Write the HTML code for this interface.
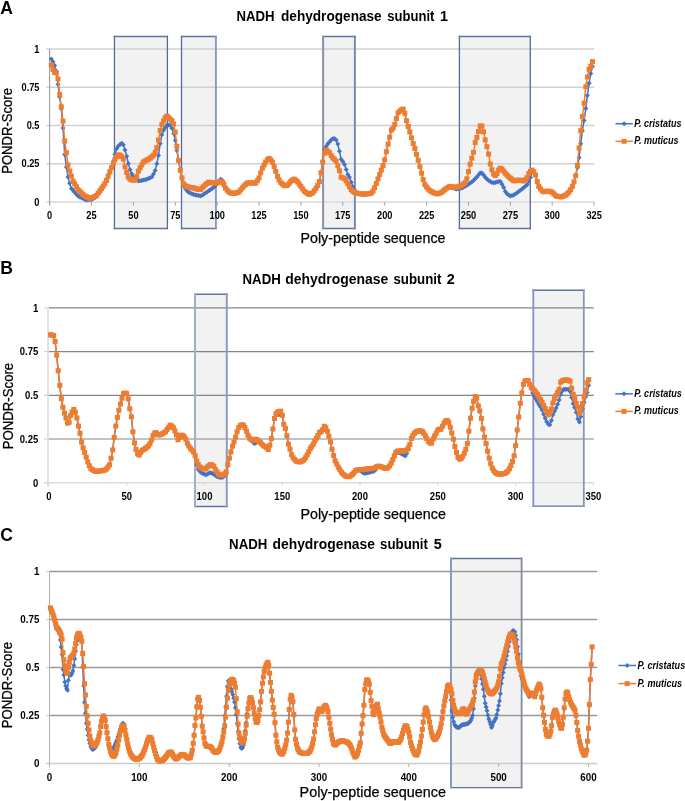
<!DOCTYPE html>
<html><head><meta charset="utf-8"><title>PONDR plots</title>
<style>html,body{margin:0;padding:0;background:#fff;width:685px;height:801px;overflow:hidden}
svg{display:block;font-family:"Liberation Sans", Arial, sans-serif;fill:#000}</style></head>
<body><svg width="685" height="801" viewBox="0 0 685 801">
<defs><path id="dm" d="M0,-2.5L2.5,0L0,2.5L-2.5,0Z" fill="#4472C4"/><rect id="sq" x="-2.5" y="-2.5" width="5" height="5" fill="#ED7D31"/></defs>
<g><text x="0.3" y="14.0" font-size="17.5" font-weight="bold">A</text>
<text x="236.5" y="20.9" font-size="14.4" font-weight="bold" textLength="38.1" lengthAdjust="spacingAndGlyphs">NADH</text>
<text x="281.0" y="20.9" font-size="14.4" font-weight="bold" textLength="100.7" lengthAdjust="spacingAndGlyphs">dehydrogenase</text>
<text x="387.2" y="20.9" font-size="14.4" font-weight="bold" textLength="47.2" lengthAdjust="spacingAndGlyphs">subunit</text>
<text x="444.1" y="20.9" font-size="14.4" font-weight="bold" text-anchor="middle">1</text>
<rect x="114.5" y="36.5" width="52.9" height="192.0" fill="#f2f2f2"/>
<rect x="181.6" y="36.5" width="34.0" height="192.0" fill="#f2f2f2"/>
<rect x="323" y="36.5" width="31.7" height="192.0" fill="#f2f2f2"/>
<rect x="459.5" y="36.5" width="71.0" height="192.0" fill="#f2f2f2"/>
<line x1="46.4" x2="49.6" y1="48.9" y2="48.9" stroke="#d0d0d0" stroke-width="1.5"/>
<line x1="49.6" x2="594.2" y1="48.9" y2="48.9" stroke="#d0d0d0" stroke-width="1.5"/>
<line x1="46.4" x2="49.6" y1="87.2" y2="87.2" stroke="#d0d0d0" stroke-width="1.5"/>
<line x1="49.6" x2="594.2" y1="87.2" y2="87.2" stroke="#d0d0d0" stroke-width="1.5"/>
<line x1="46.4" x2="49.6" y1="125.5" y2="125.5" stroke="#d0d0d0" stroke-width="1.5"/>
<line x1="49.6" x2="594.2" y1="125.5" y2="125.5" stroke="#d0d0d0" stroke-width="1.5"/>
<line x1="46.4" x2="49.6" y1="163.8" y2="163.8" stroke="#d0d0d0" stroke-width="1.5"/>
<line x1="49.6" x2="594.2" y1="163.8" y2="163.8" stroke="#d0d0d0" stroke-width="1.5"/>
<line x1="46.4" x2="594.2" y1="202.1" y2="202.1" stroke="#d9d9d9" stroke-width="1.5"/>
<line x1="49.6" x2="49.6" y1="48.9" y2="205.6" stroke="#a0a0a0" stroke-width="1.1"/>
<line x1="49.6" x2="49.6" y1="202.1" y2="205.6" stroke="#a0a0a0" stroke-width="1"/>
<line x1="91.5" x2="91.5" y1="202.1" y2="205.6" stroke="#a0a0a0" stroke-width="1"/>
<line x1="133.4" x2="133.4" y1="202.1" y2="205.6" stroke="#a0a0a0" stroke-width="1"/>
<line x1="175.3" x2="175.3" y1="202.1" y2="205.6" stroke="#a0a0a0" stroke-width="1"/>
<line x1="217.2" x2="217.2" y1="202.1" y2="205.6" stroke="#a0a0a0" stroke-width="1"/>
<line x1="259.0" x2="259.0" y1="202.1" y2="205.6" stroke="#a0a0a0" stroke-width="1"/>
<line x1="300.9" x2="300.9" y1="202.1" y2="205.6" stroke="#a0a0a0" stroke-width="1"/>
<line x1="342.8" x2="342.8" y1="202.1" y2="205.6" stroke="#a0a0a0" stroke-width="1"/>
<line x1="384.7" x2="384.7" y1="202.1" y2="205.6" stroke="#a0a0a0" stroke-width="1"/>
<line x1="426.6" x2="426.6" y1="202.1" y2="205.6" stroke="#a0a0a0" stroke-width="1"/>
<line x1="468.5" x2="468.5" y1="202.1" y2="205.6" stroke="#a0a0a0" stroke-width="1"/>
<line x1="510.4" x2="510.4" y1="202.1" y2="205.6" stroke="#a0a0a0" stroke-width="1"/>
<line x1="552.2" x2="552.2" y1="202.1" y2="205.6" stroke="#a0a0a0" stroke-width="1"/>
<line x1="594.1" x2="594.1" y1="202.1" y2="205.6" stroke="#a0a0a0" stroke-width="1"/>
<line x1="113.80" x2="168.05" y1="36.5" y2="36.5" stroke="#62729c" stroke-width="1.4"/>
<line x1="113.80" x2="168.05" y1="228.5" y2="228.5" stroke="#62729c" stroke-width="1.4"/>
<line x1="114.45" x2="114.45" y1="35.8" y2="229.2" stroke="#566a9e" stroke-width="1.3"/>
<line x1="167.4" x2="167.4" y1="35.8" y2="229.2" stroke="#566a9e" stroke-width="1.3"/>
<line x1="180.85" x2="216.85" y1="36.5" y2="36.5" stroke="#62729c" stroke-width="1.4"/>
<line x1="180.85" x2="216.85" y1="228.5" y2="228.5" stroke="#62729c" stroke-width="1.4"/>
<line x1="181.5" x2="181.5" y1="35.8" y2="229.2" stroke="#566a9e" stroke-width="1.3"/>
<line x1="215.9" x2="215.9" y1="35.8" y2="229.2" stroke="#8898c0" stroke-width="1.9"/>
<line x1="322.10" x2="355.90" y1="36.5" y2="36.5" stroke="#62729c" stroke-width="1.4"/>
<line x1="322.10" x2="355.90" y1="228.5" y2="228.5" stroke="#62729c" stroke-width="1.4"/>
<line x1="323.1" x2="323.1" y1="35.8" y2="229.2" stroke="#8890b0" stroke-width="2.0"/>
<line x1="354.9" x2="354.9" y1="35.8" y2="229.2" stroke="#7c88b0" stroke-width="2.0"/>
<line x1="458.75" x2="530.95" y1="36.5" y2="36.5" stroke="#62729c" stroke-width="1.4"/>
<line x1="458.75" x2="530.95" y1="228.5" y2="228.5" stroke="#62729c" stroke-width="1.4"/>
<line x1="459.4" x2="459.4" y1="35.8" y2="229.2" stroke="#566a9e" stroke-width="1.3"/>
<line x1="530.3" x2="530.3" y1="35.8" y2="229.2" stroke="#566a9e" stroke-width="1.3"/>
<polyline points="51.3,59.1 53.0,61.7 54.6,65.4 56.3,71.3 58.0,84.3 59.7,97.1 61.3,108.8 63.0,128.1 64.7,154.4 66.4,167.1 68.0,177.1 69.7,183.3 71.4,188.4 73.1,190.4 74.7,192.3 76.4,194.2 78.1,196.0 79.8,196.9 81.4,197.7 83.1,198.6 84.8,199.4 86.5,200.0 88.1,199.8 89.8,199.7 91.5,199.5 93.2,198.8 94.8,197.7 96.5,196.3 98.2,194.1 99.9,191.8 101.5,189.6 103.2,186.3 104.9,182.7 106.6,179.0 108.2,175.1 109.9,170.7 111.6,166.4 113.3,161.2 114.9,154.6 116.6,148.8 118.3,146.0 120.0,144.4 121.6,143.2 123.3,144.7 125.0,149.9 126.7,156.3 128.3,163.4 130.0,169.4 131.7,173.8 133.4,176.8 135.1,178.5 136.7,179.7 138.4,181.0 140.1,180.8 141.8,180.4 143.4,180.0 145.1,179.7 146.8,179.2 148.5,178.5 150.1,177.8 151.8,177.1 153.5,174.0 155.2,170.4 156.8,163.7 158.5,155.5 160.2,143.5 161.9,134.7 163.5,130.2 165.2,127.4 166.9,125.2 168.6,125.0 170.2,125.4 171.9,128.2 173.6,133.6 175.3,140.6 176.9,150.6 178.6,160.7 180.3,170.7 182.0,178.9 183.6,185.6 185.3,188.6 187.0,190.7 188.7,192.3 190.3,193.0 192.0,193.7 193.7,194.5 195.4,194.9 197.0,195.2 198.7,195.5 200.4,195.9 202.1,195.3 203.7,194.2 205.4,193.1 207.1,191.9 208.8,190.8 210.4,189.7 212.1,188.6 213.8,187.2 215.5,185.5 217.2,183.8 218.8,181.5 220.5,179.3 222.2,180.3 223.9,182.8 225.5,187.6 227.2,190.2 228.9,191.9 230.6,193.0 232.2,193.2 233.9,193.3 235.6,193.2 237.3,192.6 238.9,192.0 240.6,190.0 242.3,187.9 244.0,186.0 245.6,184.4 247.3,183.0 249.0,183.0 250.7,183.0 252.3,183.0 254.0,183.0 255.7,183.0 257.4,180.7 259.0,177.9 260.7,172.9 262.4,168.2 264.1,164.9 265.7,162.0 267.4,159.6 269.1,158.4 270.8,159.9 272.4,162.2 274.1,166.6 275.8,171.4 277.5,176.4 279.1,179.9 280.8,182.7 282.5,184.1 284.2,185.4 285.8,185.7 287.5,185.2 289.2,183.4 290.9,181.2 292.5,180.0 294.2,179.1 295.9,180.3 297.6,181.8 299.2,184.0 300.9,186.4 302.6,188.9 304.3,191.2 306.0,192.4 307.6,193.6 309.3,194.4 311.0,193.6 312.7,192.8 314.3,190.7 316.0,188.4 317.7,185.4 319.4,181.6 321.0,172.8 322.7,161.3 324.4,149.4 326.1,146.6 327.7,144.1 329.4,142.0 331.1,139.9 332.8,138.8 334.4,138.4 336.1,140.1 337.8,144.1 339.5,151.3 341.1,159.2 342.8,161.4 344.5,164.5 346.2,169.5 347.8,174.5 349.5,177.3 351.2,182.2 352.9,186.7 354.5,190.1 356.2,193.0 357.9,193.4 359.6,193.7 361.2,194.0 362.9,194.0 364.6,194.0 366.3,194.0 367.9,193.8 369.6,193.5 371.3,193.1 373.0,191.1 374.6,187.7 376.3,183.5 378.0,179.0 379.7,174.5 381.3,170.1 383.0,165.6 384.7,159.8 386.4,151.7 388.1,144.1 389.7,137.2 391.4,130.0 393.1,128.1 394.8,124.4 396.4,118.5 398.1,112.9 399.8,111.2 401.5,109.8 403.1,109.1 404.8,113.4 406.5,120.7 408.2,126.5 409.8,131.9 411.5,137.8 413.2,143.6 414.9,148.6 416.5,154.4 418.2,160.2 419.9,166.5 421.6,173.2 423.2,179.7 424.9,184.7 426.6,187.0 428.3,189.1 429.9,190.6 431.6,191.6 433.3,192.6 435.0,193.2 436.6,193.7 438.3,193.8 440.0,193.0 441.7,192.2 443.3,190.9 445.0,189.4 446.7,188.3 448.4,187.7 450.0,187.0 451.7,187.6 453.4,188.1 455.1,188.7 456.7,188.9 458.4,188.8 460.1,188.6 461.8,187.9 463.4,187.2 465.1,186.3 466.8,185.3 468.5,184.3 470.2,183.1 471.8,181.9 473.5,180.5 475.2,178.8 476.9,177.1 478.5,175.0 480.2,173.0 481.9,173.0 483.6,175.1 485.2,177.2 486.9,178.9 488.6,180.6 490.3,181.6 491.9,182.5 493.6,182.8 495.3,182.4 497.0,182.0 498.6,181.5 500.3,181.5 502.0,184.3 503.7,187.5 505.3,191.5 507.0,193.8 508.7,195.0 510.4,195.9 512.0,195.5 513.7,195.1 515.4,194.0 517.1,192.7 518.7,191.4 520.4,190.2 522.1,188.9 523.8,187.6 525.4,186.2 527.1,184.8 528.8,181.4 530.5,177.4 532.1,172.0 533.8,172.6 535.5,175.0 537.2,181.5 538.8,186.5 540.5,188.9 542.2,191.0 543.9,191.8 545.5,191.5 547.2,191.2 548.9,191.2 550.6,191.6 552.2,192.2 553.9,193.9 555.6,195.6 557.3,196.3 559.0,196.6 560.6,196.9 562.3,196.5 564.0,195.8 565.7,195.1 567.3,193.7 569.0,192.0 570.7,189.6 572.4,186.3 574.0,181.9 575.7,175.7 577.4,167.8 579.1,157.5 580.7,143.7 582.4,130.7 584.1,120.4 585.8,108.6 587.4,95.6 589.1,83.2 590.8,73.6 592.5,66.6" fill="none" stroke="#4472C4" stroke-width="1.5" stroke-linejoin="round"/>
<g><use href="#dm" x="51.3" y="59.1"/><use href="#dm" x="53.0" y="61.7"/><use href="#dm" x="54.6" y="65.4"/><use href="#dm" x="56.3" y="71.3"/><use href="#dm" x="58.0" y="84.3"/><use href="#dm" x="59.7" y="97.1"/><use href="#dm" x="61.3" y="108.8"/><use href="#dm" x="63.0" y="128.1"/><use href="#dm" x="64.7" y="154.4"/><use href="#dm" x="66.4" y="167.1"/><use href="#dm" x="68.0" y="177.1"/><use href="#dm" x="69.7" y="183.3"/><use href="#dm" x="71.4" y="188.4"/><use href="#dm" x="73.1" y="190.4"/><use href="#dm" x="74.7" y="192.3"/><use href="#dm" x="76.4" y="194.2"/><use href="#dm" x="78.1" y="196.0"/><use href="#dm" x="79.8" y="196.9"/><use href="#dm" x="81.4" y="197.7"/><use href="#dm" x="83.1" y="198.6"/><use href="#dm" x="84.8" y="199.4"/><use href="#dm" x="86.5" y="200.0"/><use href="#dm" x="88.1" y="199.8"/><use href="#dm" x="89.8" y="199.7"/><use href="#dm" x="91.5" y="199.5"/><use href="#dm" x="93.2" y="198.8"/><use href="#dm" x="94.8" y="197.7"/><use href="#dm" x="96.5" y="196.3"/><use href="#dm" x="98.2" y="194.1"/><use href="#dm" x="99.9" y="191.8"/><use href="#dm" x="101.5" y="189.6"/><use href="#dm" x="103.2" y="186.3"/><use href="#dm" x="104.9" y="182.7"/><use href="#dm" x="106.6" y="179.0"/><use href="#dm" x="108.2" y="175.1"/><use href="#dm" x="109.9" y="170.7"/><use href="#dm" x="111.6" y="166.4"/><use href="#dm" x="113.3" y="161.2"/><use href="#dm" x="114.9" y="154.6"/><use href="#dm" x="116.6" y="148.8"/><use href="#dm" x="118.3" y="146.0"/><use href="#dm" x="120.0" y="144.4"/><use href="#dm" x="121.6" y="143.2"/><use href="#dm" x="123.3" y="144.7"/><use href="#dm" x="125.0" y="149.9"/><use href="#dm" x="126.7" y="156.3"/><use href="#dm" x="128.3" y="163.4"/><use href="#dm" x="130.0" y="169.4"/><use href="#dm" x="131.7" y="173.8"/><use href="#dm" x="133.4" y="176.8"/><use href="#dm" x="135.1" y="178.5"/><use href="#dm" x="136.7" y="179.7"/><use href="#dm" x="138.4" y="181.0"/><use href="#dm" x="140.1" y="180.8"/><use href="#dm" x="141.8" y="180.4"/><use href="#dm" x="143.4" y="180.0"/><use href="#dm" x="145.1" y="179.7"/><use href="#dm" x="146.8" y="179.2"/><use href="#dm" x="148.5" y="178.5"/><use href="#dm" x="150.1" y="177.8"/><use href="#dm" x="151.8" y="177.1"/><use href="#dm" x="153.5" y="174.0"/><use href="#dm" x="155.2" y="170.4"/><use href="#dm" x="156.8" y="163.7"/><use href="#dm" x="158.5" y="155.5"/><use href="#dm" x="160.2" y="143.5"/><use href="#dm" x="161.9" y="134.7"/><use href="#dm" x="163.5" y="130.2"/><use href="#dm" x="165.2" y="127.4"/><use href="#dm" x="166.9" y="125.2"/><use href="#dm" x="168.6" y="125.0"/><use href="#dm" x="170.2" y="125.4"/><use href="#dm" x="171.9" y="128.2"/><use href="#dm" x="173.6" y="133.6"/><use href="#dm" x="175.3" y="140.6"/><use href="#dm" x="176.9" y="150.6"/><use href="#dm" x="178.6" y="160.7"/><use href="#dm" x="180.3" y="170.7"/><use href="#dm" x="182.0" y="178.9"/><use href="#dm" x="183.6" y="185.6"/><use href="#dm" x="185.3" y="188.6"/><use href="#dm" x="187.0" y="190.7"/><use href="#dm" x="188.7" y="192.3"/><use href="#dm" x="190.3" y="193.0"/><use href="#dm" x="192.0" y="193.7"/><use href="#dm" x="193.7" y="194.5"/><use href="#dm" x="195.4" y="194.9"/><use href="#dm" x="197.0" y="195.2"/><use href="#dm" x="198.7" y="195.5"/><use href="#dm" x="200.4" y="195.9"/><use href="#dm" x="202.1" y="195.3"/><use href="#dm" x="203.7" y="194.2"/><use href="#dm" x="205.4" y="193.1"/><use href="#dm" x="207.1" y="191.9"/><use href="#dm" x="208.8" y="190.8"/><use href="#dm" x="210.4" y="189.7"/><use href="#dm" x="212.1" y="188.6"/><use href="#dm" x="213.8" y="187.2"/><use href="#dm" x="215.5" y="185.5"/><use href="#dm" x="217.2" y="183.8"/><use href="#dm" x="218.8" y="181.5"/><use href="#dm" x="220.5" y="179.3"/><use href="#dm" x="222.2" y="180.3"/><use href="#dm" x="223.9" y="182.8"/><use href="#dm" x="225.5" y="187.6"/><use href="#dm" x="227.2" y="190.2"/><use href="#dm" x="228.9" y="191.9"/><use href="#dm" x="230.6" y="193.0"/><use href="#dm" x="232.2" y="193.2"/><use href="#dm" x="233.9" y="193.3"/><use href="#dm" x="235.6" y="193.2"/><use href="#dm" x="237.3" y="192.6"/><use href="#dm" x="238.9" y="192.0"/><use href="#dm" x="240.6" y="190.0"/><use href="#dm" x="242.3" y="187.9"/><use href="#dm" x="244.0" y="186.0"/><use href="#dm" x="245.6" y="184.4"/><use href="#dm" x="247.3" y="183.0"/><use href="#dm" x="249.0" y="183.0"/><use href="#dm" x="250.7" y="183.0"/><use href="#dm" x="252.3" y="183.0"/><use href="#dm" x="254.0" y="183.0"/><use href="#dm" x="255.7" y="183.0"/><use href="#dm" x="257.4" y="180.7"/><use href="#dm" x="259.0" y="177.9"/><use href="#dm" x="260.7" y="172.9"/><use href="#dm" x="262.4" y="168.2"/><use href="#dm" x="264.1" y="164.9"/><use href="#dm" x="265.7" y="162.0"/><use href="#dm" x="267.4" y="159.6"/><use href="#dm" x="269.1" y="158.4"/><use href="#dm" x="270.8" y="159.9"/><use href="#dm" x="272.4" y="162.2"/><use href="#dm" x="274.1" y="166.6"/><use href="#dm" x="275.8" y="171.4"/><use href="#dm" x="277.5" y="176.4"/><use href="#dm" x="279.1" y="179.9"/><use href="#dm" x="280.8" y="182.7"/><use href="#dm" x="282.5" y="184.1"/><use href="#dm" x="284.2" y="185.4"/><use href="#dm" x="285.8" y="185.7"/><use href="#dm" x="287.5" y="185.2"/><use href="#dm" x="289.2" y="183.4"/><use href="#dm" x="290.9" y="181.2"/><use href="#dm" x="292.5" y="180.0"/><use href="#dm" x="294.2" y="179.1"/><use href="#dm" x="295.9" y="180.3"/><use href="#dm" x="297.6" y="181.8"/><use href="#dm" x="299.2" y="184.0"/><use href="#dm" x="300.9" y="186.4"/><use href="#dm" x="302.6" y="188.9"/><use href="#dm" x="304.3" y="191.2"/><use href="#dm" x="306.0" y="192.4"/><use href="#dm" x="307.6" y="193.6"/><use href="#dm" x="309.3" y="194.4"/><use href="#dm" x="311.0" y="193.6"/><use href="#dm" x="312.7" y="192.8"/><use href="#dm" x="314.3" y="190.7"/><use href="#dm" x="316.0" y="188.4"/><use href="#dm" x="317.7" y="185.4"/><use href="#dm" x="319.4" y="181.6"/><use href="#dm" x="321.0" y="172.8"/><use href="#dm" x="322.7" y="161.3"/><use href="#dm" x="324.4" y="149.4"/><use href="#dm" x="326.1" y="146.6"/><use href="#dm" x="327.7" y="144.1"/><use href="#dm" x="329.4" y="142.0"/><use href="#dm" x="331.1" y="139.9"/><use href="#dm" x="332.8" y="138.8"/><use href="#dm" x="334.4" y="138.4"/><use href="#dm" x="336.1" y="140.1"/><use href="#dm" x="337.8" y="144.1"/><use href="#dm" x="339.5" y="151.3"/><use href="#dm" x="341.1" y="159.2"/><use href="#dm" x="342.8" y="161.4"/><use href="#dm" x="344.5" y="164.5"/><use href="#dm" x="346.2" y="169.5"/><use href="#dm" x="347.8" y="174.5"/><use href="#dm" x="349.5" y="177.3"/><use href="#dm" x="351.2" y="182.2"/><use href="#dm" x="352.9" y="186.7"/><use href="#dm" x="354.5" y="190.1"/><use href="#dm" x="356.2" y="193.0"/><use href="#dm" x="357.9" y="193.4"/><use href="#dm" x="359.6" y="193.7"/><use href="#dm" x="361.2" y="194.0"/><use href="#dm" x="362.9" y="194.0"/><use href="#dm" x="364.6" y="194.0"/><use href="#dm" x="366.3" y="194.0"/><use href="#dm" x="367.9" y="193.8"/><use href="#dm" x="369.6" y="193.5"/><use href="#dm" x="371.3" y="193.1"/><use href="#dm" x="373.0" y="191.1"/><use href="#dm" x="374.6" y="187.7"/><use href="#dm" x="376.3" y="183.5"/><use href="#dm" x="378.0" y="179.0"/><use href="#dm" x="379.7" y="174.5"/><use href="#dm" x="381.3" y="170.1"/><use href="#dm" x="383.0" y="165.6"/><use href="#dm" x="384.7" y="159.8"/><use href="#dm" x="386.4" y="151.7"/><use href="#dm" x="388.1" y="144.1"/><use href="#dm" x="389.7" y="137.2"/><use href="#dm" x="391.4" y="130.0"/><use href="#dm" x="393.1" y="128.1"/><use href="#dm" x="394.8" y="124.4"/><use href="#dm" x="396.4" y="118.5"/><use href="#dm" x="398.1" y="112.9"/><use href="#dm" x="399.8" y="111.2"/><use href="#dm" x="401.5" y="109.8"/><use href="#dm" x="403.1" y="109.1"/><use href="#dm" x="404.8" y="113.4"/><use href="#dm" x="406.5" y="120.7"/><use href="#dm" x="408.2" y="126.5"/><use href="#dm" x="409.8" y="131.9"/><use href="#dm" x="411.5" y="137.8"/><use href="#dm" x="413.2" y="143.6"/><use href="#dm" x="414.9" y="148.6"/><use href="#dm" x="416.5" y="154.4"/><use href="#dm" x="418.2" y="160.2"/><use href="#dm" x="419.9" y="166.5"/><use href="#dm" x="421.6" y="173.2"/><use href="#dm" x="423.2" y="179.7"/><use href="#dm" x="424.9" y="184.7"/><use href="#dm" x="426.6" y="187.0"/><use href="#dm" x="428.3" y="189.1"/><use href="#dm" x="429.9" y="190.6"/><use href="#dm" x="431.6" y="191.6"/><use href="#dm" x="433.3" y="192.6"/><use href="#dm" x="435.0" y="193.2"/><use href="#dm" x="436.6" y="193.7"/><use href="#dm" x="438.3" y="193.8"/><use href="#dm" x="440.0" y="193.0"/><use href="#dm" x="441.7" y="192.2"/><use href="#dm" x="443.3" y="190.9"/><use href="#dm" x="445.0" y="189.4"/><use href="#dm" x="446.7" y="188.3"/><use href="#dm" x="448.4" y="187.7"/><use href="#dm" x="450.0" y="187.0"/><use href="#dm" x="451.7" y="187.6"/><use href="#dm" x="453.4" y="188.1"/><use href="#dm" x="455.1" y="188.7"/><use href="#dm" x="456.7" y="188.9"/><use href="#dm" x="458.4" y="188.8"/><use href="#dm" x="460.1" y="188.6"/><use href="#dm" x="461.8" y="187.9"/><use href="#dm" x="463.4" y="187.2"/><use href="#dm" x="465.1" y="186.3"/><use href="#dm" x="466.8" y="185.3"/><use href="#dm" x="468.5" y="184.3"/><use href="#dm" x="470.2" y="183.1"/><use href="#dm" x="471.8" y="181.9"/><use href="#dm" x="473.5" y="180.5"/><use href="#dm" x="475.2" y="178.8"/><use href="#dm" x="476.9" y="177.1"/><use href="#dm" x="478.5" y="175.0"/><use href="#dm" x="480.2" y="173.0"/><use href="#dm" x="481.9" y="173.0"/><use href="#dm" x="483.6" y="175.1"/><use href="#dm" x="485.2" y="177.2"/><use href="#dm" x="486.9" y="178.9"/><use href="#dm" x="488.6" y="180.6"/><use href="#dm" x="490.3" y="181.6"/><use href="#dm" x="491.9" y="182.5"/><use href="#dm" x="493.6" y="182.8"/><use href="#dm" x="495.3" y="182.4"/><use href="#dm" x="497.0" y="182.0"/><use href="#dm" x="498.6" y="181.5"/><use href="#dm" x="500.3" y="181.5"/><use href="#dm" x="502.0" y="184.3"/><use href="#dm" x="503.7" y="187.5"/><use href="#dm" x="505.3" y="191.5"/><use href="#dm" x="507.0" y="193.8"/><use href="#dm" x="508.7" y="195.0"/><use href="#dm" x="510.4" y="195.9"/><use href="#dm" x="512.0" y="195.5"/><use href="#dm" x="513.7" y="195.1"/><use href="#dm" x="515.4" y="194.0"/><use href="#dm" x="517.1" y="192.7"/><use href="#dm" x="518.7" y="191.4"/><use href="#dm" x="520.4" y="190.2"/><use href="#dm" x="522.1" y="188.9"/><use href="#dm" x="523.8" y="187.6"/><use href="#dm" x="525.4" y="186.2"/><use href="#dm" x="527.1" y="184.8"/><use href="#dm" x="528.8" y="181.4"/><use href="#dm" x="530.5" y="177.4"/><use href="#dm" x="532.1" y="172.0"/><use href="#dm" x="533.8" y="172.6"/><use href="#dm" x="535.5" y="175.0"/><use href="#dm" x="537.2" y="181.5"/><use href="#dm" x="538.8" y="186.5"/><use href="#dm" x="540.5" y="188.9"/><use href="#dm" x="542.2" y="191.0"/><use href="#dm" x="543.9" y="191.8"/><use href="#dm" x="545.5" y="191.5"/><use href="#dm" x="547.2" y="191.2"/><use href="#dm" x="548.9" y="191.2"/><use href="#dm" x="550.6" y="191.6"/><use href="#dm" x="552.2" y="192.2"/><use href="#dm" x="553.9" y="193.9"/><use href="#dm" x="555.6" y="195.6"/><use href="#dm" x="557.3" y="196.3"/><use href="#dm" x="559.0" y="196.6"/><use href="#dm" x="560.6" y="196.9"/><use href="#dm" x="562.3" y="196.5"/><use href="#dm" x="564.0" y="195.8"/><use href="#dm" x="565.7" y="195.1"/><use href="#dm" x="567.3" y="193.7"/><use href="#dm" x="569.0" y="192.0"/><use href="#dm" x="570.7" y="189.6"/><use href="#dm" x="572.4" y="186.3"/><use href="#dm" x="574.0" y="181.9"/><use href="#dm" x="575.7" y="175.7"/><use href="#dm" x="577.4" y="167.8"/><use href="#dm" x="579.1" y="157.5"/><use href="#dm" x="580.7" y="143.7"/><use href="#dm" x="582.4" y="130.7"/><use href="#dm" x="584.1" y="120.4"/><use href="#dm" x="585.8" y="108.6"/><use href="#dm" x="587.4" y="95.6"/><use href="#dm" x="589.1" y="83.2"/><use href="#dm" x="590.8" y="73.6"/><use href="#dm" x="592.5" y="66.6"/></g>
<polyline points="51.3,65.0 53.0,69.4 54.6,72.5 56.3,72.9 58.0,78.9 59.7,94.6 61.3,106.8 63.0,121.1 64.7,141.0 66.4,152.7 68.0,165.1 69.7,171.0 71.4,176.1 73.1,181.1 74.7,183.9 76.4,186.8 78.1,189.6 79.8,191.3 81.4,192.9 83.1,194.6 84.8,195.9 86.5,196.7 88.1,197.6 89.8,198.4 91.5,197.9 93.2,197.2 94.8,196.5 96.5,195.3 98.2,193.1 99.9,190.8 101.5,188.6 103.2,186.2 104.9,183.7 106.6,180.5 108.2,176.2 109.9,171.9 111.6,167.6 113.3,163.4 114.9,159.7 116.6,156.9 118.3,154.8 120.0,155.2 121.6,156.4 123.3,159.1 125.0,166.9 126.7,172.5 128.3,177.1 130.0,179.2 131.7,180.0 133.4,180.2 135.1,180.1 136.7,176.6 138.4,171.2 140.1,167.8 141.8,164.8 143.4,162.1 145.1,161.0 146.8,160.1 148.5,159.3 150.1,158.2 151.8,156.9 153.5,155.2 155.2,152.4 156.8,147.7 158.5,140.0 160.2,130.4 161.9,124.5 163.5,120.9 165.2,117.8 166.9,116.1 168.6,117.6 170.2,119.2 171.9,120.6 173.6,124.0 175.3,132.1 176.9,146.4 178.6,160.3 180.3,170.3 182.0,177.8 183.6,183.7 185.3,185.7 187.0,186.5 188.7,187.1 190.3,187.4 192.0,187.7 193.7,187.9 195.4,188.5 197.0,189.0 198.7,189.6 200.4,189.6 202.1,187.9 203.7,186.3 205.4,184.7 207.1,183.4 208.8,182.2 210.4,182.4 212.1,182.8 213.8,183.0 215.5,183.0 217.2,182.9 218.8,181.8 220.5,181.3 222.2,182.5 223.9,184.7 225.5,188.1 227.2,190.2 228.9,191.9 230.6,193.0 232.2,193.2 233.9,193.3 235.6,193.2 237.3,192.6 238.9,192.0 240.6,190.0 242.3,187.9 244.0,186.0 245.6,184.4 247.3,183.0 249.0,183.0 250.7,183.0 252.3,183.0 254.0,183.0 255.7,183.0 257.4,180.7 259.0,177.9 260.7,172.9 262.4,168.2 264.1,164.9 265.7,162.0 267.4,159.6 269.1,158.4 270.8,159.9 272.4,162.2 274.1,166.6 275.8,171.4 277.5,176.4 279.1,179.9 280.8,182.7 282.5,184.1 284.2,185.4 285.8,185.7 287.5,185.2 289.2,183.4 290.9,181.2 292.5,180.0 294.2,179.1 295.9,180.3 297.6,181.8 299.2,184.0 300.9,186.4 302.6,188.9 304.3,191.2 306.0,192.4 307.6,193.6 309.3,194.4 311.0,193.6 312.7,192.8 314.3,190.7 316.0,188.4 317.7,185.4 319.4,181.6 321.0,172.8 322.7,162.1 324.4,153.2 326.1,150.0 327.7,151.2 329.4,152.7 331.1,155.5 332.8,157.8 334.4,159.4 336.1,161.3 337.8,165.8 339.5,170.8 341.1,177.1 342.8,177.9 344.5,178.7 346.2,180.9 347.8,183.7 349.5,186.7 351.2,189.6 352.9,191.4 354.5,192.3 356.2,193.0 357.9,193.4 359.6,193.7 361.2,194.0 362.9,194.0 364.6,194.0 366.3,194.0 367.9,193.8 369.6,193.5 371.3,193.1 373.0,191.1 374.6,187.7 376.3,183.5 378.0,179.0 379.7,174.5 381.3,170.1 383.0,165.6 384.7,159.8 386.4,151.7 388.1,144.1 389.7,137.2 391.4,130.0 393.1,128.1 394.8,124.4 396.4,118.5 398.1,112.9 399.8,111.2 401.5,109.8 403.1,109.1 404.8,113.4 406.5,120.7 408.2,126.5 409.8,131.9 411.5,137.8 413.2,143.6 414.9,148.6 416.5,154.4 418.2,160.2 419.9,166.5 421.6,173.2 423.2,179.7 424.9,184.7 426.6,187.0 428.3,189.1 429.9,190.6 431.6,191.6 433.3,192.6 435.0,193.2 436.6,193.7 438.3,193.8 440.0,193.0 441.7,192.2 443.3,190.9 445.0,189.4 446.7,188.2 448.4,187.3 450.0,186.4 451.7,186.8 453.4,187.2 455.1,187.3 456.7,187.1 458.4,186.8 460.1,186.0 461.8,185.1 463.4,183.9 465.1,182.7 466.8,178.8 468.5,171.6 470.2,164.1 471.8,158.2 473.5,152.3 475.2,142.5 476.9,137.4 478.5,131.5 480.2,126.0 481.9,126.0 483.6,131.8 485.2,139.9 486.9,146.6 488.6,154.1 490.3,164.1 491.9,169.8 493.6,174.0 495.3,175.6 497.0,173.6 498.6,170.0 500.3,168.2 502.0,169.0 503.7,171.2 505.3,173.3 507.0,175.0 508.7,176.7 510.4,178.1 512.0,179.4 513.7,180.8 515.4,180.7 517.1,180.4 518.7,180.1 520.4,180.3 522.1,180.6 523.8,181.0 525.4,179.6 527.1,177.7 528.8,173.5 530.5,171.5 532.1,170.1 533.8,171.8 535.5,175.0 537.2,181.5 538.8,186.5 540.5,188.9 542.2,191.0 543.9,191.8 545.5,191.5 547.2,191.2 548.9,191.2 550.6,191.6 552.2,192.2 553.9,193.9 555.6,195.6 557.3,196.3 559.0,196.6 560.6,196.9 562.3,196.5 564.0,195.8 565.7,195.1 567.3,193.7 569.0,192.0 570.7,189.6 572.4,186.3 574.0,181.9 575.7,175.7 577.4,165.3 579.1,148.0 580.7,130.7 582.4,116.5 584.1,103.2 585.8,86.7 587.4,77.0 589.1,69.3 590.8,66.5 592.5,61.6" fill="none" stroke="#ED7D31" stroke-width="1.5" stroke-linejoin="round"/>
<g><use href="#sq" x="51.3" y="65.0"/><use href="#sq" x="53.0" y="69.4"/><use href="#sq" x="54.6" y="72.5"/><use href="#sq" x="56.3" y="72.9"/><use href="#sq" x="58.0" y="78.9"/><use href="#sq" x="59.7" y="94.6"/><use href="#sq" x="61.3" y="106.8"/><use href="#sq" x="63.0" y="121.1"/><use href="#sq" x="64.7" y="141.0"/><use href="#sq" x="66.4" y="152.7"/><use href="#sq" x="68.0" y="165.1"/><use href="#sq" x="69.7" y="171.0"/><use href="#sq" x="71.4" y="176.1"/><use href="#sq" x="73.1" y="181.1"/><use href="#sq" x="74.7" y="183.9"/><use href="#sq" x="76.4" y="186.8"/><use href="#sq" x="78.1" y="189.6"/><use href="#sq" x="79.8" y="191.3"/><use href="#sq" x="81.4" y="192.9"/><use href="#sq" x="83.1" y="194.6"/><use href="#sq" x="84.8" y="195.9"/><use href="#sq" x="86.5" y="196.7"/><use href="#sq" x="88.1" y="197.6"/><use href="#sq" x="89.8" y="198.4"/><use href="#sq" x="91.5" y="197.9"/><use href="#sq" x="93.2" y="197.2"/><use href="#sq" x="94.8" y="196.5"/><use href="#sq" x="96.5" y="195.3"/><use href="#sq" x="98.2" y="193.1"/><use href="#sq" x="99.9" y="190.8"/><use href="#sq" x="101.5" y="188.6"/><use href="#sq" x="103.2" y="186.2"/><use href="#sq" x="104.9" y="183.7"/><use href="#sq" x="106.6" y="180.5"/><use href="#sq" x="108.2" y="176.2"/><use href="#sq" x="109.9" y="171.9"/><use href="#sq" x="111.6" y="167.6"/><use href="#sq" x="113.3" y="163.4"/><use href="#sq" x="114.9" y="159.7"/><use href="#sq" x="116.6" y="156.9"/><use href="#sq" x="118.3" y="154.8"/><use href="#sq" x="120.0" y="155.2"/><use href="#sq" x="121.6" y="156.4"/><use href="#sq" x="123.3" y="159.1"/><use href="#sq" x="125.0" y="166.9"/><use href="#sq" x="126.7" y="172.5"/><use href="#sq" x="128.3" y="177.1"/><use href="#sq" x="130.0" y="179.2"/><use href="#sq" x="131.7" y="180.0"/><use href="#sq" x="133.4" y="180.2"/><use href="#sq" x="135.1" y="180.1"/><use href="#sq" x="136.7" y="176.6"/><use href="#sq" x="138.4" y="171.2"/><use href="#sq" x="140.1" y="167.8"/><use href="#sq" x="141.8" y="164.8"/><use href="#sq" x="143.4" y="162.1"/><use href="#sq" x="145.1" y="161.0"/><use href="#sq" x="146.8" y="160.1"/><use href="#sq" x="148.5" y="159.3"/><use href="#sq" x="150.1" y="158.2"/><use href="#sq" x="151.8" y="156.9"/><use href="#sq" x="153.5" y="155.2"/><use href="#sq" x="155.2" y="152.4"/><use href="#sq" x="156.8" y="147.7"/><use href="#sq" x="158.5" y="140.0"/><use href="#sq" x="160.2" y="130.4"/><use href="#sq" x="161.9" y="124.5"/><use href="#sq" x="163.5" y="120.9"/><use href="#sq" x="165.2" y="117.8"/><use href="#sq" x="166.9" y="116.1"/><use href="#sq" x="168.6" y="117.6"/><use href="#sq" x="170.2" y="119.2"/><use href="#sq" x="171.9" y="120.6"/><use href="#sq" x="173.6" y="124.0"/><use href="#sq" x="175.3" y="132.1"/><use href="#sq" x="176.9" y="146.4"/><use href="#sq" x="178.6" y="160.3"/><use href="#sq" x="180.3" y="170.3"/><use href="#sq" x="182.0" y="177.8"/><use href="#sq" x="183.6" y="183.7"/><use href="#sq" x="185.3" y="185.7"/><use href="#sq" x="187.0" y="186.5"/><use href="#sq" x="188.7" y="187.1"/><use href="#sq" x="190.3" y="187.4"/><use href="#sq" x="192.0" y="187.7"/><use href="#sq" x="193.7" y="187.9"/><use href="#sq" x="195.4" y="188.5"/><use href="#sq" x="197.0" y="189.0"/><use href="#sq" x="198.7" y="189.6"/><use href="#sq" x="200.4" y="189.6"/><use href="#sq" x="202.1" y="187.9"/><use href="#sq" x="203.7" y="186.3"/><use href="#sq" x="205.4" y="184.7"/><use href="#sq" x="207.1" y="183.4"/><use href="#sq" x="208.8" y="182.2"/><use href="#sq" x="210.4" y="182.4"/><use href="#sq" x="212.1" y="182.8"/><use href="#sq" x="213.8" y="183.0"/><use href="#sq" x="215.5" y="183.0"/><use href="#sq" x="217.2" y="182.9"/><use href="#sq" x="218.8" y="181.8"/><use href="#sq" x="220.5" y="181.3"/><use href="#sq" x="222.2" y="182.5"/><use href="#sq" x="223.9" y="184.7"/><use href="#sq" x="225.5" y="188.1"/><use href="#sq" x="227.2" y="190.2"/><use href="#sq" x="228.9" y="191.9"/><use href="#sq" x="230.6" y="193.0"/><use href="#sq" x="232.2" y="193.2"/><use href="#sq" x="233.9" y="193.3"/><use href="#sq" x="235.6" y="193.2"/><use href="#sq" x="237.3" y="192.6"/><use href="#sq" x="238.9" y="192.0"/><use href="#sq" x="240.6" y="190.0"/><use href="#sq" x="242.3" y="187.9"/><use href="#sq" x="244.0" y="186.0"/><use href="#sq" x="245.6" y="184.4"/><use href="#sq" x="247.3" y="183.0"/><use href="#sq" x="249.0" y="183.0"/><use href="#sq" x="250.7" y="183.0"/><use href="#sq" x="252.3" y="183.0"/><use href="#sq" x="254.0" y="183.0"/><use href="#sq" x="255.7" y="183.0"/><use href="#sq" x="257.4" y="180.7"/><use href="#sq" x="259.0" y="177.9"/><use href="#sq" x="260.7" y="172.9"/><use href="#sq" x="262.4" y="168.2"/><use href="#sq" x="264.1" y="164.9"/><use href="#sq" x="265.7" y="162.0"/><use href="#sq" x="267.4" y="159.6"/><use href="#sq" x="269.1" y="158.4"/><use href="#sq" x="270.8" y="159.9"/><use href="#sq" x="272.4" y="162.2"/><use href="#sq" x="274.1" y="166.6"/><use href="#sq" x="275.8" y="171.4"/><use href="#sq" x="277.5" y="176.4"/><use href="#sq" x="279.1" y="179.9"/><use href="#sq" x="280.8" y="182.7"/><use href="#sq" x="282.5" y="184.1"/><use href="#sq" x="284.2" y="185.4"/><use href="#sq" x="285.8" y="185.7"/><use href="#sq" x="287.5" y="185.2"/><use href="#sq" x="289.2" y="183.4"/><use href="#sq" x="290.9" y="181.2"/><use href="#sq" x="292.5" y="180.0"/><use href="#sq" x="294.2" y="179.1"/><use href="#sq" x="295.9" y="180.3"/><use href="#sq" x="297.6" y="181.8"/><use href="#sq" x="299.2" y="184.0"/><use href="#sq" x="300.9" y="186.4"/><use href="#sq" x="302.6" y="188.9"/><use href="#sq" x="304.3" y="191.2"/><use href="#sq" x="306.0" y="192.4"/><use href="#sq" x="307.6" y="193.6"/><use href="#sq" x="309.3" y="194.4"/><use href="#sq" x="311.0" y="193.6"/><use href="#sq" x="312.7" y="192.8"/><use href="#sq" x="314.3" y="190.7"/><use href="#sq" x="316.0" y="188.4"/><use href="#sq" x="317.7" y="185.4"/><use href="#sq" x="319.4" y="181.6"/><use href="#sq" x="321.0" y="172.8"/><use href="#sq" x="322.7" y="162.1"/><use href="#sq" x="324.4" y="153.2"/><use href="#sq" x="326.1" y="150.0"/><use href="#sq" x="327.7" y="151.2"/><use href="#sq" x="329.4" y="152.7"/><use href="#sq" x="331.1" y="155.5"/><use href="#sq" x="332.8" y="157.8"/><use href="#sq" x="334.4" y="159.4"/><use href="#sq" x="336.1" y="161.3"/><use href="#sq" x="337.8" y="165.8"/><use href="#sq" x="339.5" y="170.8"/><use href="#sq" x="341.1" y="177.1"/><use href="#sq" x="342.8" y="177.9"/><use href="#sq" x="344.5" y="178.7"/><use href="#sq" x="346.2" y="180.9"/><use href="#sq" x="347.8" y="183.7"/><use href="#sq" x="349.5" y="186.7"/><use href="#sq" x="351.2" y="189.6"/><use href="#sq" x="352.9" y="191.4"/><use href="#sq" x="354.5" y="192.3"/><use href="#sq" x="356.2" y="193.0"/><use href="#sq" x="357.9" y="193.4"/><use href="#sq" x="359.6" y="193.7"/><use href="#sq" x="361.2" y="194.0"/><use href="#sq" x="362.9" y="194.0"/><use href="#sq" x="364.6" y="194.0"/><use href="#sq" x="366.3" y="194.0"/><use href="#sq" x="367.9" y="193.8"/><use href="#sq" x="369.6" y="193.5"/><use href="#sq" x="371.3" y="193.1"/><use href="#sq" x="373.0" y="191.1"/><use href="#sq" x="374.6" y="187.7"/><use href="#sq" x="376.3" y="183.5"/><use href="#sq" x="378.0" y="179.0"/><use href="#sq" x="379.7" y="174.5"/><use href="#sq" x="381.3" y="170.1"/><use href="#sq" x="383.0" y="165.6"/><use href="#sq" x="384.7" y="159.8"/><use href="#sq" x="386.4" y="151.7"/><use href="#sq" x="388.1" y="144.1"/><use href="#sq" x="389.7" y="137.2"/><use href="#sq" x="391.4" y="130.0"/><use href="#sq" x="393.1" y="128.1"/><use href="#sq" x="394.8" y="124.4"/><use href="#sq" x="396.4" y="118.5"/><use href="#sq" x="398.1" y="112.9"/><use href="#sq" x="399.8" y="111.2"/><use href="#sq" x="401.5" y="109.8"/><use href="#sq" x="403.1" y="109.1"/><use href="#sq" x="404.8" y="113.4"/><use href="#sq" x="406.5" y="120.7"/><use href="#sq" x="408.2" y="126.5"/><use href="#sq" x="409.8" y="131.9"/><use href="#sq" x="411.5" y="137.8"/><use href="#sq" x="413.2" y="143.6"/><use href="#sq" x="414.9" y="148.6"/><use href="#sq" x="416.5" y="154.4"/><use href="#sq" x="418.2" y="160.2"/><use href="#sq" x="419.9" y="166.5"/><use href="#sq" x="421.6" y="173.2"/><use href="#sq" x="423.2" y="179.7"/><use href="#sq" x="424.9" y="184.7"/><use href="#sq" x="426.6" y="187.0"/><use href="#sq" x="428.3" y="189.1"/><use href="#sq" x="429.9" y="190.6"/><use href="#sq" x="431.6" y="191.6"/><use href="#sq" x="433.3" y="192.6"/><use href="#sq" x="435.0" y="193.2"/><use href="#sq" x="436.6" y="193.7"/><use href="#sq" x="438.3" y="193.8"/><use href="#sq" x="440.0" y="193.0"/><use href="#sq" x="441.7" y="192.2"/><use href="#sq" x="443.3" y="190.9"/><use href="#sq" x="445.0" y="189.4"/><use href="#sq" x="446.7" y="188.2"/><use href="#sq" x="448.4" y="187.3"/><use href="#sq" x="450.0" y="186.4"/><use href="#sq" x="451.7" y="186.8"/><use href="#sq" x="453.4" y="187.2"/><use href="#sq" x="455.1" y="187.3"/><use href="#sq" x="456.7" y="187.1"/><use href="#sq" x="458.4" y="186.8"/><use href="#sq" x="460.1" y="186.0"/><use href="#sq" x="461.8" y="185.1"/><use href="#sq" x="463.4" y="183.9"/><use href="#sq" x="465.1" y="182.7"/><use href="#sq" x="466.8" y="178.8"/><use href="#sq" x="468.5" y="171.6"/><use href="#sq" x="470.2" y="164.1"/><use href="#sq" x="471.8" y="158.2"/><use href="#sq" x="473.5" y="152.3"/><use href="#sq" x="475.2" y="142.5"/><use href="#sq" x="476.9" y="137.4"/><use href="#sq" x="478.5" y="131.5"/><use href="#sq" x="480.2" y="126.0"/><use href="#sq" x="481.9" y="126.0"/><use href="#sq" x="483.6" y="131.8"/><use href="#sq" x="485.2" y="139.9"/><use href="#sq" x="486.9" y="146.6"/><use href="#sq" x="488.6" y="154.1"/><use href="#sq" x="490.3" y="164.1"/><use href="#sq" x="491.9" y="169.8"/><use href="#sq" x="493.6" y="174.0"/><use href="#sq" x="495.3" y="175.6"/><use href="#sq" x="497.0" y="173.6"/><use href="#sq" x="498.6" y="170.0"/><use href="#sq" x="500.3" y="168.2"/><use href="#sq" x="502.0" y="169.0"/><use href="#sq" x="503.7" y="171.2"/><use href="#sq" x="505.3" y="173.3"/><use href="#sq" x="507.0" y="175.0"/><use href="#sq" x="508.7" y="176.7"/><use href="#sq" x="510.4" y="178.1"/><use href="#sq" x="512.0" y="179.4"/><use href="#sq" x="513.7" y="180.8"/><use href="#sq" x="515.4" y="180.7"/><use href="#sq" x="517.1" y="180.4"/><use href="#sq" x="518.7" y="180.1"/><use href="#sq" x="520.4" y="180.3"/><use href="#sq" x="522.1" y="180.6"/><use href="#sq" x="523.8" y="181.0"/><use href="#sq" x="525.4" y="179.6"/><use href="#sq" x="527.1" y="177.7"/><use href="#sq" x="528.8" y="173.5"/><use href="#sq" x="530.5" y="171.5"/><use href="#sq" x="532.1" y="170.1"/><use href="#sq" x="533.8" y="171.8"/><use href="#sq" x="535.5" y="175.0"/><use href="#sq" x="537.2" y="181.5"/><use href="#sq" x="538.8" y="186.5"/><use href="#sq" x="540.5" y="188.9"/><use href="#sq" x="542.2" y="191.0"/><use href="#sq" x="543.9" y="191.8"/><use href="#sq" x="545.5" y="191.5"/><use href="#sq" x="547.2" y="191.2"/><use href="#sq" x="548.9" y="191.2"/><use href="#sq" x="550.6" y="191.6"/><use href="#sq" x="552.2" y="192.2"/><use href="#sq" x="553.9" y="193.9"/><use href="#sq" x="555.6" y="195.6"/><use href="#sq" x="557.3" y="196.3"/><use href="#sq" x="559.0" y="196.6"/><use href="#sq" x="560.6" y="196.9"/><use href="#sq" x="562.3" y="196.5"/><use href="#sq" x="564.0" y="195.8"/><use href="#sq" x="565.7" y="195.1"/><use href="#sq" x="567.3" y="193.7"/><use href="#sq" x="569.0" y="192.0"/><use href="#sq" x="570.7" y="189.6"/><use href="#sq" x="572.4" y="186.3"/><use href="#sq" x="574.0" y="181.9"/><use href="#sq" x="575.7" y="175.7"/><use href="#sq" x="577.4" y="165.3"/><use href="#sq" x="579.1" y="148.0"/><use href="#sq" x="580.7" y="130.7"/><use href="#sq" x="582.4" y="116.5"/><use href="#sq" x="584.1" y="103.2"/><use href="#sq" x="585.8" y="86.7"/><use href="#sq" x="587.4" y="77.0"/><use href="#sq" x="589.1" y="69.3"/><use href="#sq" x="590.8" y="66.5"/><use href="#sq" x="592.5" y="61.6"/></g>
<text transform="translate(39.5,52.5) scale(0.925,1)" font-size="10.0" font-weight="bold" text-anchor="end">1</text>
<text transform="translate(39.5,90.8) scale(0.925,1)" font-size="10.0" font-weight="bold" text-anchor="end">0.75</text>
<text transform="translate(39.5,129.1) scale(0.925,1)" font-size="10.0" font-weight="bold" text-anchor="end">0.5</text>
<text transform="translate(39.5,167.4) scale(0.925,1)" font-size="10.0" font-weight="bold" text-anchor="end">0.25</text>
<text transform="translate(39.5,205.7) scale(0.925,1)" font-size="10.0" font-weight="bold" text-anchor="end">0</text>
<text transform="translate(49.6,219.1) scale(0.925,1)" font-size="10.0" font-weight="bold" text-anchor="middle">0</text>
<text transform="translate(91.5,219.1) scale(0.925,1)" font-size="10.0" font-weight="bold" text-anchor="middle">25</text>
<text transform="translate(133.4,219.1) scale(0.925,1)" font-size="10.0" font-weight="bold" text-anchor="middle">50</text>
<text transform="translate(175.3,219.1) scale(0.925,1)" font-size="10.0" font-weight="bold" text-anchor="middle">75</text>
<text transform="translate(217.2,219.1) scale(0.925,1)" font-size="10.0" font-weight="bold" text-anchor="middle">100</text>
<text transform="translate(259.0,219.1) scale(0.925,1)" font-size="10.0" font-weight="bold" text-anchor="middle">125</text>
<text transform="translate(300.9,219.1) scale(0.925,1)" font-size="10.0" font-weight="bold" text-anchor="middle">150</text>
<text transform="translate(342.8,219.1) scale(0.925,1)" font-size="10.0" font-weight="bold" text-anchor="middle">175</text>
<text transform="translate(384.7,219.1) scale(0.925,1)" font-size="10.0" font-weight="bold" text-anchor="middle">200</text>
<text transform="translate(426.6,219.1) scale(0.925,1)" font-size="10.0" font-weight="bold" text-anchor="middle">225</text>
<text transform="translate(468.5,219.1) scale(0.925,1)" font-size="10.0" font-weight="bold" text-anchor="middle">250</text>
<text transform="translate(510.4,219.1) scale(0.925,1)" font-size="10.0" font-weight="bold" text-anchor="middle">275</text>
<text transform="translate(552.2,219.1) scale(0.925,1)" font-size="10.0" font-weight="bold" text-anchor="middle">300</text>
<text transform="translate(594.1,219.1) scale(0.925,1)" font-size="10.0" font-weight="bold" text-anchor="middle">325</text>
<text x="300.5" y="243.1" font-size="14.5" stroke="#000" stroke-width="0.25" textLength="145.0" lengthAdjust="spacingAndGlyphs">Poly-peptide sequence</text>
<text transform="translate(12.3,173.8) rotate(-90)" x="0" y="0" font-size="14.5" stroke="#000" stroke-width="0.25" textLength="85.8" lengthAdjust="spacingAndGlyphs">PONDR-Score</text>
<line x1="615.5" x2="632.8" y1="123.7" y2="123.7" stroke="#4472C4" stroke-width="1.5"/>
<use href="#dm" x="624.1" y="123.7"/>
<text x="634.2" y="126.5" font-size="10.2" font-weight="bold" font-style="italic" textLength="47.3" lengthAdjust="spacingAndGlyphs">P. cristatus</text>
<line x1="615.5" x2="632.8" y1="141.3" y2="141.3" stroke="#ED7D31" stroke-width="1.5"/>
<use href="#sq" x="624.1" y="141.3"/>
<text x="634.2" y="144.1" font-size="10.2" font-weight="bold" font-style="italic" textLength="44.4" lengthAdjust="spacingAndGlyphs">P. muticus</text></g>
<g><text x="0.3" y="274.3" font-size="17.5" font-weight="bold">B</text>
<text x="242.5" y="283.6" font-size="14.4" font-weight="bold" textLength="38.3" lengthAdjust="spacingAndGlyphs">NADH</text>
<text x="285.2" y="283.6" font-size="14.4" font-weight="bold" textLength="103.2" lengthAdjust="spacingAndGlyphs">dehydrogenase</text>
<text x="393.4" y="283.6" font-size="14.4" font-weight="bold" textLength="48.0" lengthAdjust="spacingAndGlyphs">subunit</text>
<text x="450.8" y="283.6" font-size="14.4" font-weight="bold" text-anchor="middle">2</text>
<rect x="195.0" y="294.3" width="31.8" height="212.2" fill="#f2f2f2"/>
<rect x="533.2" y="290.2" width="50.5" height="215.9" fill="#f2f2f2"/>
<line x1="44.0" x2="48.9" y1="307.9" y2="307.9" stroke="#d4d4d4" stroke-width="1.2"/>
<line x1="48.9" x2="593.8" y1="307.9" y2="307.9" stroke="#858585" stroke-width="1.2"/>
<line x1="44.0" x2="48.9" y1="351.6" y2="351.6" stroke="#d4d4d4" stroke-width="1.2"/>
<line x1="48.9" x2="593.8" y1="351.6" y2="351.6" stroke="#858585" stroke-width="1.2"/>
<line x1="44.0" x2="48.9" y1="395.3" y2="395.3" stroke="#d4d4d4" stroke-width="1.2"/>
<line x1="48.9" x2="593.8" y1="395.3" y2="395.3" stroke="#858585" stroke-width="1.2"/>
<line x1="44.0" x2="48.9" y1="439.0" y2="439.0" stroke="#d4d4d4" stroke-width="1.2"/>
<line x1="48.9" x2="593.8" y1="439.0" y2="439.0" stroke="#858585" stroke-width="1.2"/>
<line x1="44.0" x2="593.8" y1="482.7" y2="482.7" stroke="#d9d9d9" stroke-width="1.5"/>
<line x1="48.0" x2="48.0" y1="307.9" y2="486.2" stroke="#d9d9d9" stroke-width="1.5"/>
<line x1="48.9" x2="48.9" y1="482.7" y2="486.2" stroke="#d9d9d9" stroke-width="1"/>
<line x1="126.7" x2="126.7" y1="482.7" y2="486.2" stroke="#d9d9d9" stroke-width="1"/>
<line x1="204.5" x2="204.5" y1="482.7" y2="486.2" stroke="#d9d9d9" stroke-width="1"/>
<line x1="282.3" x2="282.3" y1="482.7" y2="486.2" stroke="#d9d9d9" stroke-width="1"/>
<line x1="360.0" x2="360.0" y1="482.7" y2="486.2" stroke="#d9d9d9" stroke-width="1"/>
<line x1="437.8" x2="437.8" y1="482.7" y2="486.2" stroke="#d9d9d9" stroke-width="1"/>
<line x1="515.6" x2="515.6" y1="482.7" y2="486.2" stroke="#d9d9d9" stroke-width="1"/>
<line x1="593.4" x2="593.4" y1="482.7" y2="486.2" stroke="#d9d9d9" stroke-width="1"/>
<line x1="194.00" x2="227.80" y1="294.3" y2="294.3" stroke="#62729c" stroke-width="1.4"/>
<line x1="194.00" x2="227.80" y1="506.5" y2="506.5" stroke="#62729c" stroke-width="1.4"/>
<line x1="195.0" x2="195.0" y1="293.6" y2="507.2" stroke="#a0aec8" stroke-width="2.0"/>
<line x1="226.8" x2="226.8" y1="293.6" y2="507.2" stroke="#9098c4" stroke-width="2.0"/>
<line x1="532.40" x2="584.70" y1="290.2" y2="290.2" stroke="#62729c" stroke-width="1.4"/>
<line x1="532.40" x2="584.70" y1="506.1" y2="506.1" stroke="#62729c" stroke-width="1.4"/>
<line x1="533.3" x2="533.3" y1="289.5" y2="506.8" stroke="#8890c0" stroke-width="1.8"/>
<line x1="583.8" x2="583.8" y1="289.5" y2="506.8" stroke="#8a98ac" stroke-width="1.8"/>
<polyline points="50.5,334.7 52.0,335.1 53.6,335.6 55.1,341.5 56.7,355.2 58.2,370.7 59.8,385.4 61.3,398.7 62.9,407.2 64.5,413.1 66.0,418.1 67.6,423.2 69.1,422.2 70.7,415.4 72.2,412.0 73.8,409.4 75.3,412.2 76.9,417.9 78.5,426.1 80.0,433.3 81.6,442.2 83.1,447.9 84.7,452.5 86.2,457.2 87.8,461.9 89.3,465.7 90.9,468.7 92.5,469.7 94.0,470.7 95.6,471.4 97.1,471.2 98.7,471.1 100.2,471.0 101.8,470.7 103.3,470.4 104.9,470.0 106.5,469.0 108.0,466.9 109.6,464.7 111.1,458.3 112.7,449.9 114.2,437.5 115.8,426.1 117.4,417.4 118.9,410.3 120.5,404.0 122.0,398.3 123.6,393.5 125.1,393.0 126.7,393.7 128.2,398.9 129.8,408.6 131.4,416.8 132.9,431.8 134.5,442.9 136.0,449.4 137.6,453.8 139.1,455.1 140.7,452.4 142.2,450.4 143.8,449.4 145.4,448.4 146.9,447.2 148.5,445.9 150.0,443.6 151.6,440.0 153.1,435.3 154.7,433.0 156.2,432.7 157.8,434.6 159.4,435.0 160.9,434.4 162.5,433.7 164.0,432.7 165.6,431.7 167.1,429.4 168.7,427.2 170.2,425.2 171.8,425.9 173.4,427.7 174.9,430.9 176.5,434.9 178.0,439.7 179.6,437.5 181.1,435.3 182.7,435.3 184.2,436.7 185.8,439.2 187.4,443.2 188.9,446.2 190.5,448.5 192.0,450.2 193.6,452.1 195.1,455.9 196.7,465.0 198.2,469.2 199.8,471.2 201.4,472.8 202.9,473.6 204.5,474.2 206.0,474.7 207.6,473.9 209.1,473.1 210.7,472.8 212.2,473.4 213.8,474.2 215.4,475.4 216.9,476.6 218.5,477.1 220.0,477.6 221.6,477.4 223.1,476.9 224.7,475.8 226.2,473.8 227.8,466.0 229.4,458.5 230.9,451.9 232.5,446.2 234.0,442.1 235.6,437.0 237.1,431.8 238.7,427.5 240.3,425.5 241.8,424.8 243.4,425.2 244.9,427.6 246.5,431.2 248.0,435.2 249.6,438.2 251.1,440.4 252.7,442.1 254.3,443.6 255.8,442.9 257.4,441.5 258.9,441.1 260.5,442.7 262.0,444.2 263.6,445.8 265.1,446.6 266.7,447.9 268.3,449.6 269.8,445.2 271.4,438.6 272.9,429.0 274.5,418.5 276.0,414.1 277.6,414.5 279.1,414.7 280.7,413.7 282.3,415.3 283.8,424.2 285.4,428.4 286.9,435.7 288.5,444.2 290.0,449.2 291.6,454.7 293.1,457.7 294.7,459.6 296.3,461.2 297.8,461.6 299.4,461.9 300.9,461.7 302.5,460.8 304.0,459.9 305.6,457.7 307.1,455.0 308.7,451.8 310.3,448.8 311.8,446.4 313.4,444.0 314.9,440.9 316.5,438.2 318.0,435.5 319.6,432.4 321.1,431.7 322.7,429.6 324.3,426.3 325.8,427.8 327.4,431.3 328.9,436.2 330.5,441.8 332.0,449.2 333.6,455.5 335.1,460.8 336.7,464.0 338.3,467.1 339.8,469.8 341.4,472.2 342.9,474.0 344.5,475.2 346.0,476.4 347.6,476.5 349.2,476.7 350.7,475.8 352.3,474.5 353.8,472.7 355.4,470.8 356.9,470.1 358.5,469.8 360.0,470.3 361.6,471.8 363.2,472.7 364.7,473.4 366.3,473.0 367.8,472.7 369.4,472.4 370.9,472.0 372.5,471.6 374.0,471.2 375.6,469.7 377.2,467.7 378.7,466.1 380.3,466.6 381.8,467.0 383.4,467.7 384.9,468.3 386.5,468.3 388.0,467.7 389.6,465.9 391.2,463.2 392.7,459.6 394.3,456.0 395.8,452.5 397.4,452.1 398.9,452.7 400.5,453.3 402.0,453.9 403.6,455.0 405.2,456.1 406.7,453.5 408.3,449.7 409.8,444.4 411.4,438.5 412.9,435.4 414.5,433.3 416.0,431.8 417.6,431.1 419.2,430.8 420.7,431.0 422.3,431.4 423.8,433.3 425.4,435.7 426.9,438.8 428.5,441.5 430.0,443.0 431.6,443.1 433.2,438.9 434.7,435.8 436.3,433.1 437.8,430.0 439.4,429.2 440.9,429.2 442.5,426.2 444.0,423.2 445.6,421.0 447.2,420.5 448.7,422.4 450.3,427.2 451.8,433.0 453.4,439.1 454.9,446.6 456.5,452.4 458.0,457.4 459.6,459.2 461.2,458.5 462.7,456.4 464.3,453.1 465.8,449.3 467.4,443.5 468.9,431.1 470.5,418.1 472.1,408.3 473.6,401.4 475.2,396.5 476.7,398.0 478.3,405.8 479.8,410.9 481.4,418.5 482.9,428.9 484.5,437.2 486.1,443.6 487.6,451.1 489.2,458.2 490.7,463.7 492.3,468.2 493.8,470.8 495.4,472.5 496.9,473.7 498.5,474.1 500.1,474.1 501.6,474.0 503.2,473.7 504.7,473.5 506.3,472.4 507.8,471.2 509.4,468.8 510.9,465.5 512.5,461.4 514.1,455.8 515.6,445.6 517.2,430.0 518.7,417.1 520.3,403.3 521.8,392.9 523.4,384.3 524.9,381.0 526.5,380.5 528.1,380.5 529.6,384.2 531.2,388.8 532.7,393.0 534.3,396.3 535.8,399.0 537.4,401.7 538.9,404.4 540.5,407.0 542.1,410.0 543.6,414.2 545.2,418.3 546.7,421.8 548.3,424.2 549.8,424.8 551.4,420.4 552.9,414.7 554.5,411.3 556.1,407.9 557.6,404.2 559.2,399.9 560.7,394.3 562.3,391.0 563.8,389.2 565.4,389.2 566.9,389.2 568.5,389.6 570.1,391.5 571.6,397.4 573.2,403.8 574.7,407.6 576.3,412.5 577.8,419.1 579.4,422.0 580.9,416.4 582.5,408.5 584.1,402.6 585.6,397.1 587.2,392.4 588.7,385.3" fill="none" stroke="#4472C4" stroke-width="1.5" stroke-linejoin="round"/>
<g><use href="#dm" x="50.5" y="334.7"/><use href="#dm" x="52.0" y="335.1"/><use href="#dm" x="53.6" y="335.6"/><use href="#dm" x="55.1" y="341.5"/><use href="#dm" x="56.7" y="355.2"/><use href="#dm" x="58.2" y="370.7"/><use href="#dm" x="59.8" y="385.4"/><use href="#dm" x="61.3" y="398.7"/><use href="#dm" x="62.9" y="407.2"/><use href="#dm" x="64.5" y="413.1"/><use href="#dm" x="66.0" y="418.1"/><use href="#dm" x="67.6" y="423.2"/><use href="#dm" x="69.1" y="422.2"/><use href="#dm" x="70.7" y="415.4"/><use href="#dm" x="72.2" y="412.0"/><use href="#dm" x="73.8" y="409.4"/><use href="#dm" x="75.3" y="412.2"/><use href="#dm" x="76.9" y="417.9"/><use href="#dm" x="78.5" y="426.1"/><use href="#dm" x="80.0" y="433.3"/><use href="#dm" x="81.6" y="442.2"/><use href="#dm" x="83.1" y="447.9"/><use href="#dm" x="84.7" y="452.5"/><use href="#dm" x="86.2" y="457.2"/><use href="#dm" x="87.8" y="461.9"/><use href="#dm" x="89.3" y="465.7"/><use href="#dm" x="90.9" y="468.7"/><use href="#dm" x="92.5" y="469.7"/><use href="#dm" x="94.0" y="470.7"/><use href="#dm" x="95.6" y="471.4"/><use href="#dm" x="97.1" y="471.2"/><use href="#dm" x="98.7" y="471.1"/><use href="#dm" x="100.2" y="471.0"/><use href="#dm" x="101.8" y="470.7"/><use href="#dm" x="103.3" y="470.4"/><use href="#dm" x="104.9" y="470.0"/><use href="#dm" x="106.5" y="469.0"/><use href="#dm" x="108.0" y="466.9"/><use href="#dm" x="109.6" y="464.7"/><use href="#dm" x="111.1" y="458.3"/><use href="#dm" x="112.7" y="449.9"/><use href="#dm" x="114.2" y="437.5"/><use href="#dm" x="115.8" y="426.1"/><use href="#dm" x="117.4" y="417.4"/><use href="#dm" x="118.9" y="410.3"/><use href="#dm" x="120.5" y="404.0"/><use href="#dm" x="122.0" y="398.3"/><use href="#dm" x="123.6" y="393.5"/><use href="#dm" x="125.1" y="393.0"/><use href="#dm" x="126.7" y="393.7"/><use href="#dm" x="128.2" y="398.9"/><use href="#dm" x="129.8" y="408.6"/><use href="#dm" x="131.4" y="416.8"/><use href="#dm" x="132.9" y="431.8"/><use href="#dm" x="134.5" y="442.9"/><use href="#dm" x="136.0" y="449.4"/><use href="#dm" x="137.6" y="453.8"/><use href="#dm" x="139.1" y="455.1"/><use href="#dm" x="140.7" y="452.4"/><use href="#dm" x="142.2" y="450.4"/><use href="#dm" x="143.8" y="449.4"/><use href="#dm" x="145.4" y="448.4"/><use href="#dm" x="146.9" y="447.2"/><use href="#dm" x="148.5" y="445.9"/><use href="#dm" x="150.0" y="443.6"/><use href="#dm" x="151.6" y="440.0"/><use href="#dm" x="153.1" y="435.3"/><use href="#dm" x="154.7" y="433.0"/><use href="#dm" x="156.2" y="432.7"/><use href="#dm" x="157.8" y="434.6"/><use href="#dm" x="159.4" y="435.0"/><use href="#dm" x="160.9" y="434.4"/><use href="#dm" x="162.5" y="433.7"/><use href="#dm" x="164.0" y="432.7"/><use href="#dm" x="165.6" y="431.7"/><use href="#dm" x="167.1" y="429.4"/><use href="#dm" x="168.7" y="427.2"/><use href="#dm" x="170.2" y="425.2"/><use href="#dm" x="171.8" y="425.9"/><use href="#dm" x="173.4" y="427.7"/><use href="#dm" x="174.9" y="430.9"/><use href="#dm" x="176.5" y="434.9"/><use href="#dm" x="178.0" y="439.7"/><use href="#dm" x="179.6" y="437.5"/><use href="#dm" x="181.1" y="435.3"/><use href="#dm" x="182.7" y="435.3"/><use href="#dm" x="184.2" y="436.7"/><use href="#dm" x="185.8" y="439.2"/><use href="#dm" x="187.4" y="443.2"/><use href="#dm" x="188.9" y="446.2"/><use href="#dm" x="190.5" y="448.5"/><use href="#dm" x="192.0" y="450.2"/><use href="#dm" x="193.6" y="452.1"/><use href="#dm" x="195.1" y="455.9"/><use href="#dm" x="196.7" y="465.0"/><use href="#dm" x="198.2" y="469.2"/><use href="#dm" x="199.8" y="471.2"/><use href="#dm" x="201.4" y="472.8"/><use href="#dm" x="202.9" y="473.6"/><use href="#dm" x="204.5" y="474.2"/><use href="#dm" x="206.0" y="474.7"/><use href="#dm" x="207.6" y="473.9"/><use href="#dm" x="209.1" y="473.1"/><use href="#dm" x="210.7" y="472.8"/><use href="#dm" x="212.2" y="473.4"/><use href="#dm" x="213.8" y="474.2"/><use href="#dm" x="215.4" y="475.4"/><use href="#dm" x="216.9" y="476.6"/><use href="#dm" x="218.5" y="477.1"/><use href="#dm" x="220.0" y="477.6"/><use href="#dm" x="221.6" y="477.4"/><use href="#dm" x="223.1" y="476.9"/><use href="#dm" x="224.7" y="475.8"/><use href="#dm" x="226.2" y="473.8"/><use href="#dm" x="227.8" y="466.0"/><use href="#dm" x="229.4" y="458.5"/><use href="#dm" x="230.9" y="451.9"/><use href="#dm" x="232.5" y="446.2"/><use href="#dm" x="234.0" y="442.1"/><use href="#dm" x="235.6" y="437.0"/><use href="#dm" x="237.1" y="431.8"/><use href="#dm" x="238.7" y="427.5"/><use href="#dm" x="240.3" y="425.5"/><use href="#dm" x="241.8" y="424.8"/><use href="#dm" x="243.4" y="425.2"/><use href="#dm" x="244.9" y="427.6"/><use href="#dm" x="246.5" y="431.2"/><use href="#dm" x="248.0" y="435.2"/><use href="#dm" x="249.6" y="438.2"/><use href="#dm" x="251.1" y="440.4"/><use href="#dm" x="252.7" y="442.1"/><use href="#dm" x="254.3" y="443.6"/><use href="#dm" x="255.8" y="442.9"/><use href="#dm" x="257.4" y="441.5"/><use href="#dm" x="258.9" y="441.1"/><use href="#dm" x="260.5" y="442.7"/><use href="#dm" x="262.0" y="444.2"/><use href="#dm" x="263.6" y="445.8"/><use href="#dm" x="265.1" y="446.6"/><use href="#dm" x="266.7" y="447.9"/><use href="#dm" x="268.3" y="449.6"/><use href="#dm" x="269.8" y="445.2"/><use href="#dm" x="271.4" y="438.6"/><use href="#dm" x="272.9" y="429.0"/><use href="#dm" x="274.5" y="418.5"/><use href="#dm" x="276.0" y="414.1"/><use href="#dm" x="277.6" y="414.5"/><use href="#dm" x="279.1" y="414.7"/><use href="#dm" x="280.7" y="413.7"/><use href="#dm" x="282.3" y="415.3"/><use href="#dm" x="283.8" y="424.2"/><use href="#dm" x="285.4" y="428.4"/><use href="#dm" x="286.9" y="435.7"/><use href="#dm" x="288.5" y="444.2"/><use href="#dm" x="290.0" y="449.2"/><use href="#dm" x="291.6" y="454.7"/><use href="#dm" x="293.1" y="457.7"/><use href="#dm" x="294.7" y="459.6"/><use href="#dm" x="296.3" y="461.2"/><use href="#dm" x="297.8" y="461.6"/><use href="#dm" x="299.4" y="461.9"/><use href="#dm" x="300.9" y="461.7"/><use href="#dm" x="302.5" y="460.8"/><use href="#dm" x="304.0" y="459.9"/><use href="#dm" x="305.6" y="457.7"/><use href="#dm" x="307.1" y="455.0"/><use href="#dm" x="308.7" y="451.8"/><use href="#dm" x="310.3" y="448.8"/><use href="#dm" x="311.8" y="446.4"/><use href="#dm" x="313.4" y="444.0"/><use href="#dm" x="314.9" y="440.9"/><use href="#dm" x="316.5" y="438.2"/><use href="#dm" x="318.0" y="435.5"/><use href="#dm" x="319.6" y="432.4"/><use href="#dm" x="321.1" y="431.7"/><use href="#dm" x="322.7" y="429.6"/><use href="#dm" x="324.3" y="426.3"/><use href="#dm" x="325.8" y="427.8"/><use href="#dm" x="327.4" y="431.3"/><use href="#dm" x="328.9" y="436.2"/><use href="#dm" x="330.5" y="441.8"/><use href="#dm" x="332.0" y="449.2"/><use href="#dm" x="333.6" y="455.5"/><use href="#dm" x="335.1" y="460.8"/><use href="#dm" x="336.7" y="464.0"/><use href="#dm" x="338.3" y="467.1"/><use href="#dm" x="339.8" y="469.8"/><use href="#dm" x="341.4" y="472.2"/><use href="#dm" x="342.9" y="474.0"/><use href="#dm" x="344.5" y="475.2"/><use href="#dm" x="346.0" y="476.4"/><use href="#dm" x="347.6" y="476.5"/><use href="#dm" x="349.2" y="476.7"/><use href="#dm" x="350.7" y="475.8"/><use href="#dm" x="352.3" y="474.5"/><use href="#dm" x="353.8" y="472.7"/><use href="#dm" x="355.4" y="470.8"/><use href="#dm" x="356.9" y="470.1"/><use href="#dm" x="358.5" y="469.8"/><use href="#dm" x="360.0" y="470.3"/><use href="#dm" x="361.6" y="471.8"/><use href="#dm" x="363.2" y="472.7"/><use href="#dm" x="364.7" y="473.4"/><use href="#dm" x="366.3" y="473.0"/><use href="#dm" x="367.8" y="472.7"/><use href="#dm" x="369.4" y="472.4"/><use href="#dm" x="370.9" y="472.0"/><use href="#dm" x="372.5" y="471.6"/><use href="#dm" x="374.0" y="471.2"/><use href="#dm" x="375.6" y="469.7"/><use href="#dm" x="377.2" y="467.7"/><use href="#dm" x="378.7" y="466.1"/><use href="#dm" x="380.3" y="466.6"/><use href="#dm" x="381.8" y="467.0"/><use href="#dm" x="383.4" y="467.7"/><use href="#dm" x="384.9" y="468.3"/><use href="#dm" x="386.5" y="468.3"/><use href="#dm" x="388.0" y="467.7"/><use href="#dm" x="389.6" y="465.9"/><use href="#dm" x="391.2" y="463.2"/><use href="#dm" x="392.7" y="459.6"/><use href="#dm" x="394.3" y="456.0"/><use href="#dm" x="395.8" y="452.5"/><use href="#dm" x="397.4" y="452.1"/><use href="#dm" x="398.9" y="452.7"/><use href="#dm" x="400.5" y="453.3"/><use href="#dm" x="402.0" y="453.9"/><use href="#dm" x="403.6" y="455.0"/><use href="#dm" x="405.2" y="456.1"/><use href="#dm" x="406.7" y="453.5"/><use href="#dm" x="408.3" y="449.7"/><use href="#dm" x="409.8" y="444.4"/><use href="#dm" x="411.4" y="438.5"/><use href="#dm" x="412.9" y="435.4"/><use href="#dm" x="414.5" y="433.3"/><use href="#dm" x="416.0" y="431.8"/><use href="#dm" x="417.6" y="431.1"/><use href="#dm" x="419.2" y="430.8"/><use href="#dm" x="420.7" y="431.0"/><use href="#dm" x="422.3" y="431.4"/><use href="#dm" x="423.8" y="433.3"/><use href="#dm" x="425.4" y="435.7"/><use href="#dm" x="426.9" y="438.8"/><use href="#dm" x="428.5" y="441.5"/><use href="#dm" x="430.0" y="443.0"/><use href="#dm" x="431.6" y="443.1"/><use href="#dm" x="433.2" y="438.9"/><use href="#dm" x="434.7" y="435.8"/><use href="#dm" x="436.3" y="433.1"/><use href="#dm" x="437.8" y="430.0"/><use href="#dm" x="439.4" y="429.2"/><use href="#dm" x="440.9" y="429.2"/><use href="#dm" x="442.5" y="426.2"/><use href="#dm" x="444.0" y="423.2"/><use href="#dm" x="445.6" y="421.0"/><use href="#dm" x="447.2" y="420.5"/><use href="#dm" x="448.7" y="422.4"/><use href="#dm" x="450.3" y="427.2"/><use href="#dm" x="451.8" y="433.0"/><use href="#dm" x="453.4" y="439.1"/><use href="#dm" x="454.9" y="446.6"/><use href="#dm" x="456.5" y="452.4"/><use href="#dm" x="458.0" y="457.4"/><use href="#dm" x="459.6" y="459.2"/><use href="#dm" x="461.2" y="458.5"/><use href="#dm" x="462.7" y="456.4"/><use href="#dm" x="464.3" y="453.1"/><use href="#dm" x="465.8" y="449.3"/><use href="#dm" x="467.4" y="443.5"/><use href="#dm" x="468.9" y="431.1"/><use href="#dm" x="470.5" y="418.1"/><use href="#dm" x="472.1" y="408.3"/><use href="#dm" x="473.6" y="401.4"/><use href="#dm" x="475.2" y="396.5"/><use href="#dm" x="476.7" y="398.0"/><use href="#dm" x="478.3" y="405.8"/><use href="#dm" x="479.8" y="410.9"/><use href="#dm" x="481.4" y="418.5"/><use href="#dm" x="482.9" y="428.9"/><use href="#dm" x="484.5" y="437.2"/><use href="#dm" x="486.1" y="443.6"/><use href="#dm" x="487.6" y="451.1"/><use href="#dm" x="489.2" y="458.2"/><use href="#dm" x="490.7" y="463.7"/><use href="#dm" x="492.3" y="468.2"/><use href="#dm" x="493.8" y="470.8"/><use href="#dm" x="495.4" y="472.5"/><use href="#dm" x="496.9" y="473.7"/><use href="#dm" x="498.5" y="474.1"/><use href="#dm" x="500.1" y="474.1"/><use href="#dm" x="501.6" y="474.0"/><use href="#dm" x="503.2" y="473.7"/><use href="#dm" x="504.7" y="473.5"/><use href="#dm" x="506.3" y="472.4"/><use href="#dm" x="507.8" y="471.2"/><use href="#dm" x="509.4" y="468.8"/><use href="#dm" x="510.9" y="465.5"/><use href="#dm" x="512.5" y="461.4"/><use href="#dm" x="514.1" y="455.8"/><use href="#dm" x="515.6" y="445.6"/><use href="#dm" x="517.2" y="430.0"/><use href="#dm" x="518.7" y="417.1"/><use href="#dm" x="520.3" y="403.3"/><use href="#dm" x="521.8" y="392.9"/><use href="#dm" x="523.4" y="384.3"/><use href="#dm" x="524.9" y="381.0"/><use href="#dm" x="526.5" y="380.5"/><use href="#dm" x="528.1" y="380.5"/><use href="#dm" x="529.6" y="384.2"/><use href="#dm" x="531.2" y="388.8"/><use href="#dm" x="532.7" y="393.0"/><use href="#dm" x="534.3" y="396.3"/><use href="#dm" x="535.8" y="399.0"/><use href="#dm" x="537.4" y="401.7"/><use href="#dm" x="538.9" y="404.4"/><use href="#dm" x="540.5" y="407.0"/><use href="#dm" x="542.1" y="410.0"/><use href="#dm" x="543.6" y="414.2"/><use href="#dm" x="545.2" y="418.3"/><use href="#dm" x="546.7" y="421.8"/><use href="#dm" x="548.3" y="424.2"/><use href="#dm" x="549.8" y="424.8"/><use href="#dm" x="551.4" y="420.4"/><use href="#dm" x="552.9" y="414.7"/><use href="#dm" x="554.5" y="411.3"/><use href="#dm" x="556.1" y="407.9"/><use href="#dm" x="557.6" y="404.2"/><use href="#dm" x="559.2" y="399.9"/><use href="#dm" x="560.7" y="394.3"/><use href="#dm" x="562.3" y="391.0"/><use href="#dm" x="563.8" y="389.2"/><use href="#dm" x="565.4" y="389.2"/><use href="#dm" x="566.9" y="389.2"/><use href="#dm" x="568.5" y="389.6"/><use href="#dm" x="570.1" y="391.5"/><use href="#dm" x="571.6" y="397.4"/><use href="#dm" x="573.2" y="403.8"/><use href="#dm" x="574.7" y="407.6"/><use href="#dm" x="576.3" y="412.5"/><use href="#dm" x="577.8" y="419.1"/><use href="#dm" x="579.4" y="422.0"/><use href="#dm" x="580.9" y="416.4"/><use href="#dm" x="582.5" y="408.5"/><use href="#dm" x="584.1" y="402.6"/><use href="#dm" x="585.6" y="397.1"/><use href="#dm" x="587.2" y="392.4"/><use href="#dm" x="588.7" y="385.3"/></g>
<polyline points="50.5,334.7 52.0,335.1 53.6,335.6 55.1,341.5 56.7,355.2 58.2,370.7 59.8,385.4 61.3,398.7 62.9,407.2 64.5,413.1 66.0,418.1 67.6,423.2 69.1,422.2 70.7,415.4 72.2,412.0 73.8,409.4 75.3,412.2 76.9,417.9 78.5,426.1 80.0,433.3 81.6,442.2 83.1,447.9 84.7,452.5 86.2,457.2 87.8,461.9 89.3,465.7 90.9,468.7 92.5,469.7 94.0,470.7 95.6,471.4 97.1,471.2 98.7,471.1 100.2,471.0 101.8,470.7 103.3,470.4 104.9,470.0 106.5,469.0 108.0,466.9 109.6,464.7 111.1,458.3 112.7,449.9 114.2,437.5 115.8,426.1 117.4,417.4 118.9,410.3 120.5,404.0 122.0,398.3 123.6,393.5 125.1,393.0 126.7,393.7 128.2,398.9 129.8,408.6 131.4,416.8 132.9,431.8 134.5,442.9 136.0,449.4 137.6,453.8 139.1,455.1 140.7,452.4 142.2,450.4 143.8,449.4 145.4,448.4 146.9,447.2 148.5,445.9 150.0,443.6 151.6,440.0 153.1,435.3 154.7,433.0 156.2,432.7 157.8,434.6 159.4,435.0 160.9,434.4 162.5,433.7 164.0,432.7 165.6,431.7 167.1,429.4 168.7,427.2 170.2,425.2 171.8,425.9 173.4,427.7 174.9,430.9 176.5,434.9 178.0,439.7 179.6,437.5 181.1,435.3 182.7,435.3 184.2,436.7 185.8,439.2 187.4,443.2 188.9,446.2 190.5,448.5 192.0,450.2 193.6,452.1 195.1,455.6 196.7,460.9 198.2,464.5 199.8,466.9 201.4,468.1 202.9,468.7 204.5,469.0 206.0,468.6 207.6,466.9 209.1,465.6 210.7,464.5 212.2,465.1 213.8,466.2 215.4,469.4 216.9,471.8 218.5,474.0 220.0,474.8 221.6,475.3 223.1,474.9 224.7,473.8 226.2,471.8 227.8,464.6 229.4,458.1 230.9,451.9 232.5,446.2 234.0,442.1 235.6,437.0 237.1,431.8 238.7,427.5 240.3,425.5 241.8,424.8 243.4,425.2 244.9,427.6 246.5,431.2 248.0,435.2 249.6,438.2 251.1,439.6 252.7,440.4 254.3,439.6 255.8,439.2 257.4,440.0 258.9,441.1 260.5,442.7 262.0,444.2 263.6,445.8 265.1,446.6 266.7,447.9 268.3,449.6 269.8,445.2 271.4,438.6 272.9,429.0 274.5,418.5 276.0,413.7 277.6,412.1 279.1,411.6 280.7,411.2 282.3,415.3 283.8,424.2 285.4,428.4 286.9,435.7 288.5,444.2 290.0,449.2 291.6,454.7 293.1,457.7 294.7,459.6 296.3,461.2 297.8,461.6 299.4,461.9 300.9,461.7 302.5,460.8 304.0,459.9 305.6,457.7 307.1,455.0 308.7,451.8 310.3,448.8 311.8,446.4 313.4,444.0 314.9,440.9 316.5,438.2 318.0,435.5 319.6,432.4 321.1,431.7 322.7,429.6 324.3,426.3 325.8,427.8 327.4,431.3 328.9,436.2 330.5,441.8 332.0,449.2 333.6,455.5 335.1,460.8 336.7,464.0 338.3,467.1 339.8,469.8 341.4,472.2 342.9,474.0 344.5,475.2 346.0,476.4 347.6,476.5 349.2,476.7 350.7,475.8 352.3,474.5 353.8,472.7 355.4,470.8 356.9,470.1 358.5,469.8 360.0,469.6 361.6,469.6 363.2,469.6 364.7,469.3 366.3,469.0 367.8,468.8 369.4,468.7 370.9,468.6 372.5,468.4 374.0,468.2 375.6,467.4 377.2,466.5 378.7,466.1 380.3,466.6 381.8,467.0 383.4,467.7 384.9,468.3 386.5,468.3 388.0,467.7 389.6,465.9 391.2,463.2 392.7,459.6 394.3,456.0 395.8,452.5 397.4,451.3 398.9,451.0 400.5,450.9 402.0,450.9 403.6,450.9 405.2,450.9 406.7,449.9 408.3,447.7 409.8,444.4 411.4,438.5 412.9,435.4 414.5,433.3 416.0,431.8 417.6,431.1 419.2,430.8 420.7,431.0 422.3,431.4 423.8,433.3 425.4,435.7 426.9,438.8 428.5,441.5 430.0,443.0 431.6,443.1 433.2,438.9 434.7,435.8 436.3,433.1 437.8,430.0 439.4,429.2 440.9,429.2 442.5,426.2 444.0,423.2 445.6,421.0 447.2,420.5 448.7,422.4 450.3,427.2 451.8,433.0 453.4,439.1 454.9,446.6 456.5,452.4 458.0,457.4 459.6,459.2 461.2,458.5 462.7,456.4 464.3,453.1 465.8,449.3 467.4,443.5 468.9,431.1 470.5,418.1 472.1,408.3 473.6,401.4 475.2,396.5 476.7,398.0 478.3,405.8 479.8,410.9 481.4,418.5 482.9,428.9 484.5,437.2 486.1,443.6 487.6,451.1 489.2,458.2 490.7,463.7 492.3,468.2 493.8,470.8 495.4,472.5 496.9,473.7 498.5,474.1 500.1,474.1 501.6,474.0 503.2,473.7 504.7,473.5 506.3,472.4 507.8,471.2 509.4,468.8 510.9,465.5 512.5,461.4 514.1,455.8 515.6,445.6 517.2,430.0 518.7,417.1 520.3,403.3 521.8,392.9 523.4,384.3 524.9,381.0 526.5,380.5 528.1,380.5 529.6,384.2 531.2,387.2 532.7,388.7 534.3,390.3 535.8,392.1 537.4,394.3 538.9,396.9 540.5,399.5 542.1,402.2 543.6,405.4 545.2,408.4 546.7,411.5 548.3,414.7 549.8,413.1 551.4,409.1 552.9,403.0 554.5,398.7 556.1,395.5 557.6,392.4 559.2,389.3 560.7,382.1 562.3,380.8 563.8,380.2 565.4,380.0 566.9,379.7 568.5,380.4 570.1,381.1 571.6,388.2 573.2,394.3 574.7,398.6 576.3,403.5 577.8,407.3 579.4,413.4 580.9,407.8 582.5,403.5 584.1,396.8 585.6,390.4 587.2,382.9 588.7,379.6" fill="none" stroke="#ED7D31" stroke-width="1.5" stroke-linejoin="round"/>
<g><use href="#sq" x="50.5" y="334.7"/><use href="#sq" x="52.0" y="335.1"/><use href="#sq" x="53.6" y="335.6"/><use href="#sq" x="55.1" y="341.5"/><use href="#sq" x="56.7" y="355.2"/><use href="#sq" x="58.2" y="370.7"/><use href="#sq" x="59.8" y="385.4"/><use href="#sq" x="61.3" y="398.7"/><use href="#sq" x="62.9" y="407.2"/><use href="#sq" x="64.5" y="413.1"/><use href="#sq" x="66.0" y="418.1"/><use href="#sq" x="67.6" y="423.2"/><use href="#sq" x="69.1" y="422.2"/><use href="#sq" x="70.7" y="415.4"/><use href="#sq" x="72.2" y="412.0"/><use href="#sq" x="73.8" y="409.4"/><use href="#sq" x="75.3" y="412.2"/><use href="#sq" x="76.9" y="417.9"/><use href="#sq" x="78.5" y="426.1"/><use href="#sq" x="80.0" y="433.3"/><use href="#sq" x="81.6" y="442.2"/><use href="#sq" x="83.1" y="447.9"/><use href="#sq" x="84.7" y="452.5"/><use href="#sq" x="86.2" y="457.2"/><use href="#sq" x="87.8" y="461.9"/><use href="#sq" x="89.3" y="465.7"/><use href="#sq" x="90.9" y="468.7"/><use href="#sq" x="92.5" y="469.7"/><use href="#sq" x="94.0" y="470.7"/><use href="#sq" x="95.6" y="471.4"/><use href="#sq" x="97.1" y="471.2"/><use href="#sq" x="98.7" y="471.1"/><use href="#sq" x="100.2" y="471.0"/><use href="#sq" x="101.8" y="470.7"/><use href="#sq" x="103.3" y="470.4"/><use href="#sq" x="104.9" y="470.0"/><use href="#sq" x="106.5" y="469.0"/><use href="#sq" x="108.0" y="466.9"/><use href="#sq" x="109.6" y="464.7"/><use href="#sq" x="111.1" y="458.3"/><use href="#sq" x="112.7" y="449.9"/><use href="#sq" x="114.2" y="437.5"/><use href="#sq" x="115.8" y="426.1"/><use href="#sq" x="117.4" y="417.4"/><use href="#sq" x="118.9" y="410.3"/><use href="#sq" x="120.5" y="404.0"/><use href="#sq" x="122.0" y="398.3"/><use href="#sq" x="123.6" y="393.5"/><use href="#sq" x="125.1" y="393.0"/><use href="#sq" x="126.7" y="393.7"/><use href="#sq" x="128.2" y="398.9"/><use href="#sq" x="129.8" y="408.6"/><use href="#sq" x="131.4" y="416.8"/><use href="#sq" x="132.9" y="431.8"/><use href="#sq" x="134.5" y="442.9"/><use href="#sq" x="136.0" y="449.4"/><use href="#sq" x="137.6" y="453.8"/><use href="#sq" x="139.1" y="455.1"/><use href="#sq" x="140.7" y="452.4"/><use href="#sq" x="142.2" y="450.4"/><use href="#sq" x="143.8" y="449.4"/><use href="#sq" x="145.4" y="448.4"/><use href="#sq" x="146.9" y="447.2"/><use href="#sq" x="148.5" y="445.9"/><use href="#sq" x="150.0" y="443.6"/><use href="#sq" x="151.6" y="440.0"/><use href="#sq" x="153.1" y="435.3"/><use href="#sq" x="154.7" y="433.0"/><use href="#sq" x="156.2" y="432.7"/><use href="#sq" x="157.8" y="434.6"/><use href="#sq" x="159.4" y="435.0"/><use href="#sq" x="160.9" y="434.4"/><use href="#sq" x="162.5" y="433.7"/><use href="#sq" x="164.0" y="432.7"/><use href="#sq" x="165.6" y="431.7"/><use href="#sq" x="167.1" y="429.4"/><use href="#sq" x="168.7" y="427.2"/><use href="#sq" x="170.2" y="425.2"/><use href="#sq" x="171.8" y="425.9"/><use href="#sq" x="173.4" y="427.7"/><use href="#sq" x="174.9" y="430.9"/><use href="#sq" x="176.5" y="434.9"/><use href="#sq" x="178.0" y="439.7"/><use href="#sq" x="179.6" y="437.5"/><use href="#sq" x="181.1" y="435.3"/><use href="#sq" x="182.7" y="435.3"/><use href="#sq" x="184.2" y="436.7"/><use href="#sq" x="185.8" y="439.2"/><use href="#sq" x="187.4" y="443.2"/><use href="#sq" x="188.9" y="446.2"/><use href="#sq" x="190.5" y="448.5"/><use href="#sq" x="192.0" y="450.2"/><use href="#sq" x="193.6" y="452.1"/><use href="#sq" x="195.1" y="455.6"/><use href="#sq" x="196.7" y="460.9"/><use href="#sq" x="198.2" y="464.5"/><use href="#sq" x="199.8" y="466.9"/><use href="#sq" x="201.4" y="468.1"/><use href="#sq" x="202.9" y="468.7"/><use href="#sq" x="204.5" y="469.0"/><use href="#sq" x="206.0" y="468.6"/><use href="#sq" x="207.6" y="466.9"/><use href="#sq" x="209.1" y="465.6"/><use href="#sq" x="210.7" y="464.5"/><use href="#sq" x="212.2" y="465.1"/><use href="#sq" x="213.8" y="466.2"/><use href="#sq" x="215.4" y="469.4"/><use href="#sq" x="216.9" y="471.8"/><use href="#sq" x="218.5" y="474.0"/><use href="#sq" x="220.0" y="474.8"/><use href="#sq" x="221.6" y="475.3"/><use href="#sq" x="223.1" y="474.9"/><use href="#sq" x="224.7" y="473.8"/><use href="#sq" x="226.2" y="471.8"/><use href="#sq" x="227.8" y="464.6"/><use href="#sq" x="229.4" y="458.1"/><use href="#sq" x="230.9" y="451.9"/><use href="#sq" x="232.5" y="446.2"/><use href="#sq" x="234.0" y="442.1"/><use href="#sq" x="235.6" y="437.0"/><use href="#sq" x="237.1" y="431.8"/><use href="#sq" x="238.7" y="427.5"/><use href="#sq" x="240.3" y="425.5"/><use href="#sq" x="241.8" y="424.8"/><use href="#sq" x="243.4" y="425.2"/><use href="#sq" x="244.9" y="427.6"/><use href="#sq" x="246.5" y="431.2"/><use href="#sq" x="248.0" y="435.2"/><use href="#sq" x="249.6" y="438.2"/><use href="#sq" x="251.1" y="439.6"/><use href="#sq" x="252.7" y="440.4"/><use href="#sq" x="254.3" y="439.6"/><use href="#sq" x="255.8" y="439.2"/><use href="#sq" x="257.4" y="440.0"/><use href="#sq" x="258.9" y="441.1"/><use href="#sq" x="260.5" y="442.7"/><use href="#sq" x="262.0" y="444.2"/><use href="#sq" x="263.6" y="445.8"/><use href="#sq" x="265.1" y="446.6"/><use href="#sq" x="266.7" y="447.9"/><use href="#sq" x="268.3" y="449.6"/><use href="#sq" x="269.8" y="445.2"/><use href="#sq" x="271.4" y="438.6"/><use href="#sq" x="272.9" y="429.0"/><use href="#sq" x="274.5" y="418.5"/><use href="#sq" x="276.0" y="413.7"/><use href="#sq" x="277.6" y="412.1"/><use href="#sq" x="279.1" y="411.6"/><use href="#sq" x="280.7" y="411.2"/><use href="#sq" x="282.3" y="415.3"/><use href="#sq" x="283.8" y="424.2"/><use href="#sq" x="285.4" y="428.4"/><use href="#sq" x="286.9" y="435.7"/><use href="#sq" x="288.5" y="444.2"/><use href="#sq" x="290.0" y="449.2"/><use href="#sq" x="291.6" y="454.7"/><use href="#sq" x="293.1" y="457.7"/><use href="#sq" x="294.7" y="459.6"/><use href="#sq" x="296.3" y="461.2"/><use href="#sq" x="297.8" y="461.6"/><use href="#sq" x="299.4" y="461.9"/><use href="#sq" x="300.9" y="461.7"/><use href="#sq" x="302.5" y="460.8"/><use href="#sq" x="304.0" y="459.9"/><use href="#sq" x="305.6" y="457.7"/><use href="#sq" x="307.1" y="455.0"/><use href="#sq" x="308.7" y="451.8"/><use href="#sq" x="310.3" y="448.8"/><use href="#sq" x="311.8" y="446.4"/><use href="#sq" x="313.4" y="444.0"/><use href="#sq" x="314.9" y="440.9"/><use href="#sq" x="316.5" y="438.2"/><use href="#sq" x="318.0" y="435.5"/><use href="#sq" x="319.6" y="432.4"/><use href="#sq" x="321.1" y="431.7"/><use href="#sq" x="322.7" y="429.6"/><use href="#sq" x="324.3" y="426.3"/><use href="#sq" x="325.8" y="427.8"/><use href="#sq" x="327.4" y="431.3"/><use href="#sq" x="328.9" y="436.2"/><use href="#sq" x="330.5" y="441.8"/><use href="#sq" x="332.0" y="449.2"/><use href="#sq" x="333.6" y="455.5"/><use href="#sq" x="335.1" y="460.8"/><use href="#sq" x="336.7" y="464.0"/><use href="#sq" x="338.3" y="467.1"/><use href="#sq" x="339.8" y="469.8"/><use href="#sq" x="341.4" y="472.2"/><use href="#sq" x="342.9" y="474.0"/><use href="#sq" x="344.5" y="475.2"/><use href="#sq" x="346.0" y="476.4"/><use href="#sq" x="347.6" y="476.5"/><use href="#sq" x="349.2" y="476.7"/><use href="#sq" x="350.7" y="475.8"/><use href="#sq" x="352.3" y="474.5"/><use href="#sq" x="353.8" y="472.7"/><use href="#sq" x="355.4" y="470.8"/><use href="#sq" x="356.9" y="470.1"/><use href="#sq" x="358.5" y="469.8"/><use href="#sq" x="360.0" y="469.6"/><use href="#sq" x="361.6" y="469.6"/><use href="#sq" x="363.2" y="469.6"/><use href="#sq" x="364.7" y="469.3"/><use href="#sq" x="366.3" y="469.0"/><use href="#sq" x="367.8" y="468.8"/><use href="#sq" x="369.4" y="468.7"/><use href="#sq" x="370.9" y="468.6"/><use href="#sq" x="372.5" y="468.4"/><use href="#sq" x="374.0" y="468.2"/><use href="#sq" x="375.6" y="467.4"/><use href="#sq" x="377.2" y="466.5"/><use href="#sq" x="378.7" y="466.1"/><use href="#sq" x="380.3" y="466.6"/><use href="#sq" x="381.8" y="467.0"/><use href="#sq" x="383.4" y="467.7"/><use href="#sq" x="384.9" y="468.3"/><use href="#sq" x="386.5" y="468.3"/><use href="#sq" x="388.0" y="467.7"/><use href="#sq" x="389.6" y="465.9"/><use href="#sq" x="391.2" y="463.2"/><use href="#sq" x="392.7" y="459.6"/><use href="#sq" x="394.3" y="456.0"/><use href="#sq" x="395.8" y="452.5"/><use href="#sq" x="397.4" y="451.3"/><use href="#sq" x="398.9" y="451.0"/><use href="#sq" x="400.5" y="450.9"/><use href="#sq" x="402.0" y="450.9"/><use href="#sq" x="403.6" y="450.9"/><use href="#sq" x="405.2" y="450.9"/><use href="#sq" x="406.7" y="449.9"/><use href="#sq" x="408.3" y="447.7"/><use href="#sq" x="409.8" y="444.4"/><use href="#sq" x="411.4" y="438.5"/><use href="#sq" x="412.9" y="435.4"/><use href="#sq" x="414.5" y="433.3"/><use href="#sq" x="416.0" y="431.8"/><use href="#sq" x="417.6" y="431.1"/><use href="#sq" x="419.2" y="430.8"/><use href="#sq" x="420.7" y="431.0"/><use href="#sq" x="422.3" y="431.4"/><use href="#sq" x="423.8" y="433.3"/><use href="#sq" x="425.4" y="435.7"/><use href="#sq" x="426.9" y="438.8"/><use href="#sq" x="428.5" y="441.5"/><use href="#sq" x="430.0" y="443.0"/><use href="#sq" x="431.6" y="443.1"/><use href="#sq" x="433.2" y="438.9"/><use href="#sq" x="434.7" y="435.8"/><use href="#sq" x="436.3" y="433.1"/><use href="#sq" x="437.8" y="430.0"/><use href="#sq" x="439.4" y="429.2"/><use href="#sq" x="440.9" y="429.2"/><use href="#sq" x="442.5" y="426.2"/><use href="#sq" x="444.0" y="423.2"/><use href="#sq" x="445.6" y="421.0"/><use href="#sq" x="447.2" y="420.5"/><use href="#sq" x="448.7" y="422.4"/><use href="#sq" x="450.3" y="427.2"/><use href="#sq" x="451.8" y="433.0"/><use href="#sq" x="453.4" y="439.1"/><use href="#sq" x="454.9" y="446.6"/><use href="#sq" x="456.5" y="452.4"/><use href="#sq" x="458.0" y="457.4"/><use href="#sq" x="459.6" y="459.2"/><use href="#sq" x="461.2" y="458.5"/><use href="#sq" x="462.7" y="456.4"/><use href="#sq" x="464.3" y="453.1"/><use href="#sq" x="465.8" y="449.3"/><use href="#sq" x="467.4" y="443.5"/><use href="#sq" x="468.9" y="431.1"/><use href="#sq" x="470.5" y="418.1"/><use href="#sq" x="472.1" y="408.3"/><use href="#sq" x="473.6" y="401.4"/><use href="#sq" x="475.2" y="396.5"/><use href="#sq" x="476.7" y="398.0"/><use href="#sq" x="478.3" y="405.8"/><use href="#sq" x="479.8" y="410.9"/><use href="#sq" x="481.4" y="418.5"/><use href="#sq" x="482.9" y="428.9"/><use href="#sq" x="484.5" y="437.2"/><use href="#sq" x="486.1" y="443.6"/><use href="#sq" x="487.6" y="451.1"/><use href="#sq" x="489.2" y="458.2"/><use href="#sq" x="490.7" y="463.7"/><use href="#sq" x="492.3" y="468.2"/><use href="#sq" x="493.8" y="470.8"/><use href="#sq" x="495.4" y="472.5"/><use href="#sq" x="496.9" y="473.7"/><use href="#sq" x="498.5" y="474.1"/><use href="#sq" x="500.1" y="474.1"/><use href="#sq" x="501.6" y="474.0"/><use href="#sq" x="503.2" y="473.7"/><use href="#sq" x="504.7" y="473.5"/><use href="#sq" x="506.3" y="472.4"/><use href="#sq" x="507.8" y="471.2"/><use href="#sq" x="509.4" y="468.8"/><use href="#sq" x="510.9" y="465.5"/><use href="#sq" x="512.5" y="461.4"/><use href="#sq" x="514.1" y="455.8"/><use href="#sq" x="515.6" y="445.6"/><use href="#sq" x="517.2" y="430.0"/><use href="#sq" x="518.7" y="417.1"/><use href="#sq" x="520.3" y="403.3"/><use href="#sq" x="521.8" y="392.9"/><use href="#sq" x="523.4" y="384.3"/><use href="#sq" x="524.9" y="381.0"/><use href="#sq" x="526.5" y="380.5"/><use href="#sq" x="528.1" y="380.5"/><use href="#sq" x="529.6" y="384.2"/><use href="#sq" x="531.2" y="387.2"/><use href="#sq" x="532.7" y="388.7"/><use href="#sq" x="534.3" y="390.3"/><use href="#sq" x="535.8" y="392.1"/><use href="#sq" x="537.4" y="394.3"/><use href="#sq" x="538.9" y="396.9"/><use href="#sq" x="540.5" y="399.5"/><use href="#sq" x="542.1" y="402.2"/><use href="#sq" x="543.6" y="405.4"/><use href="#sq" x="545.2" y="408.4"/><use href="#sq" x="546.7" y="411.5"/><use href="#sq" x="548.3" y="414.7"/><use href="#sq" x="549.8" y="413.1"/><use href="#sq" x="551.4" y="409.1"/><use href="#sq" x="552.9" y="403.0"/><use href="#sq" x="554.5" y="398.7"/><use href="#sq" x="556.1" y="395.5"/><use href="#sq" x="557.6" y="392.4"/><use href="#sq" x="559.2" y="389.3"/><use href="#sq" x="560.7" y="382.1"/><use href="#sq" x="562.3" y="380.8"/><use href="#sq" x="563.8" y="380.2"/><use href="#sq" x="565.4" y="380.0"/><use href="#sq" x="566.9" y="379.7"/><use href="#sq" x="568.5" y="380.4"/><use href="#sq" x="570.1" y="381.1"/><use href="#sq" x="571.6" y="388.2"/><use href="#sq" x="573.2" y="394.3"/><use href="#sq" x="574.7" y="398.6"/><use href="#sq" x="576.3" y="403.5"/><use href="#sq" x="577.8" y="407.3"/><use href="#sq" x="579.4" y="413.4"/><use href="#sq" x="580.9" y="407.8"/><use href="#sq" x="582.5" y="403.5"/><use href="#sq" x="584.1" y="396.8"/><use href="#sq" x="585.6" y="390.4"/><use href="#sq" x="587.2" y="382.9"/><use href="#sq" x="588.7" y="379.6"/></g>
<text transform="translate(38.2,311.7) scale(0.95,1)" font-size="10.0" font-weight="bold" text-anchor="end">1</text>
<text transform="translate(38.2,355.4) scale(0.95,1)" font-size="10.0" font-weight="bold" text-anchor="end">0.75</text>
<text transform="translate(38.2,399.1) scale(0.95,1)" font-size="10.0" font-weight="bold" text-anchor="end">0.5</text>
<text transform="translate(38.2,442.8) scale(0.95,1)" font-size="10.0" font-weight="bold" text-anchor="end">0.25</text>
<text transform="translate(38.2,486.5) scale(0.95,1)" font-size="10.0" font-weight="bold" text-anchor="end">0</text>
<text transform="translate(48.9,500.1) scale(0.95,1)" font-size="10.0" font-weight="bold" text-anchor="middle">0</text>
<text transform="translate(126.7,500.1) scale(0.95,1)" font-size="10.0" font-weight="bold" text-anchor="middle">50</text>
<text transform="translate(204.5,500.1) scale(0.95,1)" font-size="10.0" font-weight="bold" text-anchor="middle">100</text>
<text transform="translate(282.3,500.1) scale(0.95,1)" font-size="10.0" font-weight="bold" text-anchor="middle">150</text>
<text transform="translate(360.0,500.1) scale(0.95,1)" font-size="10.0" font-weight="bold" text-anchor="middle">200</text>
<text transform="translate(437.8,500.1) scale(0.95,1)" font-size="10.0" font-weight="bold" text-anchor="middle">250</text>
<text transform="translate(515.6,500.1) scale(0.95,1)" font-size="10.0" font-weight="bold" text-anchor="middle">300</text>
<text transform="translate(593.4,500.1) scale(0.95,1)" font-size="10.0" font-weight="bold" text-anchor="middle">350</text>
<text x="300.4" y="518.5" font-size="14.5" stroke="#000" stroke-width="0.25" textLength="145.5" lengthAdjust="spacingAndGlyphs">Poly-peptide sequence</text>
<text transform="translate(13.1,449.3) rotate(-90)" x="0" y="0" font-size="14.5" stroke="#000" stroke-width="0.25" textLength="86.5" lengthAdjust="spacingAndGlyphs">PONDR-Score</text>
<line x1="615.3" x2="632.8" y1="393.8" y2="393.8" stroke="#4472C4" stroke-width="1.5"/>
<use href="#dm" x="624.0" y="393.8"/>
<text x="634.2" y="396.7" font-size="10.2" font-weight="bold" font-style="italic" textLength="47.7" lengthAdjust="spacingAndGlyphs">P. cristatus</text>
<line x1="615.3" x2="632.8" y1="411.4" y2="411.4" stroke="#ED7D31" stroke-width="1.5"/>
<use href="#sq" x="624.0" y="411.4"/>
<text x="634.2" y="414.3" font-size="10.2" font-weight="bold" font-style="italic" textLength="44.5" lengthAdjust="spacingAndGlyphs">P. muticus</text></g>
<g><text x="0.3" y="540.7" font-size="17.5" font-weight="bold">C</text>
<text x="229.1" y="549.3" font-size="14.4" font-weight="bold" textLength="38.3" lengthAdjust="spacingAndGlyphs">NADH</text>
<text x="272.5" y="549.3" font-size="14.4" font-weight="bold" textLength="102.5" lengthAdjust="spacingAndGlyphs">dehydrogenase</text>
<text x="380.0" y="549.3" font-size="14.4" font-weight="bold" textLength="48.0" lengthAdjust="spacingAndGlyphs">subunit</text>
<text x="437.8" y="549.3" font-size="14.4" font-weight="bold" text-anchor="middle">5</text>
<rect x="451" y="558.5" width="70.4" height="229.1" fill="#f2f2f2"/>
<line x1="46.0" x2="49.5" y1="571.5" y2="571.5" stroke="#d4d4d4" stroke-width="1.5"/>
<line x1="49.5" x2="597.2" y1="571.5" y2="571.5" stroke="#999999" stroke-width="1.5"/>
<line x1="46.0" x2="49.5" y1="619.5" y2="619.5" stroke="#d4d4d4" stroke-width="1.5"/>
<line x1="49.5" x2="597.2" y1="619.5" y2="619.5" stroke="#999999" stroke-width="1.5"/>
<line x1="46.0" x2="49.5" y1="667.5" y2="667.5" stroke="#d4d4d4" stroke-width="1.5"/>
<line x1="49.5" x2="597.2" y1="667.5" y2="667.5" stroke="#999999" stroke-width="1.5"/>
<line x1="46.0" x2="49.5" y1="715.5" y2="715.5" stroke="#d4d4d4" stroke-width="1.5"/>
<line x1="49.5" x2="597.2" y1="715.5" y2="715.5" stroke="#999999" stroke-width="1.5"/>
<line x1="46.0" x2="597.2" y1="763.5" y2="763.5" stroke="#cccccc" stroke-width="1.3"/>
<line x1="49.5" x2="49.5" y1="571.5" y2="767.0" stroke="#b0b0b0" stroke-width="1.0"/>
<line x1="49.5" x2="49.5" y1="763.5" y2="767.0" stroke="#b0b0b0" stroke-width="1"/>
<line x1="139.3" x2="139.3" y1="763.5" y2="767.0" stroke="#b0b0b0" stroke-width="1"/>
<line x1="229.2" x2="229.2" y1="763.5" y2="767.0" stroke="#b0b0b0" stroke-width="1"/>
<line x1="319.0" x2="319.0" y1="763.5" y2="767.0" stroke="#b0b0b0" stroke-width="1"/>
<line x1="408.8" x2="408.8" y1="763.5" y2="767.0" stroke="#b0b0b0" stroke-width="1"/>
<line x1="498.6" x2="498.6" y1="763.5" y2="767.0" stroke="#b0b0b0" stroke-width="1"/>
<line x1="588.5" x2="588.5" y1="763.5" y2="767.0" stroke="#b0b0b0" stroke-width="1"/>
<line x1="450.00" x2="522.45" y1="558.5" y2="558.5" stroke="#62729c" stroke-width="1.4"/>
<line x1="450.00" x2="522.45" y1="787.6" y2="787.6" stroke="#62729c" stroke-width="1.4"/>
<line x1="451.0" x2="451.0" y1="557.8" y2="788.3" stroke="#8c9ac0" stroke-width="2.0"/>
<line x1="521.6" x2="521.6" y1="557.8" y2="788.3" stroke="#7c889c" stroke-width="1.7"/>
<polyline points="50.4,607.9 51.3,610.0 52.2,612.2 53.1,614.8 54.0,617.6 54.9,620.6 55.8,624.1 56.7,627.5 57.6,628.5 58.5,629.4 59.4,633.8 60.3,640.1 61.2,646.9 62.1,654.5 63.0,669.5 63.9,675.0 64.8,682.0 65.7,685.9 66.6,688.7 67.5,690.3 68.4,680.2 69.3,675.0 70.2,674.8 71.1,675.0 72.0,673.3 72.9,670.7 73.8,665.6 74.7,658.8 75.6,651.3 76.4,644.8 77.3,640.7 78.2,638.0 79.1,636.0 80.0,636.0 80.9,637.5 81.8,641.3 82.7,666.8 83.6,685.7 84.5,702.2 85.4,713.5 86.3,723.2 87.2,729.2 88.1,735.3 89.0,739.9 89.9,743.6 90.8,746.6 91.7,748.0 92.6,749.4 93.5,749.1 94.4,748.6 95.3,747.4 96.2,745.6 97.1,743.5 98.0,740.6 98.9,737.2 99.8,732.9 100.7,726.5 101.6,721.3 102.5,717.5 103.4,716.0 104.3,717.3 105.2,720.4 106.1,726.6 107.0,732.7 107.9,738.7 108.8,744.4 109.7,748.2 110.6,751.8 111.5,751.1 112.4,749.9 113.3,748.5 114.2,746.4 115.1,744.3 116.0,742.2 116.9,739.9 117.8,737.1 118.7,734.4 119.6,731.7 120.5,729.1 121.4,726.4 122.3,723.8 123.2,723.3 124.1,724.8 125.0,728.4 125.9,735.0 126.8,739.4 127.7,744.1 128.6,748.0 129.4,750.9 130.3,753.6 131.2,754.9 132.1,756.2 133.0,757.5 133.9,758.1 134.8,758.6 135.7,759.1 136.6,759.4 137.5,759.1 138.4,758.7 139.3,758.4 140.2,757.7 141.1,756.5 142.0,755.4 142.9,753.9 143.8,751.6 144.7,749.4 145.6,746.9 146.5,743.9 147.4,741.0 148.3,739.1 149.2,737.3 150.1,737.4 151.0,738.0 151.9,740.0 152.8,743.6 153.7,747.2 154.6,750.5 155.5,753.6 156.4,756.5 157.3,759.1 158.2,759.9 159.1,760.7 160.0,761.1 160.9,760.8 161.8,760.6 162.7,760.4 163.6,759.5 164.5,758.4 165.4,757.4 166.3,756.3 167.2,755.0 168.1,753.8 169.0,752.5 169.9,752.3 170.8,752.0 171.7,752.7 172.6,754.5 173.5,756.3 174.4,757.3 175.3,758.2 176.2,759.1 177.1,758.5 178.0,757.6 178.9,756.7 179.8,756.0 180.7,755.3 181.6,754.6 182.4,754.4 183.3,754.7 184.2,755.1 185.1,755.6 186.0,756.5 186.9,757.4 187.8,758.0 188.7,757.9 189.6,757.7 190.5,757.1 191.4,754.1 192.3,750.2 193.2,743.4 194.1,735.3 195.0,725.5 195.9,717.8 196.8,706.8 197.7,699.1 198.6,697.3 199.5,700.5 200.4,707.3 201.3,716.3 202.2,726.2 203.1,731.8 204.0,738.0 204.9,743.4 205.8,745.1 206.7,746.3 207.6,746.3 208.5,746.3 209.4,746.5 210.3,747.0 211.2,747.4 212.1,748.9 213.0,750.5 213.9,751.2 214.8,751.8 215.7,752.5 216.6,752.3 217.5,751.6 218.4,751.0 219.3,749.7 220.2,747.2 221.1,744.7 222.0,741.6 222.9,737.1 223.8,728.8 224.7,715.8 225.6,706.8 226.5,696.3 227.4,686.5 228.3,681.1 229.2,680.6 230.1,684.7 231.0,688.8 231.9,691.6 232.8,694.5 233.7,698.2 234.5,701.9 235.4,707.7 236.3,714.5 237.2,723.4 238.1,731.5 239.0,738.7 239.9,743.7 240.8,747.6 241.7,748.5 242.6,747.7 243.5,745.0 244.4,738.3 245.3,730.7 246.2,722.7 247.1,713.7 248.0,708.6 248.9,703.0 249.8,698.4 250.7,697.5 251.6,699.3 252.5,702.8 253.4,707.7 254.3,713.2 255.2,718.3 256.1,721.9 257.0,722.5 257.9,720.7 258.8,715.7 259.7,709.7 260.6,701.9 261.5,691.4 262.4,683.3 263.3,676.9 264.2,671.7 265.1,668.1 266.0,665.5 266.9,663.7 267.8,662.3 268.7,665.4 269.6,673.2 270.5,682.5 271.4,691.3 272.3,700.1 273.2,707.5 274.1,714.3 275.0,722.7 275.9,735.2 276.8,741.9 277.7,747.3 278.6,749.8 279.5,752.1 280.4,753.1 281.3,753.6 282.2,754.2 283.1,752.6 284.0,751.0 284.9,748.0 285.8,744.6 286.7,740.1 287.5,733.1 288.4,722.2 289.3,709.5 290.2,699.3 291.1,695.3 292.0,697.3 292.9,701.7 293.8,714.6 294.7,729.9 295.6,739.3 296.5,744.2 297.4,748.0 298.3,749.7 299.2,751.5 300.1,752.3 301.0,752.6 301.9,753.0 302.8,753.3 303.7,753.5 304.6,753.5 305.5,753.5 306.4,753.5 307.3,753.3 308.2,752.6 309.1,751.9 310.0,751.2 310.9,749.1 311.8,746.9 312.7,743.5 313.6,739.0 314.5,731.8 315.4,724.7 316.3,718.7 317.2,714.4 318.1,711.5 319.0,709.0 319.9,709.9 320.8,710.8 321.7,711.6 322.6,710.0 323.5,708.0 324.4,706.7 325.3,705.3 326.2,706.7 327.1,708.2 328.0,711.8 328.9,717.3 329.8,723.3 330.7,729.1 331.6,734.7 332.5,739.5 333.4,743.5 334.3,744.4 335.2,745.0 336.1,744.1 337.0,743.2 337.9,742.3 338.8,741.9 339.7,741.5 340.5,741.2 341.4,740.8 342.3,740.8 343.2,741.0 344.1,741.2 345.0,741.4 345.9,741.7 346.8,742.2 347.7,742.6 348.6,743.2 349.5,744.4 350.4,745.6 351.3,747.9 352.2,750.6 353.1,752.7 354.0,754.9 354.9,757.0 355.8,756.1 356.7,755.3 357.6,753.4 358.5,750.4 359.4,746.4 360.3,742.9 361.2,733.3 362.1,724.0 363.0,715.7 363.9,705.3 364.8,689.6 365.7,683.8 366.6,680.1 367.5,679.9 368.4,681.3 369.3,684.3 370.2,692.3 371.1,700.6 372.0,706.4 372.9,712.5 373.8,714.7 374.7,711.6 375.6,708.6 376.5,705.6 377.4,704.2 378.3,708.7 379.2,712.9 380.1,717.0 381.0,721.9 381.9,727.2 382.8,730.7 383.7,734.3 384.6,735.9 385.5,737.3 386.4,738.6 387.3,739.8 388.2,741.0 389.1,742.2 390.0,743.4 390.9,743.4 391.8,742.6 392.7,741.8 393.5,741.6 394.4,741.8 395.3,742.0 396.2,742.2 397.1,742.2 398.0,742.2 398.9,742.2 399.8,740.8 400.7,739.3 401.6,736.9 402.5,733.5 403.4,730.3 404.3,727.7 405.2,725.8 406.1,726.1 407.0,726.4 407.9,729.2 408.8,732.6 409.7,737.1 410.6,742.5 411.5,745.7 412.4,748.7 413.3,750.9 414.2,753.0 415.1,754.3 416.0,754.7 416.9,755.0 417.8,753.0 418.7,750.7 419.6,746.5 420.5,741.8 421.4,736.1 422.3,729.5 423.2,722.1 424.1,714.8 425.0,709.6 425.9,707.9 426.8,709.7 427.7,712.4 428.6,716.9 429.5,722.0 430.4,727.4 431.3,731.9 432.2,735.2 433.1,737.4 434.0,738.9 434.9,739.7 435.8,738.5 436.7,737.3 437.6,735.9 438.5,733.7 439.4,731.6 440.3,728.1 441.2,723.7 442.1,718.4 443.0,711.6 443.9,706.0 444.8,700.9 445.7,696.4 446.5,691.5 447.4,686.5 448.3,685.4 449.2,685.4 450.1,690.1 451.0,699.9 451.9,710.6 452.8,717.3 453.7,721.7 454.6,724.7 455.5,725.9 456.4,727.1 457.3,727.6 458.2,727.6 459.1,727.6 460.0,726.7 460.9,725.8 461.8,725.0 462.7,724.8 463.6,724.6 464.5,724.4 465.4,724.2 466.3,723.9 467.2,723.7 468.1,723.5 469.0,722.6 469.9,721.7 470.8,720.4 471.7,718.2 472.6,715.5 473.5,708.8 474.4,698.3 475.3,686.0 476.2,674.1 477.1,672.3 478.0,670.6 478.9,670.7 479.8,671.8 480.7,674.3 481.6,678.9 482.5,683.9 483.4,689.3 484.3,696.3 485.2,703.3 486.1,707.0 487.0,710.8 487.9,715.2 488.8,718.9 489.7,721.7 490.6,724.5 491.5,727.4 492.4,725.4 493.3,722.6 494.2,721.0 495.1,719.5 496.0,718.1 496.9,714.6 497.8,709.9 498.6,705.4 499.5,701.0 500.4,693.8 501.3,683.6 502.2,677.7 503.1,672.6 504.0,667.8 504.9,663.9 505.8,660.1 506.7,655.8 507.6,651.3 508.5,646.6 509.4,641.7 510.3,636.8 511.2,634.5 512.1,632.1 513.0,630.5 513.9,631.3 514.8,632.0 515.7,635.4 516.6,639.7 517.5,646.8 518.4,653.9 519.3,662.3 520.2,670.7 521.1,676.1 522.0,679.1 522.9,682.1 523.8,684.6 524.7,686.3 525.6,688.0 526.5,689.9 527.4,692.3 528.3,694.7 529.2,696.7 530.1,694.9 531.0,694.3 531.9,693.7 532.8,693.1 533.7,695.1 534.6,696.7 535.5,693.7 536.4,690.6 537.3,688.2 538.2,686.2 539.1,684.1 540.0,685.5 540.9,688.7 541.8,697.3 542.7,707.8 543.6,715.3 544.5,722.4 545.4,729.4 546.3,734.2 547.2,735.6 548.1,736.3 549.0,736.0 549.9,734.3 550.8,731.2 551.6,725.7 552.5,717.3 553.4,713.9 554.3,711.5 555.2,710.1 556.1,711.4 557.0,714.5 557.9,717.9 558.8,721.6 559.7,724.8 560.6,727.8 561.5,728.3 562.4,724.3 563.3,717.2 564.2,707.9 565.1,699.1 566.0,693.5 566.9,691.9 567.8,692.9 568.7,696.6 569.6,699.7 570.5,702.4 571.4,704.3 572.3,705.7 573.2,707.2 574.1,708.7 575.0,710.2 575.9,715.2 576.8,722.5 577.7,730.5 578.6,736.2 579.5,741.4 580.4,745.0 581.3,748.5 582.2,750.8 583.1,752.9 584.0,755.0 584.9,755.0 585.8,753.8 586.7,750.1 587.6,741.2 588.5,728.3 589.4,704.6 590.3,679.6 591.2,664.4 592.1,646.9" fill="none" stroke="#4472C4" stroke-width="1.5" stroke-linejoin="round"/>
<g><use href="#dm" x="50.4" y="607.9"/><use href="#dm" x="51.3" y="610.0"/><use href="#dm" x="52.2" y="612.2"/><use href="#dm" x="53.1" y="614.8"/><use href="#dm" x="54.0" y="617.6"/><use href="#dm" x="54.9" y="620.6"/><use href="#dm" x="55.8" y="624.1"/><use href="#dm" x="56.7" y="627.5"/><use href="#dm" x="57.6" y="628.5"/><use href="#dm" x="58.5" y="629.4"/><use href="#dm" x="59.4" y="633.8"/><use href="#dm" x="60.3" y="640.1"/><use href="#dm" x="61.2" y="646.9"/><use href="#dm" x="62.1" y="654.5"/><use href="#dm" x="63.0" y="669.5"/><use href="#dm" x="63.9" y="675.0"/><use href="#dm" x="64.8" y="682.0"/><use href="#dm" x="65.7" y="685.9"/><use href="#dm" x="66.6" y="688.7"/><use href="#dm" x="67.5" y="690.3"/><use href="#dm" x="68.4" y="680.2"/><use href="#dm" x="69.3" y="675.0"/><use href="#dm" x="70.2" y="674.8"/><use href="#dm" x="71.1" y="675.0"/><use href="#dm" x="72.0" y="673.3"/><use href="#dm" x="72.9" y="670.7"/><use href="#dm" x="73.8" y="665.6"/><use href="#dm" x="74.7" y="658.8"/><use href="#dm" x="75.6" y="651.3"/><use href="#dm" x="76.4" y="644.8"/><use href="#dm" x="77.3" y="640.7"/><use href="#dm" x="78.2" y="638.0"/><use href="#dm" x="79.1" y="636.0"/><use href="#dm" x="80.0" y="636.0"/><use href="#dm" x="80.9" y="637.5"/><use href="#dm" x="81.8" y="641.3"/><use href="#dm" x="82.7" y="666.8"/><use href="#dm" x="83.6" y="685.7"/><use href="#dm" x="84.5" y="702.2"/><use href="#dm" x="85.4" y="713.5"/><use href="#dm" x="86.3" y="723.2"/><use href="#dm" x="87.2" y="729.2"/><use href="#dm" x="88.1" y="735.3"/><use href="#dm" x="89.0" y="739.9"/><use href="#dm" x="89.9" y="743.6"/><use href="#dm" x="90.8" y="746.6"/><use href="#dm" x="91.7" y="748.0"/><use href="#dm" x="92.6" y="749.4"/><use href="#dm" x="93.5" y="749.1"/><use href="#dm" x="94.4" y="748.6"/><use href="#dm" x="95.3" y="747.4"/><use href="#dm" x="96.2" y="745.6"/><use href="#dm" x="97.1" y="743.5"/><use href="#dm" x="98.0" y="740.6"/><use href="#dm" x="98.9" y="737.2"/><use href="#dm" x="99.8" y="732.9"/><use href="#dm" x="100.7" y="726.5"/><use href="#dm" x="101.6" y="721.3"/><use href="#dm" x="102.5" y="717.5"/><use href="#dm" x="103.4" y="716.0"/><use href="#dm" x="104.3" y="717.3"/><use href="#dm" x="105.2" y="720.4"/><use href="#dm" x="106.1" y="726.6"/><use href="#dm" x="107.0" y="732.7"/><use href="#dm" x="107.9" y="738.7"/><use href="#dm" x="108.8" y="744.4"/><use href="#dm" x="109.7" y="748.2"/><use href="#dm" x="110.6" y="751.8"/><use href="#dm" x="111.5" y="751.1"/><use href="#dm" x="112.4" y="749.9"/><use href="#dm" x="113.3" y="748.5"/><use href="#dm" x="114.2" y="746.4"/><use href="#dm" x="115.1" y="744.3"/><use href="#dm" x="116.0" y="742.2"/><use href="#dm" x="116.9" y="739.9"/><use href="#dm" x="117.8" y="737.1"/><use href="#dm" x="118.7" y="734.4"/><use href="#dm" x="119.6" y="731.7"/><use href="#dm" x="120.5" y="729.1"/><use href="#dm" x="121.4" y="726.4"/><use href="#dm" x="122.3" y="723.8"/><use href="#dm" x="123.2" y="723.3"/><use href="#dm" x="124.1" y="724.8"/><use href="#dm" x="125.0" y="728.4"/><use href="#dm" x="125.9" y="735.0"/><use href="#dm" x="126.8" y="739.4"/><use href="#dm" x="127.7" y="744.1"/><use href="#dm" x="128.6" y="748.0"/><use href="#dm" x="129.4" y="750.9"/><use href="#dm" x="130.3" y="753.6"/><use href="#dm" x="131.2" y="754.9"/><use href="#dm" x="132.1" y="756.2"/><use href="#dm" x="133.0" y="757.5"/><use href="#dm" x="133.9" y="758.1"/><use href="#dm" x="134.8" y="758.6"/><use href="#dm" x="135.7" y="759.1"/><use href="#dm" x="136.6" y="759.4"/><use href="#dm" x="137.5" y="759.1"/><use href="#dm" x="138.4" y="758.7"/><use href="#dm" x="139.3" y="758.4"/><use href="#dm" x="140.2" y="757.7"/><use href="#dm" x="141.1" y="756.5"/><use href="#dm" x="142.0" y="755.4"/><use href="#dm" x="142.9" y="753.9"/><use href="#dm" x="143.8" y="751.6"/><use href="#dm" x="144.7" y="749.4"/><use href="#dm" x="145.6" y="746.9"/><use href="#dm" x="146.5" y="743.9"/><use href="#dm" x="147.4" y="741.0"/><use href="#dm" x="148.3" y="739.1"/><use href="#dm" x="149.2" y="737.3"/><use href="#dm" x="150.1" y="737.4"/><use href="#dm" x="151.0" y="738.0"/><use href="#dm" x="151.9" y="740.0"/><use href="#dm" x="152.8" y="743.6"/><use href="#dm" x="153.7" y="747.2"/><use href="#dm" x="154.6" y="750.5"/><use href="#dm" x="155.5" y="753.6"/><use href="#dm" x="156.4" y="756.5"/><use href="#dm" x="157.3" y="759.1"/><use href="#dm" x="158.2" y="759.9"/><use href="#dm" x="159.1" y="760.7"/><use href="#dm" x="160.0" y="761.1"/><use href="#dm" x="160.9" y="760.8"/><use href="#dm" x="161.8" y="760.6"/><use href="#dm" x="162.7" y="760.4"/><use href="#dm" x="163.6" y="759.5"/><use href="#dm" x="164.5" y="758.4"/><use href="#dm" x="165.4" y="757.4"/><use href="#dm" x="166.3" y="756.3"/><use href="#dm" x="167.2" y="755.0"/><use href="#dm" x="168.1" y="753.8"/><use href="#dm" x="169.0" y="752.5"/><use href="#dm" x="169.9" y="752.3"/><use href="#dm" x="170.8" y="752.0"/><use href="#dm" x="171.7" y="752.7"/><use href="#dm" x="172.6" y="754.5"/><use href="#dm" x="173.5" y="756.3"/><use href="#dm" x="174.4" y="757.3"/><use href="#dm" x="175.3" y="758.2"/><use href="#dm" x="176.2" y="759.1"/><use href="#dm" x="177.1" y="758.5"/><use href="#dm" x="178.0" y="757.6"/><use href="#dm" x="178.9" y="756.7"/><use href="#dm" x="179.8" y="756.0"/><use href="#dm" x="180.7" y="755.3"/><use href="#dm" x="181.6" y="754.6"/><use href="#dm" x="182.4" y="754.4"/><use href="#dm" x="183.3" y="754.7"/><use href="#dm" x="184.2" y="755.1"/><use href="#dm" x="185.1" y="755.6"/><use href="#dm" x="186.0" y="756.5"/><use href="#dm" x="186.9" y="757.4"/><use href="#dm" x="187.8" y="758.0"/><use href="#dm" x="188.7" y="757.9"/><use href="#dm" x="189.6" y="757.7"/><use href="#dm" x="190.5" y="757.1"/><use href="#dm" x="191.4" y="754.1"/><use href="#dm" x="192.3" y="750.2"/><use href="#dm" x="193.2" y="743.4"/><use href="#dm" x="194.1" y="735.3"/><use href="#dm" x="195.0" y="725.5"/><use href="#dm" x="195.9" y="717.8"/><use href="#dm" x="196.8" y="706.8"/><use href="#dm" x="197.7" y="699.1"/><use href="#dm" x="198.6" y="697.3"/><use href="#dm" x="199.5" y="700.5"/><use href="#dm" x="200.4" y="707.3"/><use href="#dm" x="201.3" y="716.3"/><use href="#dm" x="202.2" y="726.2"/><use href="#dm" x="203.1" y="731.8"/><use href="#dm" x="204.0" y="738.0"/><use href="#dm" x="204.9" y="743.4"/><use href="#dm" x="205.8" y="745.1"/><use href="#dm" x="206.7" y="746.3"/><use href="#dm" x="207.6" y="746.3"/><use href="#dm" x="208.5" y="746.3"/><use href="#dm" x="209.4" y="746.5"/><use href="#dm" x="210.3" y="747.0"/><use href="#dm" x="211.2" y="747.4"/><use href="#dm" x="212.1" y="748.9"/><use href="#dm" x="213.0" y="750.5"/><use href="#dm" x="213.9" y="751.2"/><use href="#dm" x="214.8" y="751.8"/><use href="#dm" x="215.7" y="752.5"/><use href="#dm" x="216.6" y="752.3"/><use href="#dm" x="217.5" y="751.6"/><use href="#dm" x="218.4" y="751.0"/><use href="#dm" x="219.3" y="749.7"/><use href="#dm" x="220.2" y="747.2"/><use href="#dm" x="221.1" y="744.7"/><use href="#dm" x="222.0" y="741.6"/><use href="#dm" x="222.9" y="737.1"/><use href="#dm" x="223.8" y="728.8"/><use href="#dm" x="224.7" y="715.8"/><use href="#dm" x="225.6" y="706.8"/><use href="#dm" x="226.5" y="696.3"/><use href="#dm" x="227.4" y="686.5"/><use href="#dm" x="228.3" y="681.1"/><use href="#dm" x="229.2" y="680.6"/><use href="#dm" x="230.1" y="684.7"/><use href="#dm" x="231.0" y="688.8"/><use href="#dm" x="231.9" y="691.6"/><use href="#dm" x="232.8" y="694.5"/><use href="#dm" x="233.7" y="698.2"/><use href="#dm" x="234.5" y="701.9"/><use href="#dm" x="235.4" y="707.7"/><use href="#dm" x="236.3" y="714.5"/><use href="#dm" x="237.2" y="723.4"/><use href="#dm" x="238.1" y="731.5"/><use href="#dm" x="239.0" y="738.7"/><use href="#dm" x="239.9" y="743.7"/><use href="#dm" x="240.8" y="747.6"/><use href="#dm" x="241.7" y="748.5"/><use href="#dm" x="242.6" y="747.7"/><use href="#dm" x="243.5" y="745.0"/><use href="#dm" x="244.4" y="738.3"/><use href="#dm" x="245.3" y="730.7"/><use href="#dm" x="246.2" y="722.7"/><use href="#dm" x="247.1" y="713.7"/><use href="#dm" x="248.0" y="708.6"/><use href="#dm" x="248.9" y="703.0"/><use href="#dm" x="249.8" y="698.4"/><use href="#dm" x="250.7" y="697.5"/><use href="#dm" x="251.6" y="699.3"/><use href="#dm" x="252.5" y="702.8"/><use href="#dm" x="253.4" y="707.7"/><use href="#dm" x="254.3" y="713.2"/><use href="#dm" x="255.2" y="718.3"/><use href="#dm" x="256.1" y="721.9"/><use href="#dm" x="257.0" y="722.5"/><use href="#dm" x="257.9" y="720.7"/><use href="#dm" x="258.8" y="715.7"/><use href="#dm" x="259.7" y="709.7"/><use href="#dm" x="260.6" y="701.9"/><use href="#dm" x="261.5" y="691.4"/><use href="#dm" x="262.4" y="683.3"/><use href="#dm" x="263.3" y="676.9"/><use href="#dm" x="264.2" y="671.7"/><use href="#dm" x="265.1" y="668.1"/><use href="#dm" x="266.0" y="665.5"/><use href="#dm" x="266.9" y="663.7"/><use href="#dm" x="267.8" y="662.3"/><use href="#dm" x="268.7" y="665.4"/><use href="#dm" x="269.6" y="673.2"/><use href="#dm" x="270.5" y="682.5"/><use href="#dm" x="271.4" y="691.3"/><use href="#dm" x="272.3" y="700.1"/><use href="#dm" x="273.2" y="707.5"/><use href="#dm" x="274.1" y="714.3"/><use href="#dm" x="275.0" y="722.7"/><use href="#dm" x="275.9" y="735.2"/><use href="#dm" x="276.8" y="741.9"/><use href="#dm" x="277.7" y="747.3"/><use href="#dm" x="278.6" y="749.8"/><use href="#dm" x="279.5" y="752.1"/><use href="#dm" x="280.4" y="753.1"/><use href="#dm" x="281.3" y="753.6"/><use href="#dm" x="282.2" y="754.2"/><use href="#dm" x="283.1" y="752.6"/><use href="#dm" x="284.0" y="751.0"/><use href="#dm" x="284.9" y="748.0"/><use href="#dm" x="285.8" y="744.6"/><use href="#dm" x="286.7" y="740.1"/><use href="#dm" x="287.5" y="733.1"/><use href="#dm" x="288.4" y="722.2"/><use href="#dm" x="289.3" y="709.5"/><use href="#dm" x="290.2" y="699.3"/><use href="#dm" x="291.1" y="695.3"/><use href="#dm" x="292.0" y="697.3"/><use href="#dm" x="292.9" y="701.7"/><use href="#dm" x="293.8" y="714.6"/><use href="#dm" x="294.7" y="729.9"/><use href="#dm" x="295.6" y="739.3"/><use href="#dm" x="296.5" y="744.2"/><use href="#dm" x="297.4" y="748.0"/><use href="#dm" x="298.3" y="749.7"/><use href="#dm" x="299.2" y="751.5"/><use href="#dm" x="300.1" y="752.3"/><use href="#dm" x="301.0" y="752.6"/><use href="#dm" x="301.9" y="753.0"/><use href="#dm" x="302.8" y="753.3"/><use href="#dm" x="303.7" y="753.5"/><use href="#dm" x="304.6" y="753.5"/><use href="#dm" x="305.5" y="753.5"/><use href="#dm" x="306.4" y="753.5"/><use href="#dm" x="307.3" y="753.3"/><use href="#dm" x="308.2" y="752.6"/><use href="#dm" x="309.1" y="751.9"/><use href="#dm" x="310.0" y="751.2"/><use href="#dm" x="310.9" y="749.1"/><use href="#dm" x="311.8" y="746.9"/><use href="#dm" x="312.7" y="743.5"/><use href="#dm" x="313.6" y="739.0"/><use href="#dm" x="314.5" y="731.8"/><use href="#dm" x="315.4" y="724.7"/><use href="#dm" x="316.3" y="718.7"/><use href="#dm" x="317.2" y="714.4"/><use href="#dm" x="318.1" y="711.5"/><use href="#dm" x="319.0" y="709.0"/><use href="#dm" x="319.9" y="709.9"/><use href="#dm" x="320.8" y="710.8"/><use href="#dm" x="321.7" y="711.6"/><use href="#dm" x="322.6" y="710.0"/><use href="#dm" x="323.5" y="708.0"/><use href="#dm" x="324.4" y="706.7"/><use href="#dm" x="325.3" y="705.3"/><use href="#dm" x="326.2" y="706.7"/><use href="#dm" x="327.1" y="708.2"/><use href="#dm" x="328.0" y="711.8"/><use href="#dm" x="328.9" y="717.3"/><use href="#dm" x="329.8" y="723.3"/><use href="#dm" x="330.7" y="729.1"/><use href="#dm" x="331.6" y="734.7"/><use href="#dm" x="332.5" y="739.5"/><use href="#dm" x="333.4" y="743.5"/><use href="#dm" x="334.3" y="744.4"/><use href="#dm" x="335.2" y="745.0"/><use href="#dm" x="336.1" y="744.1"/><use href="#dm" x="337.0" y="743.2"/><use href="#dm" x="337.9" y="742.3"/><use href="#dm" x="338.8" y="741.9"/><use href="#dm" x="339.7" y="741.5"/><use href="#dm" x="340.5" y="741.2"/><use href="#dm" x="341.4" y="740.8"/><use href="#dm" x="342.3" y="740.8"/><use href="#dm" x="343.2" y="741.0"/><use href="#dm" x="344.1" y="741.2"/><use href="#dm" x="345.0" y="741.4"/><use href="#dm" x="345.9" y="741.7"/><use href="#dm" x="346.8" y="742.2"/><use href="#dm" x="347.7" y="742.6"/><use href="#dm" x="348.6" y="743.2"/><use href="#dm" x="349.5" y="744.4"/><use href="#dm" x="350.4" y="745.6"/><use href="#dm" x="351.3" y="747.9"/><use href="#dm" x="352.2" y="750.6"/><use href="#dm" x="353.1" y="752.7"/><use href="#dm" x="354.0" y="754.9"/><use href="#dm" x="354.9" y="757.0"/><use href="#dm" x="355.8" y="756.1"/><use href="#dm" x="356.7" y="755.3"/><use href="#dm" x="357.6" y="753.4"/><use href="#dm" x="358.5" y="750.4"/><use href="#dm" x="359.4" y="746.4"/><use href="#dm" x="360.3" y="742.9"/><use href="#dm" x="361.2" y="733.3"/><use href="#dm" x="362.1" y="724.0"/><use href="#dm" x="363.0" y="715.7"/><use href="#dm" x="363.9" y="705.3"/><use href="#dm" x="364.8" y="689.6"/><use href="#dm" x="365.7" y="683.8"/><use href="#dm" x="366.6" y="680.1"/><use href="#dm" x="367.5" y="679.9"/><use href="#dm" x="368.4" y="681.3"/><use href="#dm" x="369.3" y="684.3"/><use href="#dm" x="370.2" y="692.3"/><use href="#dm" x="371.1" y="700.6"/><use href="#dm" x="372.0" y="706.4"/><use href="#dm" x="372.9" y="712.5"/><use href="#dm" x="373.8" y="714.7"/><use href="#dm" x="374.7" y="711.6"/><use href="#dm" x="375.6" y="708.6"/><use href="#dm" x="376.5" y="705.6"/><use href="#dm" x="377.4" y="704.2"/><use href="#dm" x="378.3" y="708.7"/><use href="#dm" x="379.2" y="712.9"/><use href="#dm" x="380.1" y="717.0"/><use href="#dm" x="381.0" y="721.9"/><use href="#dm" x="381.9" y="727.2"/><use href="#dm" x="382.8" y="730.7"/><use href="#dm" x="383.7" y="734.3"/><use href="#dm" x="384.6" y="735.9"/><use href="#dm" x="385.5" y="737.3"/><use href="#dm" x="386.4" y="738.6"/><use href="#dm" x="387.3" y="739.8"/><use href="#dm" x="388.2" y="741.0"/><use href="#dm" x="389.1" y="742.2"/><use href="#dm" x="390.0" y="743.4"/><use href="#dm" x="390.9" y="743.4"/><use href="#dm" x="391.8" y="742.6"/><use href="#dm" x="392.7" y="741.8"/><use href="#dm" x="393.5" y="741.6"/><use href="#dm" x="394.4" y="741.8"/><use href="#dm" x="395.3" y="742.0"/><use href="#dm" x="396.2" y="742.2"/><use href="#dm" x="397.1" y="742.2"/><use href="#dm" x="398.0" y="742.2"/><use href="#dm" x="398.9" y="742.2"/><use href="#dm" x="399.8" y="740.8"/><use href="#dm" x="400.7" y="739.3"/><use href="#dm" x="401.6" y="736.9"/><use href="#dm" x="402.5" y="733.5"/><use href="#dm" x="403.4" y="730.3"/><use href="#dm" x="404.3" y="727.7"/><use href="#dm" x="405.2" y="725.8"/><use href="#dm" x="406.1" y="726.1"/><use href="#dm" x="407.0" y="726.4"/><use href="#dm" x="407.9" y="729.2"/><use href="#dm" x="408.8" y="732.6"/><use href="#dm" x="409.7" y="737.1"/><use href="#dm" x="410.6" y="742.5"/><use href="#dm" x="411.5" y="745.7"/><use href="#dm" x="412.4" y="748.7"/><use href="#dm" x="413.3" y="750.9"/><use href="#dm" x="414.2" y="753.0"/><use href="#dm" x="415.1" y="754.3"/><use href="#dm" x="416.0" y="754.7"/><use href="#dm" x="416.9" y="755.0"/><use href="#dm" x="417.8" y="753.0"/><use href="#dm" x="418.7" y="750.7"/><use href="#dm" x="419.6" y="746.5"/><use href="#dm" x="420.5" y="741.8"/><use href="#dm" x="421.4" y="736.1"/><use href="#dm" x="422.3" y="729.5"/><use href="#dm" x="423.2" y="722.1"/><use href="#dm" x="424.1" y="714.8"/><use href="#dm" x="425.0" y="709.6"/><use href="#dm" x="425.9" y="707.9"/><use href="#dm" x="426.8" y="709.7"/><use href="#dm" x="427.7" y="712.4"/><use href="#dm" x="428.6" y="716.9"/><use href="#dm" x="429.5" y="722.0"/><use href="#dm" x="430.4" y="727.4"/><use href="#dm" x="431.3" y="731.9"/><use href="#dm" x="432.2" y="735.2"/><use href="#dm" x="433.1" y="737.4"/><use href="#dm" x="434.0" y="738.9"/><use href="#dm" x="434.9" y="739.7"/><use href="#dm" x="435.8" y="738.5"/><use href="#dm" x="436.7" y="737.3"/><use href="#dm" x="437.6" y="735.9"/><use href="#dm" x="438.5" y="733.7"/><use href="#dm" x="439.4" y="731.6"/><use href="#dm" x="440.3" y="728.1"/><use href="#dm" x="441.2" y="723.7"/><use href="#dm" x="442.1" y="718.4"/><use href="#dm" x="443.0" y="711.6"/><use href="#dm" x="443.9" y="706.0"/><use href="#dm" x="444.8" y="700.9"/><use href="#dm" x="445.7" y="696.4"/><use href="#dm" x="446.5" y="691.5"/><use href="#dm" x="447.4" y="686.5"/><use href="#dm" x="448.3" y="685.4"/><use href="#dm" x="449.2" y="685.4"/><use href="#dm" x="450.1" y="690.1"/><use href="#dm" x="451.0" y="699.9"/><use href="#dm" x="451.9" y="710.6"/><use href="#dm" x="452.8" y="717.3"/><use href="#dm" x="453.7" y="721.7"/><use href="#dm" x="454.6" y="724.7"/><use href="#dm" x="455.5" y="725.9"/><use href="#dm" x="456.4" y="727.1"/><use href="#dm" x="457.3" y="727.6"/><use href="#dm" x="458.2" y="727.6"/><use href="#dm" x="459.1" y="727.6"/><use href="#dm" x="460.0" y="726.7"/><use href="#dm" x="460.9" y="725.8"/><use href="#dm" x="461.8" y="725.0"/><use href="#dm" x="462.7" y="724.8"/><use href="#dm" x="463.6" y="724.6"/><use href="#dm" x="464.5" y="724.4"/><use href="#dm" x="465.4" y="724.2"/><use href="#dm" x="466.3" y="723.9"/><use href="#dm" x="467.2" y="723.7"/><use href="#dm" x="468.1" y="723.5"/><use href="#dm" x="469.0" y="722.6"/><use href="#dm" x="469.9" y="721.7"/><use href="#dm" x="470.8" y="720.4"/><use href="#dm" x="471.7" y="718.2"/><use href="#dm" x="472.6" y="715.5"/><use href="#dm" x="473.5" y="708.8"/><use href="#dm" x="474.4" y="698.3"/><use href="#dm" x="475.3" y="686.0"/><use href="#dm" x="476.2" y="674.1"/><use href="#dm" x="477.1" y="672.3"/><use href="#dm" x="478.0" y="670.6"/><use href="#dm" x="478.9" y="670.7"/><use href="#dm" x="479.8" y="671.8"/><use href="#dm" x="480.7" y="674.3"/><use href="#dm" x="481.6" y="678.9"/><use href="#dm" x="482.5" y="683.9"/><use href="#dm" x="483.4" y="689.3"/><use href="#dm" x="484.3" y="696.3"/><use href="#dm" x="485.2" y="703.3"/><use href="#dm" x="486.1" y="707.0"/><use href="#dm" x="487.0" y="710.8"/><use href="#dm" x="487.9" y="715.2"/><use href="#dm" x="488.8" y="718.9"/><use href="#dm" x="489.7" y="721.7"/><use href="#dm" x="490.6" y="724.5"/><use href="#dm" x="491.5" y="727.4"/><use href="#dm" x="492.4" y="725.4"/><use href="#dm" x="493.3" y="722.6"/><use href="#dm" x="494.2" y="721.0"/><use href="#dm" x="495.1" y="719.5"/><use href="#dm" x="496.0" y="718.1"/><use href="#dm" x="496.9" y="714.6"/><use href="#dm" x="497.8" y="709.9"/><use href="#dm" x="498.6" y="705.4"/><use href="#dm" x="499.5" y="701.0"/><use href="#dm" x="500.4" y="693.8"/><use href="#dm" x="501.3" y="683.6"/><use href="#dm" x="502.2" y="677.7"/><use href="#dm" x="503.1" y="672.6"/><use href="#dm" x="504.0" y="667.8"/><use href="#dm" x="504.9" y="663.9"/><use href="#dm" x="505.8" y="660.1"/><use href="#dm" x="506.7" y="655.8"/><use href="#dm" x="507.6" y="651.3"/><use href="#dm" x="508.5" y="646.6"/><use href="#dm" x="509.4" y="641.7"/><use href="#dm" x="510.3" y="636.8"/><use href="#dm" x="511.2" y="634.5"/><use href="#dm" x="512.1" y="632.1"/><use href="#dm" x="513.0" y="630.5"/><use href="#dm" x="513.9" y="631.3"/><use href="#dm" x="514.8" y="632.0"/><use href="#dm" x="515.7" y="635.4"/><use href="#dm" x="516.6" y="639.7"/><use href="#dm" x="517.5" y="646.8"/><use href="#dm" x="518.4" y="653.9"/><use href="#dm" x="519.3" y="662.3"/><use href="#dm" x="520.2" y="670.7"/><use href="#dm" x="521.1" y="676.1"/><use href="#dm" x="522.0" y="679.1"/><use href="#dm" x="522.9" y="682.1"/><use href="#dm" x="523.8" y="684.6"/><use href="#dm" x="524.7" y="686.3"/><use href="#dm" x="525.6" y="688.0"/><use href="#dm" x="526.5" y="689.9"/><use href="#dm" x="527.4" y="692.3"/><use href="#dm" x="528.3" y="694.7"/><use href="#dm" x="529.2" y="696.7"/><use href="#dm" x="530.1" y="694.9"/><use href="#dm" x="531.0" y="694.3"/><use href="#dm" x="531.9" y="693.7"/><use href="#dm" x="532.8" y="693.1"/><use href="#dm" x="533.7" y="695.1"/><use href="#dm" x="534.6" y="696.7"/><use href="#dm" x="535.5" y="693.7"/><use href="#dm" x="536.4" y="690.6"/><use href="#dm" x="537.3" y="688.2"/><use href="#dm" x="538.2" y="686.2"/><use href="#dm" x="539.1" y="684.1"/><use href="#dm" x="540.0" y="685.5"/><use href="#dm" x="540.9" y="688.7"/><use href="#dm" x="541.8" y="697.3"/><use href="#dm" x="542.7" y="707.8"/><use href="#dm" x="543.6" y="715.3"/><use href="#dm" x="544.5" y="722.4"/><use href="#dm" x="545.4" y="729.4"/><use href="#dm" x="546.3" y="734.2"/><use href="#dm" x="547.2" y="735.6"/><use href="#dm" x="548.1" y="736.3"/><use href="#dm" x="549.0" y="736.0"/><use href="#dm" x="549.9" y="734.3"/><use href="#dm" x="550.8" y="731.2"/><use href="#dm" x="551.6" y="725.7"/><use href="#dm" x="552.5" y="717.3"/><use href="#dm" x="553.4" y="713.9"/><use href="#dm" x="554.3" y="711.5"/><use href="#dm" x="555.2" y="710.1"/><use href="#dm" x="556.1" y="711.4"/><use href="#dm" x="557.0" y="714.5"/><use href="#dm" x="557.9" y="717.9"/><use href="#dm" x="558.8" y="721.6"/><use href="#dm" x="559.7" y="724.8"/><use href="#dm" x="560.6" y="727.8"/><use href="#dm" x="561.5" y="728.3"/><use href="#dm" x="562.4" y="724.3"/><use href="#dm" x="563.3" y="717.2"/><use href="#dm" x="564.2" y="707.9"/><use href="#dm" x="565.1" y="699.1"/><use href="#dm" x="566.0" y="693.5"/><use href="#dm" x="566.9" y="691.9"/><use href="#dm" x="567.8" y="692.9"/><use href="#dm" x="568.7" y="696.6"/><use href="#dm" x="569.6" y="699.7"/><use href="#dm" x="570.5" y="702.4"/><use href="#dm" x="571.4" y="704.3"/><use href="#dm" x="572.3" y="705.7"/><use href="#dm" x="573.2" y="707.2"/><use href="#dm" x="574.1" y="708.7"/><use href="#dm" x="575.0" y="710.2"/><use href="#dm" x="575.9" y="715.2"/><use href="#dm" x="576.8" y="722.5"/><use href="#dm" x="577.7" y="730.5"/><use href="#dm" x="578.6" y="736.2"/><use href="#dm" x="579.5" y="741.4"/><use href="#dm" x="580.4" y="745.0"/><use href="#dm" x="581.3" y="748.5"/><use href="#dm" x="582.2" y="750.8"/><use href="#dm" x="583.1" y="752.9"/><use href="#dm" x="584.0" y="755.0"/><use href="#dm" x="584.9" y="755.0"/><use href="#dm" x="585.8" y="753.8"/><use href="#dm" x="586.7" y="750.1"/><use href="#dm" x="587.6" y="741.2"/><use href="#dm" x="588.5" y="728.3"/><use href="#dm" x="589.4" y="704.6"/><use href="#dm" x="590.3" y="679.6"/><use href="#dm" x="591.2" y="664.4"/><use href="#dm" x="592.1" y="646.9"/></g>
<polyline points="50.4,607.9 51.3,610.0 52.2,612.2 53.1,614.8 54.0,617.6 54.9,620.6 55.8,624.1 56.7,627.5 57.6,628.5 58.5,629.4 59.4,630.9 60.3,632.7 61.2,635.0 62.1,639.3 63.0,652.6 63.9,659.7 64.8,665.7 65.7,670.0 66.6,672.8 67.5,673.1 68.4,667.4 69.3,662.3 70.2,658.2 71.1,656.8 72.0,656.3 72.9,655.1 73.8,653.3 74.7,649.0 75.6,643.4 76.4,638.0 77.3,635.2 78.2,633.9 79.1,633.3 80.0,635.0 80.9,637.5 81.8,641.3 82.7,653.5 83.6,666.5 84.5,683.7 85.4,695.0 86.3,706.3 87.2,715.9 88.1,723.3 89.0,730.0 89.9,736.0 90.8,740.5 91.7,743.1 92.6,744.8 93.5,746.0 94.4,745.7 95.3,744.8 96.2,743.6 97.1,741.7 98.0,739.9 98.9,736.5 99.8,732.9 100.7,726.5 101.6,721.3 102.5,717.5 103.4,716.0 104.3,717.3 105.2,720.4 106.1,726.6 107.0,732.7 107.9,738.7 108.8,744.4 109.7,748.2 110.6,751.8 111.5,754.0 112.4,755.1 113.3,756.3 114.2,756.0 115.1,754.6 116.0,752.7 116.9,748.9 117.8,745.2 118.7,740.0 119.6,735.1 120.5,730.7 121.4,727.4 122.3,725.3 123.2,725.6 124.1,726.2 125.0,730.6 125.9,735.0 126.8,739.4 127.7,744.1 128.6,748.0 129.4,750.9 130.3,753.6 131.2,754.9 132.1,756.2 133.0,757.5 133.9,758.1 134.8,758.6 135.7,759.1 136.6,759.4 137.5,759.1 138.4,758.7 139.3,758.4 140.2,757.7 141.1,756.5 142.0,755.4 142.9,753.9 143.8,751.6 144.7,749.4 145.6,746.9 146.5,743.9 147.4,741.0 148.3,739.1 149.2,737.3 150.1,737.4 151.0,738.0 151.9,740.0 152.8,743.6 153.7,747.2 154.6,750.5 155.5,753.6 156.4,756.5 157.3,759.1 158.2,759.9 159.1,760.7 160.0,761.1 160.9,760.8 161.8,760.6 162.7,760.4 163.6,759.5 164.5,758.4 165.4,757.4 166.3,756.3 167.2,755.0 168.1,753.8 169.0,752.5 169.9,752.3 170.8,752.0 171.7,752.7 172.6,754.5 173.5,756.3 174.4,757.3 175.3,758.2 176.2,759.1 177.1,758.5 178.0,757.6 178.9,756.7 179.8,756.0 180.7,755.3 181.6,754.6 182.4,754.4 183.3,754.7 184.2,755.1 185.1,755.6 186.0,756.5 186.9,757.4 187.8,758.0 188.7,757.9 189.6,757.7 190.5,757.1 191.4,754.1 192.3,750.2 193.2,743.4 194.1,735.3 195.0,725.5 195.9,717.8 196.8,706.8 197.7,699.1 198.6,697.3 199.5,700.5 200.4,707.3 201.3,716.3 202.2,726.2 203.1,731.8 204.0,738.0 204.9,743.4 205.8,745.1 206.7,746.3 207.6,746.3 208.5,746.3 209.4,746.5 210.3,747.0 211.2,747.4 212.1,748.9 213.0,750.5 213.9,751.2 214.8,751.8 215.7,752.5 216.6,752.3 217.5,751.6 218.4,751.0 219.3,749.7 220.2,747.2 221.1,744.7 222.0,741.6 222.9,737.1 223.8,732.1 224.7,725.8 225.6,717.1 226.5,707.2 227.4,698.2 228.3,690.8 229.2,685.1 230.1,682.1 231.0,680.6 231.9,679.2 232.8,679.9 233.7,680.5 234.5,683.3 235.4,687.3 236.3,698.7 237.2,711.7 238.1,724.1 239.0,732.9 239.9,737.7 240.8,740.4 241.7,741.9 242.6,742.7 243.5,741.4 244.4,738.7 245.3,733.3 246.2,725.2 247.1,716.1 248.0,708.6 248.9,703.0 249.8,698.4 250.7,697.5 251.6,699.3 252.5,702.8 253.4,707.7 254.3,713.2 255.2,718.3 256.1,721.9 257.0,722.5 257.9,720.7 258.8,715.7 259.7,709.7 260.6,701.9 261.5,691.4 262.4,683.3 263.3,676.9 264.2,671.7 265.1,668.1 266.0,665.5 266.9,663.7 267.8,662.3 268.7,665.4 269.6,673.2 270.5,682.5 271.4,691.3 272.3,700.1 273.2,707.5 274.1,714.3 275.0,722.7 275.9,735.2 276.8,741.9 277.7,747.3 278.6,749.8 279.5,752.1 280.4,753.1 281.3,753.6 282.2,754.2 283.1,752.6 284.0,751.0 284.9,748.0 285.8,744.6 286.7,740.1 287.5,733.1 288.4,722.2 289.3,709.5 290.2,699.3 291.1,695.3 292.0,697.3 292.9,701.7 293.8,714.6 294.7,729.9 295.6,739.3 296.5,744.2 297.4,748.0 298.3,749.7 299.2,751.5 300.1,752.3 301.0,752.6 301.9,753.0 302.8,753.3 303.7,753.5 304.6,753.5 305.5,753.5 306.4,753.5 307.3,753.3 308.2,752.6 309.1,751.9 310.0,751.2 310.9,749.1 311.8,746.9 312.7,743.5 313.6,739.0 314.5,731.8 315.4,724.7 316.3,718.7 317.2,714.4 318.1,711.5 319.0,709.0 319.9,709.9 320.8,710.8 321.7,711.6 322.6,710.0 323.5,708.0 324.4,706.7 325.3,705.3 326.2,706.7 327.1,708.2 328.0,711.8 328.9,717.3 329.8,723.3 330.7,729.1 331.6,734.7 332.5,739.5 333.4,743.5 334.3,744.4 335.2,745.0 336.1,744.1 337.0,743.2 337.9,742.3 338.8,741.9 339.7,741.5 340.5,741.2 341.4,740.8 342.3,740.8 343.2,741.0 344.1,741.2 345.0,741.4 345.9,741.7 346.8,742.2 347.7,742.6 348.6,743.2 349.5,744.4 350.4,745.6 351.3,747.9 352.2,750.6 353.1,752.7 354.0,754.9 354.9,757.0 355.8,756.1 356.7,755.3 357.6,753.4 358.5,750.4 359.4,746.4 360.3,742.9 361.2,733.3 362.1,724.0 363.0,715.7 363.9,705.3 364.8,689.6 365.7,683.8 366.6,680.1 367.5,679.9 368.4,681.3 369.3,684.3 370.2,692.3 371.1,700.6 372.0,706.4 372.9,712.5 373.8,714.7 374.7,711.6 375.6,708.6 376.5,705.6 377.4,704.2 378.3,708.7 379.2,712.9 380.1,717.0 381.0,721.9 381.9,727.2 382.8,730.7 383.7,734.3 384.6,735.9 385.5,737.3 386.4,738.6 387.3,739.8 388.2,741.0 389.1,742.2 390.0,743.4 390.9,743.4 391.8,742.6 392.7,741.8 393.5,741.6 394.4,741.8 395.3,742.0 396.2,742.2 397.1,742.2 398.0,742.2 398.9,742.2 399.8,740.8 400.7,739.3 401.6,736.9 402.5,733.5 403.4,730.3 404.3,727.7 405.2,725.8 406.1,726.1 407.0,726.4 407.9,729.2 408.8,732.6 409.7,737.1 410.6,742.5 411.5,745.7 412.4,748.7 413.3,750.9 414.2,753.0 415.1,754.3 416.0,754.7 416.9,755.0 417.8,753.0 418.7,750.7 419.6,746.5 420.5,741.8 421.4,736.1 422.3,729.5 423.2,722.1 424.1,714.8 425.0,709.6 425.9,707.9 426.8,709.7 427.7,712.4 428.6,716.9 429.5,722.0 430.4,727.4 431.3,731.9 432.2,735.2 433.1,737.4 434.0,738.9 434.9,739.7 435.8,738.5 436.7,737.3 437.6,735.9 438.5,733.7 439.4,731.6 440.3,728.1 441.2,723.7 442.1,718.4 443.0,711.6 443.9,706.0 444.8,700.9 445.7,696.4 446.5,691.5 447.4,686.5 448.3,685.4 449.2,684.9 450.1,687.1 451.0,689.7 451.9,693.8 452.8,700.4 453.7,705.3 454.6,709.0 455.5,711.3 456.4,712.5 457.3,713.1 458.2,713.7 459.1,713.6 460.0,713.3 460.9,712.8 461.8,710.9 462.7,709.1 463.6,708.9 464.5,710.6 465.4,712.4 466.3,714.2 467.2,713.1 468.1,711.3 469.0,709.9 469.9,708.6 470.8,706.9 471.7,705.1 472.6,702.6 473.5,700.0 474.4,692.1 475.3,681.8 476.2,677.3 477.1,673.9 478.0,672.7 478.9,671.6 479.8,670.8 480.7,670.8 481.6,670.8 482.5,672.6 483.4,675.3 484.3,678.8 485.2,682.3 486.1,685.5 487.0,688.6 487.9,690.4 488.8,692.1 489.7,692.8 490.6,693.4 491.5,694.0 492.4,693.3 493.3,692.4 494.2,691.5 495.1,690.4 496.0,689.2 496.9,688.0 497.8,685.3 498.6,681.8 499.5,676.3 500.4,668.8 501.3,664.1 502.2,662.4 503.1,660.0 504.0,656.4 504.9,652.9 505.8,649.3 506.7,645.7 507.6,642.0 508.5,638.5 509.4,636.3 510.3,634.1 511.2,634.4 512.1,634.7 513.0,635.0 513.9,638.2 514.8,641.8 515.7,646.6 516.6,651.7 517.5,657.6 518.4,662.5 519.3,666.9 520.2,669.1 521.1,671.3 522.0,674.2 522.9,677.9 523.8,681.6 524.7,685.1 525.6,688.1 526.5,689.8 527.4,691.4 528.3,692.8 529.2,694.0 530.1,694.9 531.0,694.3 531.9,693.7 532.8,693.1 533.7,695.1 534.6,696.7 535.5,693.7 536.4,690.6 537.3,688.2 538.2,686.2 539.1,684.1 540.0,685.5 540.9,688.7 541.8,697.3 542.7,707.8 543.6,715.3 544.5,722.4 545.4,729.4 546.3,734.2 547.2,735.6 548.1,736.3 549.0,736.0 549.9,734.3 550.8,731.2 551.6,725.7 552.5,717.3 553.4,713.9 554.3,711.5 555.2,710.1 556.1,711.4 557.0,714.5 557.9,717.9 558.8,721.6 559.7,724.8 560.6,727.8 561.5,728.3 562.4,724.3 563.3,717.2 564.2,707.9 565.1,699.1 566.0,693.5 566.9,691.9 567.8,692.9 568.7,696.6 569.6,699.7 570.5,702.4 571.4,704.3 572.3,705.7 573.2,707.2 574.1,708.7 575.0,710.2 575.9,715.2 576.8,722.5 577.7,730.5 578.6,736.2 579.5,741.4 580.4,745.0 581.3,748.5 582.2,750.8 583.1,752.9 584.0,755.0 584.9,755.0 585.8,753.8 586.7,750.1 587.6,741.2 588.5,728.3 589.4,704.6 590.3,679.6 591.2,664.4 592.1,646.9" fill="none" stroke="#ED7D31" stroke-width="1.5" stroke-linejoin="round"/>
<g><use href="#sq" x="50.4" y="607.9"/><use href="#sq" x="51.3" y="610.0"/><use href="#sq" x="52.2" y="612.2"/><use href="#sq" x="53.1" y="614.8"/><use href="#sq" x="54.0" y="617.6"/><use href="#sq" x="54.9" y="620.6"/><use href="#sq" x="55.8" y="624.1"/><use href="#sq" x="56.7" y="627.5"/><use href="#sq" x="57.6" y="628.5"/><use href="#sq" x="58.5" y="629.4"/><use href="#sq" x="59.4" y="630.9"/><use href="#sq" x="60.3" y="632.7"/><use href="#sq" x="61.2" y="635.0"/><use href="#sq" x="62.1" y="639.3"/><use href="#sq" x="63.0" y="652.6"/><use href="#sq" x="63.9" y="659.7"/><use href="#sq" x="64.8" y="665.7"/><use href="#sq" x="65.7" y="670.0"/><use href="#sq" x="66.6" y="672.8"/><use href="#sq" x="67.5" y="673.1"/><use href="#sq" x="68.4" y="667.4"/><use href="#sq" x="69.3" y="662.3"/><use href="#sq" x="70.2" y="658.2"/><use href="#sq" x="71.1" y="656.8"/><use href="#sq" x="72.0" y="656.3"/><use href="#sq" x="72.9" y="655.1"/><use href="#sq" x="73.8" y="653.3"/><use href="#sq" x="74.7" y="649.0"/><use href="#sq" x="75.6" y="643.4"/><use href="#sq" x="76.4" y="638.0"/><use href="#sq" x="77.3" y="635.2"/><use href="#sq" x="78.2" y="633.9"/><use href="#sq" x="79.1" y="633.3"/><use href="#sq" x="80.0" y="635.0"/><use href="#sq" x="80.9" y="637.5"/><use href="#sq" x="81.8" y="641.3"/><use href="#sq" x="82.7" y="653.5"/><use href="#sq" x="83.6" y="666.5"/><use href="#sq" x="84.5" y="683.7"/><use href="#sq" x="85.4" y="695.0"/><use href="#sq" x="86.3" y="706.3"/><use href="#sq" x="87.2" y="715.9"/><use href="#sq" x="88.1" y="723.3"/><use href="#sq" x="89.0" y="730.0"/><use href="#sq" x="89.9" y="736.0"/><use href="#sq" x="90.8" y="740.5"/><use href="#sq" x="91.7" y="743.1"/><use href="#sq" x="92.6" y="744.8"/><use href="#sq" x="93.5" y="746.0"/><use href="#sq" x="94.4" y="745.7"/><use href="#sq" x="95.3" y="744.8"/><use href="#sq" x="96.2" y="743.6"/><use href="#sq" x="97.1" y="741.7"/><use href="#sq" x="98.0" y="739.9"/><use href="#sq" x="98.9" y="736.5"/><use href="#sq" x="99.8" y="732.9"/><use href="#sq" x="100.7" y="726.5"/><use href="#sq" x="101.6" y="721.3"/><use href="#sq" x="102.5" y="717.5"/><use href="#sq" x="103.4" y="716.0"/><use href="#sq" x="104.3" y="717.3"/><use href="#sq" x="105.2" y="720.4"/><use href="#sq" x="106.1" y="726.6"/><use href="#sq" x="107.0" y="732.7"/><use href="#sq" x="107.9" y="738.7"/><use href="#sq" x="108.8" y="744.4"/><use href="#sq" x="109.7" y="748.2"/><use href="#sq" x="110.6" y="751.8"/><use href="#sq" x="111.5" y="754.0"/><use href="#sq" x="112.4" y="755.1"/><use href="#sq" x="113.3" y="756.3"/><use href="#sq" x="114.2" y="756.0"/><use href="#sq" x="115.1" y="754.6"/><use href="#sq" x="116.0" y="752.7"/><use href="#sq" x="116.9" y="748.9"/><use href="#sq" x="117.8" y="745.2"/><use href="#sq" x="118.7" y="740.0"/><use href="#sq" x="119.6" y="735.1"/><use href="#sq" x="120.5" y="730.7"/><use href="#sq" x="121.4" y="727.4"/><use href="#sq" x="122.3" y="725.3"/><use href="#sq" x="123.2" y="725.6"/><use href="#sq" x="124.1" y="726.2"/><use href="#sq" x="125.0" y="730.6"/><use href="#sq" x="125.9" y="735.0"/><use href="#sq" x="126.8" y="739.4"/><use href="#sq" x="127.7" y="744.1"/><use href="#sq" x="128.6" y="748.0"/><use href="#sq" x="129.4" y="750.9"/><use href="#sq" x="130.3" y="753.6"/><use href="#sq" x="131.2" y="754.9"/><use href="#sq" x="132.1" y="756.2"/><use href="#sq" x="133.0" y="757.5"/><use href="#sq" x="133.9" y="758.1"/><use href="#sq" x="134.8" y="758.6"/><use href="#sq" x="135.7" y="759.1"/><use href="#sq" x="136.6" y="759.4"/><use href="#sq" x="137.5" y="759.1"/><use href="#sq" x="138.4" y="758.7"/><use href="#sq" x="139.3" y="758.4"/><use href="#sq" x="140.2" y="757.7"/><use href="#sq" x="141.1" y="756.5"/><use href="#sq" x="142.0" y="755.4"/><use href="#sq" x="142.9" y="753.9"/><use href="#sq" x="143.8" y="751.6"/><use href="#sq" x="144.7" y="749.4"/><use href="#sq" x="145.6" y="746.9"/><use href="#sq" x="146.5" y="743.9"/><use href="#sq" x="147.4" y="741.0"/><use href="#sq" x="148.3" y="739.1"/><use href="#sq" x="149.2" y="737.3"/><use href="#sq" x="150.1" y="737.4"/><use href="#sq" x="151.0" y="738.0"/><use href="#sq" x="151.9" y="740.0"/><use href="#sq" x="152.8" y="743.6"/><use href="#sq" x="153.7" y="747.2"/><use href="#sq" x="154.6" y="750.5"/><use href="#sq" x="155.5" y="753.6"/><use href="#sq" x="156.4" y="756.5"/><use href="#sq" x="157.3" y="759.1"/><use href="#sq" x="158.2" y="759.9"/><use href="#sq" x="159.1" y="760.7"/><use href="#sq" x="160.0" y="761.1"/><use href="#sq" x="160.9" y="760.8"/><use href="#sq" x="161.8" y="760.6"/><use href="#sq" x="162.7" y="760.4"/><use href="#sq" x="163.6" y="759.5"/><use href="#sq" x="164.5" y="758.4"/><use href="#sq" x="165.4" y="757.4"/><use href="#sq" x="166.3" y="756.3"/><use href="#sq" x="167.2" y="755.0"/><use href="#sq" x="168.1" y="753.8"/><use href="#sq" x="169.0" y="752.5"/><use href="#sq" x="169.9" y="752.3"/><use href="#sq" x="170.8" y="752.0"/><use href="#sq" x="171.7" y="752.7"/><use href="#sq" x="172.6" y="754.5"/><use href="#sq" x="173.5" y="756.3"/><use href="#sq" x="174.4" y="757.3"/><use href="#sq" x="175.3" y="758.2"/><use href="#sq" x="176.2" y="759.1"/><use href="#sq" x="177.1" y="758.5"/><use href="#sq" x="178.0" y="757.6"/><use href="#sq" x="178.9" y="756.7"/><use href="#sq" x="179.8" y="756.0"/><use href="#sq" x="180.7" y="755.3"/><use href="#sq" x="181.6" y="754.6"/><use href="#sq" x="182.4" y="754.4"/><use href="#sq" x="183.3" y="754.7"/><use href="#sq" x="184.2" y="755.1"/><use href="#sq" x="185.1" y="755.6"/><use href="#sq" x="186.0" y="756.5"/><use href="#sq" x="186.9" y="757.4"/><use href="#sq" x="187.8" y="758.0"/><use href="#sq" x="188.7" y="757.9"/><use href="#sq" x="189.6" y="757.7"/><use href="#sq" x="190.5" y="757.1"/><use href="#sq" x="191.4" y="754.1"/><use href="#sq" x="192.3" y="750.2"/><use href="#sq" x="193.2" y="743.4"/><use href="#sq" x="194.1" y="735.3"/><use href="#sq" x="195.0" y="725.5"/><use href="#sq" x="195.9" y="717.8"/><use href="#sq" x="196.8" y="706.8"/><use href="#sq" x="197.7" y="699.1"/><use href="#sq" x="198.6" y="697.3"/><use href="#sq" x="199.5" y="700.5"/><use href="#sq" x="200.4" y="707.3"/><use href="#sq" x="201.3" y="716.3"/><use href="#sq" x="202.2" y="726.2"/><use href="#sq" x="203.1" y="731.8"/><use href="#sq" x="204.0" y="738.0"/><use href="#sq" x="204.9" y="743.4"/><use href="#sq" x="205.8" y="745.1"/><use href="#sq" x="206.7" y="746.3"/><use href="#sq" x="207.6" y="746.3"/><use href="#sq" x="208.5" y="746.3"/><use href="#sq" x="209.4" y="746.5"/><use href="#sq" x="210.3" y="747.0"/><use href="#sq" x="211.2" y="747.4"/><use href="#sq" x="212.1" y="748.9"/><use href="#sq" x="213.0" y="750.5"/><use href="#sq" x="213.9" y="751.2"/><use href="#sq" x="214.8" y="751.8"/><use href="#sq" x="215.7" y="752.5"/><use href="#sq" x="216.6" y="752.3"/><use href="#sq" x="217.5" y="751.6"/><use href="#sq" x="218.4" y="751.0"/><use href="#sq" x="219.3" y="749.7"/><use href="#sq" x="220.2" y="747.2"/><use href="#sq" x="221.1" y="744.7"/><use href="#sq" x="222.0" y="741.6"/><use href="#sq" x="222.9" y="737.1"/><use href="#sq" x="223.8" y="732.1"/><use href="#sq" x="224.7" y="725.8"/><use href="#sq" x="225.6" y="717.1"/><use href="#sq" x="226.5" y="707.2"/><use href="#sq" x="227.4" y="698.2"/><use href="#sq" x="228.3" y="690.8"/><use href="#sq" x="229.2" y="685.1"/><use href="#sq" x="230.1" y="682.1"/><use href="#sq" x="231.0" y="680.6"/><use href="#sq" x="231.9" y="679.2"/><use href="#sq" x="232.8" y="679.9"/><use href="#sq" x="233.7" y="680.5"/><use href="#sq" x="234.5" y="683.3"/><use href="#sq" x="235.4" y="687.3"/><use href="#sq" x="236.3" y="698.7"/><use href="#sq" x="237.2" y="711.7"/><use href="#sq" x="238.1" y="724.1"/><use href="#sq" x="239.0" y="732.9"/><use href="#sq" x="239.9" y="737.7"/><use href="#sq" x="240.8" y="740.4"/><use href="#sq" x="241.7" y="741.9"/><use href="#sq" x="242.6" y="742.7"/><use href="#sq" x="243.5" y="741.4"/><use href="#sq" x="244.4" y="738.7"/><use href="#sq" x="245.3" y="733.3"/><use href="#sq" x="246.2" y="725.2"/><use href="#sq" x="247.1" y="716.1"/><use href="#sq" x="248.0" y="708.6"/><use href="#sq" x="248.9" y="703.0"/><use href="#sq" x="249.8" y="698.4"/><use href="#sq" x="250.7" y="697.5"/><use href="#sq" x="251.6" y="699.3"/><use href="#sq" x="252.5" y="702.8"/><use href="#sq" x="253.4" y="707.7"/><use href="#sq" x="254.3" y="713.2"/><use href="#sq" x="255.2" y="718.3"/><use href="#sq" x="256.1" y="721.9"/><use href="#sq" x="257.0" y="722.5"/><use href="#sq" x="257.9" y="720.7"/><use href="#sq" x="258.8" y="715.7"/><use href="#sq" x="259.7" y="709.7"/><use href="#sq" x="260.6" y="701.9"/><use href="#sq" x="261.5" y="691.4"/><use href="#sq" x="262.4" y="683.3"/><use href="#sq" x="263.3" y="676.9"/><use href="#sq" x="264.2" y="671.7"/><use href="#sq" x="265.1" y="668.1"/><use href="#sq" x="266.0" y="665.5"/><use href="#sq" x="266.9" y="663.7"/><use href="#sq" x="267.8" y="662.3"/><use href="#sq" x="268.7" y="665.4"/><use href="#sq" x="269.6" y="673.2"/><use href="#sq" x="270.5" y="682.5"/><use href="#sq" x="271.4" y="691.3"/><use href="#sq" x="272.3" y="700.1"/><use href="#sq" x="273.2" y="707.5"/><use href="#sq" x="274.1" y="714.3"/><use href="#sq" x="275.0" y="722.7"/><use href="#sq" x="275.9" y="735.2"/><use href="#sq" x="276.8" y="741.9"/><use href="#sq" x="277.7" y="747.3"/><use href="#sq" x="278.6" y="749.8"/><use href="#sq" x="279.5" y="752.1"/><use href="#sq" x="280.4" y="753.1"/><use href="#sq" x="281.3" y="753.6"/><use href="#sq" x="282.2" y="754.2"/><use href="#sq" x="283.1" y="752.6"/><use href="#sq" x="284.0" y="751.0"/><use href="#sq" x="284.9" y="748.0"/><use href="#sq" x="285.8" y="744.6"/><use href="#sq" x="286.7" y="740.1"/><use href="#sq" x="287.5" y="733.1"/><use href="#sq" x="288.4" y="722.2"/><use href="#sq" x="289.3" y="709.5"/><use href="#sq" x="290.2" y="699.3"/><use href="#sq" x="291.1" y="695.3"/><use href="#sq" x="292.0" y="697.3"/><use href="#sq" x="292.9" y="701.7"/><use href="#sq" x="293.8" y="714.6"/><use href="#sq" x="294.7" y="729.9"/><use href="#sq" x="295.6" y="739.3"/><use href="#sq" x="296.5" y="744.2"/><use href="#sq" x="297.4" y="748.0"/><use href="#sq" x="298.3" y="749.7"/><use href="#sq" x="299.2" y="751.5"/><use href="#sq" x="300.1" y="752.3"/><use href="#sq" x="301.0" y="752.6"/><use href="#sq" x="301.9" y="753.0"/><use href="#sq" x="302.8" y="753.3"/><use href="#sq" x="303.7" y="753.5"/><use href="#sq" x="304.6" y="753.5"/><use href="#sq" x="305.5" y="753.5"/><use href="#sq" x="306.4" y="753.5"/><use href="#sq" x="307.3" y="753.3"/><use href="#sq" x="308.2" y="752.6"/><use href="#sq" x="309.1" y="751.9"/><use href="#sq" x="310.0" y="751.2"/><use href="#sq" x="310.9" y="749.1"/><use href="#sq" x="311.8" y="746.9"/><use href="#sq" x="312.7" y="743.5"/><use href="#sq" x="313.6" y="739.0"/><use href="#sq" x="314.5" y="731.8"/><use href="#sq" x="315.4" y="724.7"/><use href="#sq" x="316.3" y="718.7"/><use href="#sq" x="317.2" y="714.4"/><use href="#sq" x="318.1" y="711.5"/><use href="#sq" x="319.0" y="709.0"/><use href="#sq" x="319.9" y="709.9"/><use href="#sq" x="320.8" y="710.8"/><use href="#sq" x="321.7" y="711.6"/><use href="#sq" x="322.6" y="710.0"/><use href="#sq" x="323.5" y="708.0"/><use href="#sq" x="324.4" y="706.7"/><use href="#sq" x="325.3" y="705.3"/><use href="#sq" x="326.2" y="706.7"/><use href="#sq" x="327.1" y="708.2"/><use href="#sq" x="328.0" y="711.8"/><use href="#sq" x="328.9" y="717.3"/><use href="#sq" x="329.8" y="723.3"/><use href="#sq" x="330.7" y="729.1"/><use href="#sq" x="331.6" y="734.7"/><use href="#sq" x="332.5" y="739.5"/><use href="#sq" x="333.4" y="743.5"/><use href="#sq" x="334.3" y="744.4"/><use href="#sq" x="335.2" y="745.0"/><use href="#sq" x="336.1" y="744.1"/><use href="#sq" x="337.0" y="743.2"/><use href="#sq" x="337.9" y="742.3"/><use href="#sq" x="338.8" y="741.9"/><use href="#sq" x="339.7" y="741.5"/><use href="#sq" x="340.5" y="741.2"/><use href="#sq" x="341.4" y="740.8"/><use href="#sq" x="342.3" y="740.8"/><use href="#sq" x="343.2" y="741.0"/><use href="#sq" x="344.1" y="741.2"/><use href="#sq" x="345.0" y="741.4"/><use href="#sq" x="345.9" y="741.7"/><use href="#sq" x="346.8" y="742.2"/><use href="#sq" x="347.7" y="742.6"/><use href="#sq" x="348.6" y="743.2"/><use href="#sq" x="349.5" y="744.4"/><use href="#sq" x="350.4" y="745.6"/><use href="#sq" x="351.3" y="747.9"/><use href="#sq" x="352.2" y="750.6"/><use href="#sq" x="353.1" y="752.7"/><use href="#sq" x="354.0" y="754.9"/><use href="#sq" x="354.9" y="757.0"/><use href="#sq" x="355.8" y="756.1"/><use href="#sq" x="356.7" y="755.3"/><use href="#sq" x="357.6" y="753.4"/><use href="#sq" x="358.5" y="750.4"/><use href="#sq" x="359.4" y="746.4"/><use href="#sq" x="360.3" y="742.9"/><use href="#sq" x="361.2" y="733.3"/><use href="#sq" x="362.1" y="724.0"/><use href="#sq" x="363.0" y="715.7"/><use href="#sq" x="363.9" y="705.3"/><use href="#sq" x="364.8" y="689.6"/><use href="#sq" x="365.7" y="683.8"/><use href="#sq" x="366.6" y="680.1"/><use href="#sq" x="367.5" y="679.9"/><use href="#sq" x="368.4" y="681.3"/><use href="#sq" x="369.3" y="684.3"/><use href="#sq" x="370.2" y="692.3"/><use href="#sq" x="371.1" y="700.6"/><use href="#sq" x="372.0" y="706.4"/><use href="#sq" x="372.9" y="712.5"/><use href="#sq" x="373.8" y="714.7"/><use href="#sq" x="374.7" y="711.6"/><use href="#sq" x="375.6" y="708.6"/><use href="#sq" x="376.5" y="705.6"/><use href="#sq" x="377.4" y="704.2"/><use href="#sq" x="378.3" y="708.7"/><use href="#sq" x="379.2" y="712.9"/><use href="#sq" x="380.1" y="717.0"/><use href="#sq" x="381.0" y="721.9"/><use href="#sq" x="381.9" y="727.2"/><use href="#sq" x="382.8" y="730.7"/><use href="#sq" x="383.7" y="734.3"/><use href="#sq" x="384.6" y="735.9"/><use href="#sq" x="385.5" y="737.3"/><use href="#sq" x="386.4" y="738.6"/><use href="#sq" x="387.3" y="739.8"/><use href="#sq" x="388.2" y="741.0"/><use href="#sq" x="389.1" y="742.2"/><use href="#sq" x="390.0" y="743.4"/><use href="#sq" x="390.9" y="743.4"/><use href="#sq" x="391.8" y="742.6"/><use href="#sq" x="392.7" y="741.8"/><use href="#sq" x="393.5" y="741.6"/><use href="#sq" x="394.4" y="741.8"/><use href="#sq" x="395.3" y="742.0"/><use href="#sq" x="396.2" y="742.2"/><use href="#sq" x="397.1" y="742.2"/><use href="#sq" x="398.0" y="742.2"/><use href="#sq" x="398.9" y="742.2"/><use href="#sq" x="399.8" y="740.8"/><use href="#sq" x="400.7" y="739.3"/><use href="#sq" x="401.6" y="736.9"/><use href="#sq" x="402.5" y="733.5"/><use href="#sq" x="403.4" y="730.3"/><use href="#sq" x="404.3" y="727.7"/><use href="#sq" x="405.2" y="725.8"/><use href="#sq" x="406.1" y="726.1"/><use href="#sq" x="407.0" y="726.4"/><use href="#sq" x="407.9" y="729.2"/><use href="#sq" x="408.8" y="732.6"/><use href="#sq" x="409.7" y="737.1"/><use href="#sq" x="410.6" y="742.5"/><use href="#sq" x="411.5" y="745.7"/><use href="#sq" x="412.4" y="748.7"/><use href="#sq" x="413.3" y="750.9"/><use href="#sq" x="414.2" y="753.0"/><use href="#sq" x="415.1" y="754.3"/><use href="#sq" x="416.0" y="754.7"/><use href="#sq" x="416.9" y="755.0"/><use href="#sq" x="417.8" y="753.0"/><use href="#sq" x="418.7" y="750.7"/><use href="#sq" x="419.6" y="746.5"/><use href="#sq" x="420.5" y="741.8"/><use href="#sq" x="421.4" y="736.1"/><use href="#sq" x="422.3" y="729.5"/><use href="#sq" x="423.2" y="722.1"/><use href="#sq" x="424.1" y="714.8"/><use href="#sq" x="425.0" y="709.6"/><use href="#sq" x="425.9" y="707.9"/><use href="#sq" x="426.8" y="709.7"/><use href="#sq" x="427.7" y="712.4"/><use href="#sq" x="428.6" y="716.9"/><use href="#sq" x="429.5" y="722.0"/><use href="#sq" x="430.4" y="727.4"/><use href="#sq" x="431.3" y="731.9"/><use href="#sq" x="432.2" y="735.2"/><use href="#sq" x="433.1" y="737.4"/><use href="#sq" x="434.0" y="738.9"/><use href="#sq" x="434.9" y="739.7"/><use href="#sq" x="435.8" y="738.5"/><use href="#sq" x="436.7" y="737.3"/><use href="#sq" x="437.6" y="735.9"/><use href="#sq" x="438.5" y="733.7"/><use href="#sq" x="439.4" y="731.6"/><use href="#sq" x="440.3" y="728.1"/><use href="#sq" x="441.2" y="723.7"/><use href="#sq" x="442.1" y="718.4"/><use href="#sq" x="443.0" y="711.6"/><use href="#sq" x="443.9" y="706.0"/><use href="#sq" x="444.8" y="700.9"/><use href="#sq" x="445.7" y="696.4"/><use href="#sq" x="446.5" y="691.5"/><use href="#sq" x="447.4" y="686.5"/><use href="#sq" x="448.3" y="685.4"/><use href="#sq" x="449.2" y="684.9"/><use href="#sq" x="450.1" y="687.1"/><use href="#sq" x="451.0" y="689.7"/><use href="#sq" x="451.9" y="693.8"/><use href="#sq" x="452.8" y="700.4"/><use href="#sq" x="453.7" y="705.3"/><use href="#sq" x="454.6" y="709.0"/><use href="#sq" x="455.5" y="711.3"/><use href="#sq" x="456.4" y="712.5"/><use href="#sq" x="457.3" y="713.1"/><use href="#sq" x="458.2" y="713.7"/><use href="#sq" x="459.1" y="713.6"/><use href="#sq" x="460.0" y="713.3"/><use href="#sq" x="460.9" y="712.8"/><use href="#sq" x="461.8" y="710.9"/><use href="#sq" x="462.7" y="709.1"/><use href="#sq" x="463.6" y="708.9"/><use href="#sq" x="464.5" y="710.6"/><use href="#sq" x="465.4" y="712.4"/><use href="#sq" x="466.3" y="714.2"/><use href="#sq" x="467.2" y="713.1"/><use href="#sq" x="468.1" y="711.3"/><use href="#sq" x="469.0" y="709.9"/><use href="#sq" x="469.9" y="708.6"/><use href="#sq" x="470.8" y="706.9"/><use href="#sq" x="471.7" y="705.1"/><use href="#sq" x="472.6" y="702.6"/><use href="#sq" x="473.5" y="700.0"/><use href="#sq" x="474.4" y="692.1"/><use href="#sq" x="475.3" y="681.8"/><use href="#sq" x="476.2" y="677.3"/><use href="#sq" x="477.1" y="673.9"/><use href="#sq" x="478.0" y="672.7"/><use href="#sq" x="478.9" y="671.6"/><use href="#sq" x="479.8" y="670.8"/><use href="#sq" x="480.7" y="670.8"/><use href="#sq" x="481.6" y="670.8"/><use href="#sq" x="482.5" y="672.6"/><use href="#sq" x="483.4" y="675.3"/><use href="#sq" x="484.3" y="678.8"/><use href="#sq" x="485.2" y="682.3"/><use href="#sq" x="486.1" y="685.5"/><use href="#sq" x="487.0" y="688.6"/><use href="#sq" x="487.9" y="690.4"/><use href="#sq" x="488.8" y="692.1"/><use href="#sq" x="489.7" y="692.8"/><use href="#sq" x="490.6" y="693.4"/><use href="#sq" x="491.5" y="694.0"/><use href="#sq" x="492.4" y="693.3"/><use href="#sq" x="493.3" y="692.4"/><use href="#sq" x="494.2" y="691.5"/><use href="#sq" x="495.1" y="690.4"/><use href="#sq" x="496.0" y="689.2"/><use href="#sq" x="496.9" y="688.0"/><use href="#sq" x="497.8" y="685.3"/><use href="#sq" x="498.6" y="681.8"/><use href="#sq" x="499.5" y="676.3"/><use href="#sq" x="500.4" y="668.8"/><use href="#sq" x="501.3" y="664.1"/><use href="#sq" x="502.2" y="662.4"/><use href="#sq" x="503.1" y="660.0"/><use href="#sq" x="504.0" y="656.4"/><use href="#sq" x="504.9" y="652.9"/><use href="#sq" x="505.8" y="649.3"/><use href="#sq" x="506.7" y="645.7"/><use href="#sq" x="507.6" y="642.0"/><use href="#sq" x="508.5" y="638.5"/><use href="#sq" x="509.4" y="636.3"/><use href="#sq" x="510.3" y="634.1"/><use href="#sq" x="511.2" y="634.4"/><use href="#sq" x="512.1" y="634.7"/><use href="#sq" x="513.0" y="635.0"/><use href="#sq" x="513.9" y="638.2"/><use href="#sq" x="514.8" y="641.8"/><use href="#sq" x="515.7" y="646.6"/><use href="#sq" x="516.6" y="651.7"/><use href="#sq" x="517.5" y="657.6"/><use href="#sq" x="518.4" y="662.5"/><use href="#sq" x="519.3" y="666.9"/><use href="#sq" x="520.2" y="669.1"/><use href="#sq" x="521.1" y="671.3"/><use href="#sq" x="522.0" y="674.2"/><use href="#sq" x="522.9" y="677.9"/><use href="#sq" x="523.8" y="681.6"/><use href="#sq" x="524.7" y="685.1"/><use href="#sq" x="525.6" y="688.1"/><use href="#sq" x="526.5" y="689.8"/><use href="#sq" x="527.4" y="691.4"/><use href="#sq" x="528.3" y="692.8"/><use href="#sq" x="529.2" y="694.0"/><use href="#sq" x="530.1" y="694.9"/><use href="#sq" x="531.0" y="694.3"/><use href="#sq" x="531.9" y="693.7"/><use href="#sq" x="532.8" y="693.1"/><use href="#sq" x="533.7" y="695.1"/><use href="#sq" x="534.6" y="696.7"/><use href="#sq" x="535.5" y="693.7"/><use href="#sq" x="536.4" y="690.6"/><use href="#sq" x="537.3" y="688.2"/><use href="#sq" x="538.2" y="686.2"/><use href="#sq" x="539.1" y="684.1"/><use href="#sq" x="540.0" y="685.5"/><use href="#sq" x="540.9" y="688.7"/><use href="#sq" x="541.8" y="697.3"/><use href="#sq" x="542.7" y="707.8"/><use href="#sq" x="543.6" y="715.3"/><use href="#sq" x="544.5" y="722.4"/><use href="#sq" x="545.4" y="729.4"/><use href="#sq" x="546.3" y="734.2"/><use href="#sq" x="547.2" y="735.6"/><use href="#sq" x="548.1" y="736.3"/><use href="#sq" x="549.0" y="736.0"/><use href="#sq" x="549.9" y="734.3"/><use href="#sq" x="550.8" y="731.2"/><use href="#sq" x="551.6" y="725.7"/><use href="#sq" x="552.5" y="717.3"/><use href="#sq" x="553.4" y="713.9"/><use href="#sq" x="554.3" y="711.5"/><use href="#sq" x="555.2" y="710.1"/><use href="#sq" x="556.1" y="711.4"/><use href="#sq" x="557.0" y="714.5"/><use href="#sq" x="557.9" y="717.9"/><use href="#sq" x="558.8" y="721.6"/><use href="#sq" x="559.7" y="724.8"/><use href="#sq" x="560.6" y="727.8"/><use href="#sq" x="561.5" y="728.3"/><use href="#sq" x="562.4" y="724.3"/><use href="#sq" x="563.3" y="717.2"/><use href="#sq" x="564.2" y="707.9"/><use href="#sq" x="565.1" y="699.1"/><use href="#sq" x="566.0" y="693.5"/><use href="#sq" x="566.9" y="691.9"/><use href="#sq" x="567.8" y="692.9"/><use href="#sq" x="568.7" y="696.6"/><use href="#sq" x="569.6" y="699.7"/><use href="#sq" x="570.5" y="702.4"/><use href="#sq" x="571.4" y="704.3"/><use href="#sq" x="572.3" y="705.7"/><use href="#sq" x="573.2" y="707.2"/><use href="#sq" x="574.1" y="708.7"/><use href="#sq" x="575.0" y="710.2"/><use href="#sq" x="575.9" y="715.2"/><use href="#sq" x="576.8" y="722.5"/><use href="#sq" x="577.7" y="730.5"/><use href="#sq" x="578.6" y="736.2"/><use href="#sq" x="579.5" y="741.4"/><use href="#sq" x="580.4" y="745.0"/><use href="#sq" x="581.3" y="748.5"/><use href="#sq" x="582.2" y="750.8"/><use href="#sq" x="583.1" y="752.9"/><use href="#sq" x="584.0" y="755.0"/><use href="#sq" x="584.9" y="755.0"/><use href="#sq" x="585.8" y="753.8"/><use href="#sq" x="586.7" y="750.1"/><use href="#sq" x="587.6" y="741.2"/><use href="#sq" x="588.5" y="728.3"/><use href="#sq" x="589.4" y="704.6"/><use href="#sq" x="590.3" y="679.6"/><use href="#sq" x="591.2" y="664.4"/><use href="#sq" x="592.1" y="646.9"/></g>
<text transform="translate(39.4,575.4) scale(0.98,1)" font-size="10.0" font-weight="bold" text-anchor="end">1</text>
<text transform="translate(39.4,623.4) scale(0.98,1)" font-size="10.0" font-weight="bold" text-anchor="end">0.75</text>
<text transform="translate(39.4,671.4) scale(0.98,1)" font-size="10.0" font-weight="bold" text-anchor="end">0.5</text>
<text transform="translate(39.4,719.4) scale(0.98,1)" font-size="10.0" font-weight="bold" text-anchor="end">0.25</text>
<text transform="translate(39.4,767.4) scale(0.98,1)" font-size="10.0" font-weight="bold" text-anchor="end">0</text>
<text transform="translate(49.5,781.0) scale(0.98,1)" font-size="10.0" font-weight="bold" text-anchor="middle">0</text>
<text transform="translate(139.3,781.0) scale(0.98,1)" font-size="10.0" font-weight="bold" text-anchor="middle">100</text>
<text transform="translate(229.2,781.0) scale(0.98,1)" font-size="10.0" font-weight="bold" text-anchor="middle">200</text>
<text transform="translate(319.0,781.0) scale(0.98,1)" font-size="10.0" font-weight="bold" text-anchor="middle">300</text>
<text transform="translate(408.8,781.0) scale(0.98,1)" font-size="10.0" font-weight="bold" text-anchor="middle">400</text>
<text transform="translate(498.6,781.0) scale(0.98,1)" font-size="10.0" font-weight="bold" text-anchor="middle">500</text>
<text transform="translate(588.5,781.0) scale(0.98,1)" font-size="10.0" font-weight="bold" text-anchor="middle">600</text>
<text x="299.6" y="796.6" font-size="14.5" stroke="#000" stroke-width="0.25" textLength="146.3" lengthAdjust="spacingAndGlyphs">Poly-peptide sequence</text>
<text transform="translate(12.0,728.3) rotate(-90)" x="0" y="0" font-size="14.5" stroke="#000" stroke-width="0.25" textLength="86.3" lengthAdjust="spacingAndGlyphs">PONDR-Score</text>
<line x1="618.4" x2="636.0" y1="665.5" y2="665.5" stroke="#4472C4" stroke-width="1.5"/>
<use href="#dm" x="627.2" y="665.5"/>
<text x="637.5" y="668.6" font-size="10.2" font-weight="bold" font-style="italic" textLength="47.7" lengthAdjust="spacingAndGlyphs">P. cristatus</text>
<line x1="618.4" x2="636.0" y1="683.6" y2="683.6" stroke="#ED7D31" stroke-width="1.5"/>
<use href="#sq" x="627.2" y="683.6"/>
<text x="637.5" y="686.7" font-size="10.2" font-weight="bold" font-style="italic" textLength="44.5" lengthAdjust="spacingAndGlyphs">P. muticus</text></g>
</svg></body></html>
